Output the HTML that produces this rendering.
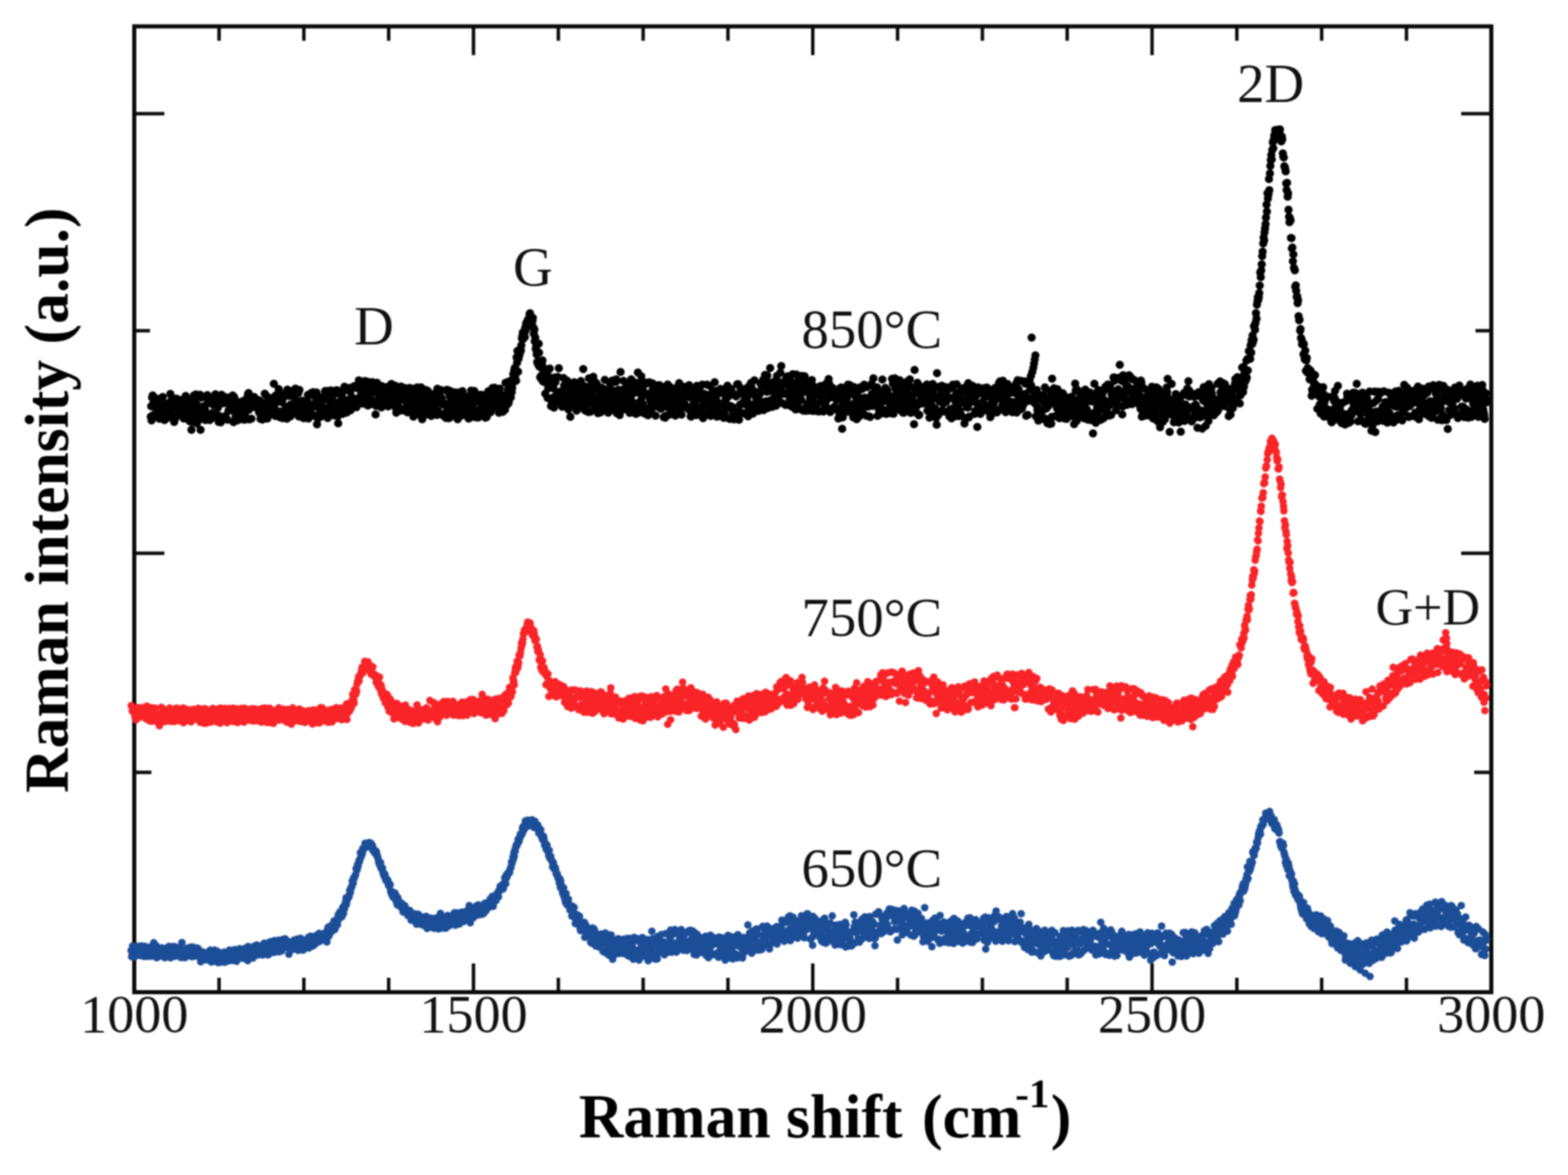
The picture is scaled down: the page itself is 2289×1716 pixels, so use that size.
<!DOCTYPE html>
<html><head><meta charset="utf-8"><style>
html,body{margin:0;padding:0;background:#fff;}
svg{display:block}
#w{filter:blur(1px)}
text{font-family:"Liberation Serif","Times New Roman",serif;}
</style></head><body><div id="w">
<svg width="2289" height="1716" viewBox="0 0 2289 1716">
<rect width="2289" height="1716" fill="#ffffff"/>
<g fill="none" stroke="#0a0a0a" stroke-width="6">
<rect x="196.0" y="38.5" width="1981.0" height="1410.5" stroke-linejoin="miter"/>
<path d="M319.8 1449.0v-21M319.8 38.5v21M443.6 1449.0v-21M443.6 38.5v21M567.4 1449.0v-21M567.4 38.5v21M691.2 1449.0v-42M691.2 38.5v42M815.1 1449.0v-21M815.1 38.5v21M938.9 1449.0v-21M938.9 38.5v21M1062.7 1449.0v-21M1062.7 38.5v21M1186.5 1449.0v-42M1186.5 38.5v42M1310.3 1449.0v-21M1310.3 38.5v21M1434.1 1449.0v-21M1434.1 38.5v21M1557.9 1449.0v-21M1557.9 38.5v21M1681.8 1449.0v-42M1681.8 38.5v42M1805.6 1449.0v-21M1805.6 38.5v21M1929.4 1449.0v-21M1929.4 38.5v21M2053.2 1449.0v-21M2053.2 38.5v21M196.0 166h44M2177.0 166h-44M196.0 483h23M2177.0 483h-23M196.0 808h44M2177.0 808h-44M196.0 1128h25M2177.0 1128h-25" stroke-width="5"/>
</g>
<path d="M220.1 608.4h0m0.6 -15.1h0m0.6 20.6h0m0.7 -33.5h0m0.9 -2.9h0m0.6 28.7h0m0.8 -18.4h0m0.7 4.2h0m0.7 -11.2h0m0.5 0.4h0m0.9 24.2h0m0.5 -8.9h0m0.8 -3h0m0.7 -4.8h0m0.7 12.7h0m0.7 4.4h0m0.8 -2.1h0m0.6 1h0m0.8 6.9h0m0.6 -29.4h0m0.8 26.8h0m0.7 -17.2h0m0.6 11.4h0m0.7 8h0m0.8 0.5h0m0.7 -31.9h0m0.7 29.7h0m0.6 -5.5h0m0.7 -11.6h0m0.6 21.2h0m0.8 -19.3h0m0.6 12h0m0.7 2h0m0.8 -18.9h0m0.6 17.3h0m0.9 3.6h0m0.5 -9.3h0m0.8 -10.7h0m0.7 5h0m0.6 8.8h0m0.9 -14h0m0.6 -14.8h0m0.7 28.4h0m0.8 -19.1h0m0.6 24.7h0m0.7 -28.1h0m0.6 14.6h0m0.9 -4.6h0m0.6 19.3h0m0.7 5.7h0m0.7 -7.2h0m0.6 -14.1h0m0.8 15.4h0m0.7 -15.5h0m0.7 -12.6h0m0.6 24.3h0m0.9 0.1h0m0.5 -20.1h0m0.8 10.3h0m0.6 -3.7h0m0.9 -8h0m0.6 0.8h0m0.7 -1.8h0m0.6 16.7h0m0.8 1.5h0m0.6 -1.9h0m0.7 -2.4h0m0.8 -9.9h0m0.8 16.2h0m0.7 6.9h0m0.6 -12.9h0m0.7 3.1h0m0.7 9h0m0.7 -32.1h0m0.7 2.3h0m0.8 6.3h0m0.6 18h0m0.6 -4.3h0m0.8 -3.7h0m0.8 -5h0m0.7 18.4h0m0.6 4.6h0m0.6 -27.1h0m0.8 27.9h0m0.8 -29.1h0m0.6 41.1h0m0.6 -12.3h0m0.8 -14.2h0m0.8 14.8h0m0.7 -26.6h0m0.7 -11.9h0m0.6 36.7h0m0.8 -23h0m0.7 18.9h0m0.7 -34h0m0.6 5h0m0.8 37.2h0m0.6 -26.8h0m0.6 -12.8h0m0.9 35.6h0m0.5 -15.8h0m0.7 9.3h0m0.7 -10.1h0m0.7 -21.2h0m0.8 51.3h0m0.6 -47h0m0.9 21.3h0m0.5 -22.9h0m0.9 25.2h0m0.7 2.7h0m0.7 -10.4h0m0.7 -3.7h0m0.6 19.5h0m0.8 -16.1h0m0.7 17.2h0m0.7 -32.9h0m0.5 27h0m0.9 -3.6h0m0.7 -27h0m0.7 2.8h0m0.6 6h0m0.7 -3.3h0m0.8 4.9h0m0.7 25.9h0m0.5 -25.2h0m0.8 -5.2h0m0.6 -1.7h0m0.9 5.2h0m0.5 17h0m0.8 6.4h0m0.7 -27.2h0m0.7 9.1h0m0.7 -4.5h0m0.6 -8h0m0.9 3h0m0.6 -6.6h0m0.8 12h0m0.7 -1.8h0m0.6 20.9h0m0.7 3.3h0m0.7 -14.6h0m0.7 -17.4h0m0.6 38.1h0m0.7 -9h0m0.7 7.6h0m0.8 -25.7h0m0.8 27.7h0m0.6 -33.5h0m0.6 -6.8h0m0.9 2h0m0.7 31.6h0m0.7 -21.2h0m0.6 -6.2h0m0.6 0.5h0m0.9 25.5h0m0.6 -28.9h0m0.7 27.7h0m0.8 2.8h0m0.7 -29.3h0m0.7 -0.1h0m0.7 32.2h0m0.7 -30.2h0m0.6 17.1h0m0.6 -9.6h0m0.9 -7.6h0m0.6 -2.6h0m0.6 5h0m0.9 8.8h0m0.5 4.5h0m0.9 -14.9h0m0.7 15.8h0m0.7 -21.8h0m0.5 17.9h0m0.7 21.1h0m0.8 -36.8h0m0.8 9h0m0.7 9.2h0m0.6 11h0m0.7 -3.7h0m0.8 6.6h0m0.7 2.2h0m0.7 -0.4h0m0.7 -22.4h0m0.6 -4.1h0m0.6 25.8h0m0.8 -25.5h0m0.6 16.9h0m0.9 -2.8h0m0.7 -0.3h0m0.6 -11.2h0m0.7 21h0m0.8 -2.4h0m0.6 -16.7h0m0.7 -6.5h0m0.7 0.2h0m0.7 27.2h0m0.6 -9.1h0m0.9 4.5h0m0.5 4.1h0m0.9 -17.6h0m0.5 1h0m0.8 -11.2h0m0.8 -5.7h0m0.6 -3.7h0m0.7 -1.2h0m0.6 24.6h0m0.9 13.8h0m0.6 -19.2h0m0.7 -6.6h0m0.6 -4.7h0m0.8 29.5h0m0.6 -31.3h0m0.7 0.2h0m0.9 5.5h0m0.7 4.1h0m0.6 -6.3h0m0.6 -3.8h0m0.9 14.5h0m0.5 -6.1h0m0.7 -2.4h0m0.9 9.8h0m0.7 -1.7h0m0.6 -8.7h0m0.7 9.8h0m0.7 -7.4h0m0.6 -3.3h0m0.8 18.2h0m0.7 -17.4h0m0.8 17.4h0m0.5 9.2h0m0.8 -17.6h0m0.7 3.1h0m0.7 -3.6h0m0.6 19.1h0m0.8 -8.3h0m0.6 -15.3h0m0.7 8.2h0m0.7 1.9h0m0.7 -24.3h0m0.9 27.7h0m0.7 2.1h0m0.7 -26.8h0m0.7 16.5h0m0.7 16.8h0m0.6 -17.3h0m0.8 8.6h0m0.6 3.2h0m0.7 -17.9h0m0.6 18h0m0.9 -22.4h0m0.7 1.2h0m0.6 2.3h0m0.6 3.9h0m0.7 -6.6h0m0.9 17.8h0m0.7 2.2h0m0.7 -23.9h0m0.5 -19.9h0m0.9 35.6h0m0.6 -6.9h0m0.6 18.5h0m0.9 -30.4h0m0.7 -0.3h0m0.7 5.7h0m0.6 3.5h0m0.7 0.6h0m0.8 -3.3h0m0.6 -15.1h0m0.6 3.2h0m0.9 37.7h0m0.7 -8.1h0m0.6 2.1h0m0.7 -23.8h0m0.6 5.5h0m0.9 2.6h0m0.7 23.2h0m0.5 -29h0m0.7 -3.3h0m0.8 29.5h0m0.7 -31.4h0m0.7 30.5h0m0.7 2.1h0m0.6 -14.7h0m0.7 2.2h0m0.9 14.9h0m0.6 -42.4h0m0.7 28.7h0m0.8 4.1h0m0.7 -28.9h0m0.6 5.2h0m0.8 15.3h0m0.7 14.7h0m0.6 -17.4h0m0.6 15.2h0m0.9 -13.8h0m0.5 -0.9h0m0.7 12h0m0.7 -6.9h0m0.8 -26.4h0m0.6 9.6h0m0.9 9.1h0m0.6 8.8h0m0.6 -29.9h0m0.9 33.2h0m0.7 3.6h0m0.6 -34.5h0m0.7 4h0m0.7 17.5h0m0.7 -17.5h0m0.7 34.4h0m0.8 -38.7h0m0.5 19.2h0m0.8 -3h0m0.6 12.1h0m0.9 10.1h0m0.6 -19.9h0m0.7 -2.8h0m0.6 11.9h0m0.7 -9.7h0m0.7 23.2h0m0.8 -7.9h0m0.8 -13.1h0m0.6 15h0m0.7 -10.2h0m0.6 12.2h0m0.9 -11.5h0m0.7 4.1h0m0.7 -12.7h0m0.5 -9.8h0m0.7 34.5h0m0.8 -5.7h0m0.8 -6h0m0.7 -5.6h0m0.7 -1.1h0m0.7 5.8h0m0.7 -24.9h0m0.5 0.4h0m0.8 2.9h0m0.8 -4h0m0.7 -0.4h0m0.7 34.2h0m0.7 -15.1h0m0.7 -0.2h0m0.7 -2.6h0m0.6 -1.9h0m0.6 0.5h0m0.8 -14.4h0m0.6 46.5h0m0.8 -13.2h0m0.6 4.8h0m0.7 -15.8h0m0.9 -4.5h0m0.6 -10.8h0m0.8 26.2h0m0.7 -18.7h0m0.6 20.7h0m0.7 -23.5h0m0.8 19.5h0m0.5 -10.4h0m0.8 1.8h0m0.8 1.4h0m0.7 -13.8h0m0.5 -1.7h0m0.9 -4.6h0m0.5 -6.1h0m0.8 10.3h0m0.6 1h0m0.7 -1.9h0m0.9 20.5h0m0.7 9.5h0m0.5 -15.3h0m0.9 -24.3h0m0.7 14.2h0m0.7 16.3h0m0.7 -20.2h0m0.7 17.1h0m0.6 -28h0m0.7 17h0m0.8 -7.5h0m0.5 4.8h0m0.9 -7.9h0m0.6 29.3h0m0.6 -34.4h0m0.7 35.2h0m0.8 -9.4h0m0.8 -22.1h0m0.5 31h0m0.8 -36.3h0m0.8 29.7h0m0.6 -29.7h0m0.8 38.2h0m0.6 10.1h0m0.7 -30.9h0m0.6 5.1h0m0.9 5.1h0m0.6 -4.8h0m0.8 -0.6h0m0.6 -0.5h0m0.6 -16.8h0m0.8 4.7h0m0.6 25.1h0m0.7 -14h0m0.8 -2.1h0m0.7 -19.5h0m0.8 -4.2h0m0.5 36.2h0m0.7 -31.2h0m0.7 14.5h0m0.8 18.4h0m0.6 -4.8h0m0.7 4h0m0.7 -32h0m0.7 -0.6h0m0.8 17.4h0m0.7 5.9h0m0.8 -26h0m0.7 6h0m0.7 26.3h0m0.7 -17.5h0m0.6 9.3h0m0.7 -10.1h0m0.7 -14.4h0m0.8 22.4h0m0.5 6h0m0.8 -30.5h0m0.8 18.6h0m0.7 -0.1h0m0.6 1h0m0.6 -19.3h0m0.8 30.4h0m0.7 -29.6h0m0.6 1.9h0m0.7 19h0m0.8 2h0m0.7 -32.5h0m0.8 32.2h0m0.5 -23.9h0m0.8 23.8h0m0.6 -10.1h0m0.8 9.5h0m0.6 -20.9h0m0.7 -1.5h0m0.8 24.9h0m0.8 -3.5h0m0.6 -28.9h0m0.6 23.5h0m0.7 -7.3h0m0.8 -16.9h0m0.8 26.3h0m0.7 -16.8h0m0.7 12.9h0m0.7 -8.1h0m0.7 -13.3h0m0.6 34.9h0m0.7 -13.4h0m0.7 -10.7h0m0.7 20.4h0m0.7 1.9h0m0.7 -7h0m0.6 -24.8h0m0.9 16.4h0m0.7 -15.3h0m0.5 -1.8h0m0.9 27.6h0m0.7 4.6h0m0.6 -25.9h0m0.6 -1.3h0m0.8 -1.7h0m0.7 -0.1h0m0.7 44h0m0.6 -12.4h0m0.9 -24.8h0m0.5 -9.1h0m0.9 8.4h0m0.5 17.9h0m0.9 -9.6h0m0.5 3.9h0m0.9 13.4h0m0.6 -19h0m0.6 14.5h0m0.8 -19.2h0m0.8 25.8h0m0.6 -31.2h0m0.8 14.3h0m0.7 6.9h0m0.6 -10.3h0m0.8 14.1h0m0.7 -23.2h0m0.6 18.1h0m0.8 0.6h0m0.7 -2.9h0m0.5 -15.6h0m0.9 17.9h0m0.6 4.3h0m0.8 3.5h0m0.7 2.1h0m0.6 -1.5h0m0.6 -18.8h0m0.7 -9.5h0m0.9 0h0m0.6 10.4h0m0.8 9.7h0m0.6 -23.1h0m0.6 23.3h0m0.9 -18.3h0m0.6 23.7h0m0.8 -0.8h0m0.7 -3.8h0m0.5 -2.1h0m0.9 4.8h0m0.5 -24.4h0m0.8 32.2h0m0.8 7.3h0m0.5 -23.2h0m0.8 -8.5h0m0.8 18.4h0m0.7 9h0m0.5 -4.5h0m0.8 3h0m0.6 -17.8h0m0.8 -7.6h0m0.7 26.8h0m0.8 -33.7h0m0.7 34.8h0m0.6 -19.2h0m0.7 17h0m0.6 -13.5h0m0.7 14.4h0m0.8 -22.5h0m0.6 21.3h0m0.8 -30.1h0m0.7 15.8h0m0.6 -8.9h0m0.7 13h0m0.8 9.8h0m0.6 5.5h0m0.7 -19.5h0m0.8 19.5h0m0.7 -0.2h0m0.6 -34.5h0m0.7 -0.9h0m0.8 12.1h0m0.6 11h0m0.8 -18.8h0m0.8 25.6h0m0.6 2.9h0m0.6 -31.4h0m0.8 1.2h0m0.6 39.6h0m0.8 -2.9h0m0.8 -25.6h0m0.5 3h0m0.9 -7.1h0m0.6 6h0m0.6 -12h0m0.9 -3.9h0m0.5 -0.4h0m0.9 26.6h0m0.7 -24.4h0m0.6 9.5h0m0.6 24.2h0m0.8 4.1h0m0.8 -8.5h0m0.6 -11.6h0m0.6 -19.9h0m0.9 32.4h0m0.7 14.2h0m0.5 -24.9h0m0.7 -8.5h0m0.8 -9.4h0m0.7 0.2h0m0.8 36.5h0m0.6 -8.5h0m0.6 -15.9h0m0.8 -12.4h0m0.8 13.5h0m0.7 -8.8h0m0.7 12.2h0m0.6 -15.2h0m0.7 32.9h0m0.8 -10.5h0m0.7 -10h0m0.6 -1.9h0m0.6 0.8h0m0.8 14.8h0m0.7 10.2h0m0.6 -21.8h0m0.7 -9.4h0m0.8 9.7h0m0.6 -6h0m0.7 25.6h0m0.7 -9h0m0.8 -5.3h0m0.6 -16.4h0m0.7 24.9h0m0.7 1.5h0m0.7 -26.6h0m0.9 31.4h0m0.5 -38.2h0m0.9 17.4h0m0.5 15.6h0m0.8 2.9h0m0.7 -24.4h0m0.8 9.8h0m0.7 15.3h0m0.6 -33.5h0m0.6 -1.1h0m0.8 11.7h0m0.8 24.5h0m0.6 -15.3h0m0.6 15.9h0m0.9 -17.5h0m0.6 -0.2h0m0.6 19.7h0m0.7 -17.2h0m0.9 0.4h0m0.6 18.6h0m0.8 -9.4h0m0.5 -31.8h0m0.8 26.1h0m0.6 -22.9h0m0.8 35.5h0m0.7 2.8h0m0.7 -40.1h0m0.6 8.6h0m0.8 29.8h0m0.8 -24h0m0.7 4.6h0m0.5 6.5h0m0.7 4h0m0.7 -24.8h0m0.8 19.3h0m0.6 -21.9h0m0.7 16.4h0m0.9 7.4h0m0.6 -11.7h0m0.7 19.1h0m0.6 -18.9h0m0.7 -5.7h0m0.7 17.6h0m0.9 15.3h0m0.5 -39h0m0.9 24.9h0m0.6 8.1h0m0.8 2.4h0m0.5 -20.4h0m0.8 0h0m0.7 12.7h0m0.6 -27.5h0m0.7 2.9h0m0.9 -5.1h0m0.5 12.4h0m0.8 22.4h0m0.8 -5.7h0m0.6 -21.7h0m0.8 17h0m0.6 -12.1h0m0.8 13.9h0m0.7 5.7h0m0.7 -3h0m0.7 -14.6h0m0.6 -3.2h0m0.8 13.9h0m0.6 15h0m0.6 -32.7h0m0.7 22.5h0m0.8 9h0m0.7 -11.5h0m0.8 -28h0m0.6 17.9h0m0.8 13.2h0m0.7 -20.3h0m0.5 11.8h0m0.8 9.4h0m0.8 3.5h0m0.5 -35.1h0m0.8 7.1h0m0.6 22.7h0m0.9 8.7h0m0.6 -8.9h0m0.6 -19.8h0m0.7 5.2h0m0.8 16.9h0m0.8 6.9h0m0.7 -33h0m0.7 7.4h0m0.6 -3.7h0m0.6 -2.3h0m0.9 18.4h0m0.7 -11.8h0m0.5 -8.2h0m0.9 24.7h0m0.7 -12.5h0m0.6 17.9h0m0.7 -17.1h0m0.7 -7.3h0m0.8 23.5h0m0.6 -24.3h0m0.7 28.5h0m0.7 -30.6h0m0.7 30.2h0m0.6 -0.7h0m0.7 -6.4h0m0.8 -3.6h0m0.7 -27.2h0m0.7 22.9h0m0.7 -23.6h0m0.8 14.6h0m0.5 -6.2h0m0.8 22.6h0m0.7 -18.5h0m0.8 7.7h0m0.5 -7.9h0m0.8 -16.6h0m0.6 8.3h0m0.8 2.7h0m0.7 -7.5h0m0.8 -3.8h0m0.6 27.9h0m0.6 -1.2h0m0.8 -0.9h0m0.8 0.9h0m0.7 -13.3h0m0.7 -9.9h0m0.6 25.4h0m0.7 -7.8h0m0.8 15.3h0m0.5 -32.8h0m0.8 -2.3h0m0.7 20.5h0m0.8 10.6h0m0.6 -20h0m0.6 8.7h0m0.7 9.5h0m0.9 4.6h0m0.5 -20.2h0m0.7 15.1h0m0.9 -17.8h0m0.6 -1.7h0m0.6 21.5h0m0.8 -39.5h0m0.6 23.1h0m0.9 -23.4h0m0.5 32.6h0m0.7 -14.5h0m0.9 -7.9h0m0.6 20.1h0m0.6 -2h0m0.8 -5.1h0m0.8 -25.4h0m0.6 19.7h0m0.7 4.2h0m0.7 -11.4h0m0.7 3.8h0m0.6 -6.1h0m0.7 -6.8h0m0.9 -13.4h0m0.6 6.8h0m0.7 -11.8h0m0.8 -3.8h0m0.6 -0.6h0m0.6 10.4h0m0.9 8.6h0m0.6 -33.9h0m0.8 7.4h0m0.5 -17h0m0.9 30.2h0m0.7 -18.6h0m0.5 -12.6h0m0.8 6.8h0m0.6 -3.1h0m0.8 -5h0m0.8 1.7h0m0.6 -7.7h0m0.8 -10h0m0.6 -3.7h0m0.7 -5.1h0m0.6 9.7h0m0.9 -9.1h0m0.7 3.5h0m0.7 2.7h0m0.6 -13.4h0m0.7 3.8h0m0.6 -9.7h0m0.7 -2.2h0m0.9 0.6h0m0.7 1.1h0m0.6 -6.1h0m0.8 10.3h0m0.5 -7h0m0.9 -11.1h0m0.6 -0.9h0m0.8 6.3h0m0.6 2.4h0m0.8 2.1h0m0.6 1.4h0m0.8 -1.1h0m0.6 -4.4h0m0.7 13.8h0m0.6 9.2h0m0.9 -6.1h0m0.5 17.2h0m0.8 -5.3h0m0.7 16.7h0m0.7 -3.9h0m0.6 11.7h0m0.8 11.1h0m0.7 -0.6h0m0.8 4.4h0m0.7 -30.5h0m0.5 12.9h0m0.8 20.9h0m0.8 15.2h0m0.6 -19.1h0m0.8 17.1h0m0.6 4.7h0m0.7 -21.7h0m0.7 -5.8h0m0.7 30.7h0m0.8 -13.4h0m0.6 -5.5h0m0.8 20h0m0.6 -11.3h0m0.6 28.3h0m0.8 -20.6h0m0.7 -8.7h0m0.8 9.7h0m0.7 -9.9h0m0.5 35.7h0m0.7 -14.3h0m0.7 -7.3h0m0.8 -5.6h0m0.8 -15.7h0m0.7 44.8h0m0.7 -17.1h0m0.5 26.9h0m0.7 -34.4h0m0.9 28.3h0m0.5 -0.2h0m0.7 -5.8h0m0.9 -13.5h0m0.6 27.9h0m0.6 -43.9h0m0.7 6.8h0m0.9 0h0m0.6 24.7h0m0.8 -3.1h0m0.5 -4.4h0m0.9 11h0m0.5 -35.7h0m0.9 27.3h0m0.7 -40.1h0m0.7 41.4h0m0.7 8.2h0m0.6 -15.3h0m0.7 4.8h0m0.7 2.5h0m0.8 5.4h0m0.6 9.1h0m0.7 -8.2h0m0.6 2.2h0m0.7 -36h0m0.9 11h0m0.7 27.6h0m0.6 -0.4h0m0.8 -2.9h0m0.7 -4.5h0m0.7 -0.2h0m0.7 -26.8h0m0.7 12.5h0m0.6 7.2h0m0.8 22.5h0m0.7 -14.9h0m0.5 -12.7h0m0.7 -5.1h0m0.9 43.6h0m0.7 -21.4h0m0.7 -16.3h0m0.6 -5.1h0m0.8 4.7h0m0.6 4.6h0m0.6 -13.1h0m0.9 9.8h0m0.7 -13.7h0m0.5 33.9h0m0.8 -1h0m0.7 -6.2h0m0.7 -22.9h0m0.8 37.6h0m0.5 -13.4h0m0.7 0.3h0m0.9 -10.3h0m0.7 15.8h0m0.7 -19.8h0m0.5 20.8h0m0.7 -5.6h0m0.7 -19.7h0m0.9 -11.4h0m0.7 22.5h0m0.6 -14.6h0m0.6 18.2h0m0.8 -19.5h0m0.7 -23.9h0m0.7 35h0m0.6 22.2h0m0.9 2.6h0m0.5 -10.4h0m0.9 -23.7h0m0.7 35.4h0m0.7 -30.8h0m0.5 11.6h0m0.7 8.6h0m0.7 -5.7h0m0.8 17.9h0m0.6 -49.2h0m0.8 37h0m0.6 -19.1h0m0.8 30.8h0m0.7 -13.9h0m0.6 -5.5h0m0.7 -24.3h0m0.7 1.8h0m0.9 2.4h0m0.6 -11.5h0m0.6 29.5h0m0.9 -10.8h0m0.7 16.7h0m0.7 -27.5h0m0.5 36.3h0m0.7 -9.8h0m0.8 -24.6h0m0.8 20.2h0m0.6 -11.7h0m0.6 35h0m0.7 -2.1h0m0.9 -20.7h0m0.5 11.6h0m0.8 -10.1h0m0.8 19.9h0m0.5 -22.6h0m0.8 -13.3h0m0.7 14h0m0.7 -4.6h0m0.6 1.3h0m0.8 0h0m0.7 12.4h0m0.6 -21.2h0m0.8 -13.4h0m0.6 27.4h0m0.7 1h0m0.9 15.7h0m0.6 -24.7h0m0.7 25.2h0m0.7 0h0m0.8 3.4h0m0.7 -34.2h0m0.6 21.9h0m0.8 -31.9h0m0.6 10.2h0m0.6 14.2h0m0.8 -23.5h0m0.8 13.9h0m0.5 25.4h0m0.7 -43h0m0.8 19.1h0m0.8 8.2h0m0.7 -12.3h0m0.6 20.2h0m0.6 -33.5h0m0.9 33.1h0m0.5 -32.9h0m0.7 -3.8h0m0.9 49.6h0m0.6 -8.1h0m0.7 -14.2h0m0.8 11.4h0m0.6 -23.4h0m0.8 8.6h0m0.6 28.4h0m0.7 -20.5h0m0.6 -42.4h0m0.8 36.8h0m0.7 -6.3h0m0.8 -4.4h0m0.6 28.8h0m0.7 -13.9h0m0.6 -28h0m0.9 21.5h0m0.7 -2.6h0m0.7 -2.4h0m0.6 8.3h0m0.7 7.9h0m0.6 -24.2h0m0.7 -5.3h0m0.8 28.2h0m0.6 -9.8h0m0.7 11h0m0.9 11.7h0m0.5 -12.7h0m0.7 15h0m0.8 -9h0m0.8 -11.9h0m0.6 -27.9h0m0.6 6h0m0.8 9.2h0m0.8 -8.6h0m0.6 28.4h0m0.8 -14.8h0m0.6 -16.2h0m0.7 34h0m0.7 11.5h0m0.6 -43.3h0m0.8 44.2h0m0.7 -37.4h0m0.6 1.5h0m0.8 19.9h0m0.7 -44.5h0m0.7 50h0m0.7 -20.5h0m0.6 28.8h0m0.8 -30.4h0m0.7 -13.7h0m0.7 43.8h0m0.8 -52.4h0m0.7 31.1h0m0.6 11.3h0m0.7 -2.1h0m0.8 11.4h0m0.7 -39.1h0m0.5 10h0m0.8 29.3h0m0.7 2.8h0m0.8 -8.4h0m0.6 -37.1h0m0.6 1.4h0m0.9 43.1h0m0.5 -27.2h0m0.9 30.3h0m0.5 -46.6h0m0.9 -1.3h0m0.5 -0.3h0m0.9 25h0m0.7 2.9h0m0.6 0.8h0m0.8 16.2h0m0.6 -7.6h0m0.7 -25.1h0m0.6 -10.3h0m0.7 19.6h0m0.9 -14.3h0m0.5 25.3h0m0.9 -5.8h0m0.7 0.9h0m0.5 21.1h0m0.9 -23.2h0m0.6 -5h0m0.8 15.4h0m0.6 -14.5h0m0.6 -9.4h0m0.9 -7.6h0m0.7 31.3h0m0.6 -9.5h0m0.6 -21.6h0m0.7 13.8h0m0.9 20.4h0m0.7 -20h0m0.5 0.8h0m0.8 -1.7h0m0.7 16.6h0m0.7 -25.9h0m0.6 42.5h0m0.7 -29.8h0m0.8 -5.7h0m0.6 36.2h0m0.8 -2.7h0m0.7 -24.5h0m0.8 -18.2h0m0.5 30h0m0.9 -33.1h0m0.6 12.1h0m0.7 -4h0m0.7 36.1h0m0.6 -41.4h0m0.9 32.7h0m0.6 -28.2h0m0.7 17.4h0m0.6 9.8h0m0.7 2.9h0m0.7 -20h0m0.7 -7.9h0m0.9 18.3h0m0.7 -13.7h0m0.7 10.3h0m0.7 -6.1h0m0.7 27.2h0m0.7 -15.7h0m0.6 -24.8h0m0.8 21.4h0m0.5 -22.5h0m0.7 23.2h0m0.9 7.1h0m0.5 -21.7h0m0.9 -14.4h0m0.6 25.8h0m0.6 17.8h0m0.8 -8.5h0m0.8 -19.2h0m0.6 30.1h0m0.6 -9.8h0m0.7 -16h0m0.7 -4.2h0m0.7 9.1h0m0.9 -19.6h0m0.6 15.9h0m0.7 8.9h0m0.8 -22.3h0m0.7 26.8h0m0.5 -25.2h0m0.9 25.4h0m0.5 -20.6h0m0.8 -8.6h0m0.8 -2.1h0m0.5 34.8h0m0.7 -35.7h0m0.7 32.9h0m0.9 -14.9h0m0.6 27.6h0m0.6 0.4h0m0.9 -7.8h0m0.6 -23.2h0m0.7 26.1h0m0.8 2.1h0m0.6 -15.9h0m0.7 7.7h0m0.6 -27.9h0m0.8 32.9h0m0.8 -16.8h0m0.6 -3.1h0m0.7 23.7h0m0.8 -42.8h0m0.6 32.6h0m0.6 -19.8h0m0.9 -10.6h0m0.6 30.4h0m0.8 -13.4h0m0.5 -15.5h0m0.8 38.4h0m0.6 -10.8h0m0.9 12.1h0m0.7 -5.6h0m0.7 -39.5h0m0.7 33.8h0m0.6 15.2h0m0.8 -23.9h0m0.5 2.1h0m0.9 -13.7h0m0.5 7.7h0m0.9 -6.3h0m0.5 10.6h0m0.8 -1.1h0m0.8 -24.4h0m0.7 42.9h0m0.7 -12.6h0m0.5 13.2h0m0.9 -11.2h0m0.6 -0.5h0m0.8 -30h0m0.5 17.7h0m0.7 26.4h0m0.8 -28.9h0m0.7 21.2h0m0.7 -26.8h0m0.8 -2.3h0m0.7 22.8h0m0.6 0.7h0m0.7 -8.3h0m0.8 -27.8h0m0.7 32.8h0m0.6 -20.3h0m0.7 8.7h0m0.7 27.9h0m0.6 1.1h0m0.8 -0.1h0m0.7 -32.8h0m0.8 12.8h0m0.7 9h0m0.7 -8.4h0m0.5 7.4h0m0.9 -28.3h0m0.6 29.7h0m0.8 4.3h0m0.5 -33.4h0m0.8 34.8h0m0.7 -29.5h0m0.6 22.8h0m0.9 13.6h0m0.6 -16.5h0m0.6 10.5h0m0.9 -12.9h0m0.7 -8.6h0m0.6 0.2h0m0.6 10.8h0m0.8 -21.4h0m0.6 -9.2h0m0.7 32.1h0m0.8 -16.3h0m0.8 -6h0m0.7 38.8h0m0.5 -34.9h0m0.7 15.9h0m0.9 -24.7h0m0.6 7.1h0m0.6 -3.6h0m0.8 22.7h0m0.8 9.3h0m0.6 6.6h0m0.8 2.3h0m0.7 -12.8h0m0.6 -23.5h0m0.7 29h0m0.7 2.8h0m0.6 -28.9h0m0.8 30h0m0.7 -47.8h0m0.7 15.2h0m0.7 -15.4h0m0.7 40.4h0m0.7 11.6h0m0.6 -9h0m0.7 -13h0m0.8 -23.9h0m0.6 35.1h0m0.9 -34.9h0m0.6 3.2h0m0.6 18.9h0m0.8 -20.5h0m0.7 6.8h0m0.6 10.1h0m0.7 4.3h0m0.9 14.1h0m0.6 -1h0m0.6 -21.4h0m0.8 6.5h0m0.6 -18h0m0.9 14.9h0m0.5 -19.4h0m0.8 42h0m0.6 -43.1h0m0.7 33.4h0m0.8 -26.7h0m0.6 25h0m0.9 -32.3h0m0.5 -4.9h0m0.7 6.3h0m0.9 10.1h0m0.7 16h0m0.5 12.3h0m0.8 -27.7h0m0.6 26.2h0m0.8 -47.1h0m0.8 37.9h0m0.5 -21.4h0m0.9 15.3h0m0.6 -4.8h0m0.8 2.5h0m0.7 2.9h0m0.5 -2.3h0m0.9 -6.5h0m0.6 21.1h0m0.7 -9h0m0.6 -15h0m0.7 17.9h0m0.9 -33.2h0m0.5 -1h0m0.8 30.9h0m0.6 -25.2h0m0.7 -6.2h0m0.9 -4.6h0m0.7 44.2h0m0.6 -11.9h0m0.7 9.6h0m0.8 -49.2h0m0.7 6.8h0m0.5 -3h0m0.8 34.7h0m0.7 -13.7h0m0.6 -23.7h0m0.7 47.5h0m0.7 -4.8h0m0.8 -26.8h0m0.8 5.7h0m0.6 0.4h0m0.6 -32.9h0m0.8 21.8h0m0.8 24.6h0m0.7 -12.6h0m0.6 22.9h0m0.6 -3.7h0m0.8 -32.7h0m0.8 2.8h0m0.5 27.2h0m0.9 -13.1h0m0.5 -17.7h0m0.7 25.5h0m0.9 10h0m0.6 -18.4h0m0.7 -25.3h0m0.7 20.3h0m0.6 15.6h0m0.9 -2.3h0m0.6 -7.8h0m0.6 0.2h0m0.7 -16h0m0.9 -14.6h0m0.5 21.6h0m0.8 -31.3h0m0.6 40.2h0m0.8 -12.5h0m0.8 26.8h0m0.6 -15.5h0m0.8 -13h0m0.5 14.7h0m0.7 -0.6h0m0.7 -19.2h0m0.9 35.9h0m0.7 -30.4h0m0.5 -9.3h0m0.8 21.8h0m0.7 -24.1h0m0.6 9.5h0m0.8 4.5h0m0.8 -2.4h0m0.7 30.7h0m0.5 -8.9h0m0.8 -32.5h0m0.6 28.3h0m0.7 -16.7h0m0.8 32.2h0m0.6 -34.7h0m0.7 -12.9h0m0.7 22.5h0m0.7 15h0m0.7 -7.5h0m0.7 4.2h0m0.8 4.4h0m0.6 12.8h0m0.7 -22.5h0m0.7 -28.3h0m0.8 33.6h0m0.6 -23.1h0m0.8 31.6h0m0.8 -29.4h0m0.7 7.8h0m0.6 29.7h0m0.7 -17.5h0m0.6 -24h0m0.8 3.2h0m0.6 25.1h0m0.8 -35h0m0.8 19.8h0m0.5 -7.6h0m0.7 38.4h0m0.7 -2.4h0m0.8 -47.1h0m0.6 -0.6h0m0.8 49.6h0m0.6 -26.8h0m0.7 27.5h0m0.8 -30.6h0m0.6 20.7h0m0.7 7.7h0m0.8 -39h0m0.7 30.6h0m0.7 -26.3h0m0.6 36.5h0m0.8 -18h0m0.8 -0.4h0m0.5 -7.8h0m0.7 0.7h0m0.7 -18.9h0m0.9 44.9h0m0.6 -12.9h0m0.8 12.9h0m0.5 -35.8h0m0.8 9.6h0m0.6 4.5h0m0.7 16.8h0m0.8 4.9h0m0.7 -24.7h0m0.6 -4.9h0m0.8 27.6h0m0.6 -26.9h0m0.8 2.1h0m0.8 27.8h0m0.7 -34.6h0m0.5 0.6h0m0.9 20.2h0m0.5 -23.4h0m0.9 13.7h0m0.7 4h0m0.7 -5.8h0m0.5 -5.5h0m0.8 30.4h0m0.6 0.3h0m0.9 -35.5h0m0.5 31.6h0m0.8 -35h0m0.7 26.1h0m0.7 5.2h0m0.7 -33h0m0.8 7h0m0.7 3.3h0m0.5 -12.6h0m0.8 23.9h0m0.6 -28.5h0m0.8 7.2h0m0.6 11.5h0m0.8 29.7h0m0.7 -3.3h0m0.7 -25.1h0m0.7 23.7h0m0.6 -17.2h0m0.9 -13.5h0m0.5 31h0m0.7 -23h0m0.9 -2.3h0m0.5 21.8h0m0.7 0h0m0.7 3.5h0m0.7 -16.7h0m0.8 3.1h0m0.8 -2.5h0m0.5 1.9h0m0.8 -8.3h0m0.8 36.4h0m0.5 -12.3h0m0.8 4.6h0m0.6 -3.1h0m0.9 -33.9h0m0.6 28.4h0m0.8 -29.2h0m0.7 18.9h0m0.6 41.6h0m0.8 -16.9h0m0.6 -35h0m0.6 -3.1h0m0.8 19.1h0m0.7 -6.9h0m0.6 -3.6h0m0.9 -4.8h0m0.7 15.1h0m0.5 11.3h0m0.8 -19.6h0m0.7 -5.8h0m0.8 -14.3h0m0.7 33.2h0m0.7 6.2h0m0.6 -30.7h0m0.8 -8.1h0m0.5 28.5h0m0.9 -18h0m0.5 -5h0m0.7 29.8h0m0.8 -6.5h0m0.7 -15.6h0m0.8 33.9h0m0.6 -10h0m0.7 -34.2h0m0.8 34h0m0.5 -21.5h0m0.7 9.3h0m0.8 3.7h0m0.8 21.5h0m0.7 -19.4h0m0.6 -20.1h0m0.8 32.1h0m0.6 -2.1h0m0.6 6h0m0.9 -23.2h0m0.5 5.7h0m0.9 -25.9h0m0.7 24.3h0m0.6 4.7h0m0.8 -26.2h0m0.6 13.6h0m0.7 15.7h0m0.6 -13.7h0m0.9 2.4h0m0.6 -24.5h0m0.8 19.1h0m0.7 5.6h0m0.6 -1h0m0.7 21.7h0m0.8 -41.7h0m0.7 24.9h0m0.5 -0.5h0m0.8 1.9h0m0.6 2h0m0.7 -6.8h0m0.9 21.4h0m0.7 0.6h0m0.7 -29.1h0m0.7 0.2h0m0.7 -19.2h0m0.6 14.4h0m0.8 10.4h0m0.6 7.2h0m0.8 -40.4h0m0.7 12.6h0m0.5 19.4h0m0.7 -11.5h0m0.8 -5.2h0m0.6 5h0m0.9 8.4h0m0.5 10h0m0.7 -25.4h0m0.7 41.6h0m0.9 -24.8h0m0.6 -1.5h0m0.6 17.8h0m0.7 -9.4h0m0.9 3.9h0m0.5 -19.8h0m0.8 2h0m0.6 22.7h0m0.8 5.6h0m0.6 -49.6h0m0.8 49h0m0.8 -21.9h0m0.7 4.5h0m0.6 -2h0m0.6 15.2h0m0.8 -32.4h0m0.8 16.4h0m0.7 21.5h0m0.5 -24.8h0m0.8 -10h0m0.8 17h0m0.7 14.2h0m0.5 -3h0m0.8 -14.9h0m0.6 18.1h0m0.9 -21.3h0m0.5 -1.6h0m0.7 25.2h0m0.9 -13.9h0m0.6 -36.2h0m0.7 46.4h0m0.6 -39.2h0m0.9 43.7h0m0.6 -48.3h0m0.6 28.7h0m0.7 -32.2h0m0.7 15.3h0m0.8 24.4h0m0.7 -22h0m0.8 16.2h0m0.6 -13.6h0m0.8 24.2h0m0.7 -19.4h0m0.6 6.9h0m0.8 -22h0m0.6 -7.1h0m0.8 18.3h0m0.5 9.6h0m0.8 6.9h0m0.8 10.3h0m0.5 0.6h0m0.9 -29.1h0m0.6 30.9h0m0.7 -4.7h0m0.6 4.6h0m0.8 -11.9h0m0.8 -20.6h0m0.7 -10.4h0m0.5 21.3h0m0.7 17.7h0m0.9 -23.5h0m0.5 -18.2h0m0.8 10.7h0m0.7 14.7h0m0.8 -20.4h0m0.5 34h0m0.9 -42.1h0m0.7 45.3h0m0.7 3.8h0m0.6 -16.8h0m0.8 -7.3h0m0.7 15.1h0m0.7 -27.8h0m0.6 11h0m0.6 19.6h0m0.7 22.7h0m0.8 -79.3h0m0.7 29.4h0m0.8 18.2h0m0.5 -17.5h0m0.8 32.4h0m0.7 -9.9h0m0.6 -33.8h0m0.9 31h0m0.7 -16.2h0m0.5 32.7h0m0.7 -0.9h0m0.9 -41.9h0m0.5 20.9h0m0.8 4.2h0m0.8 -9.5h0m0.6 -9.8h0m0.8 19.6h0m0.5 -11.3h0m0.8 -3.8h0m0.8 14.9h0m0.5 -13.4h0m0.9 8.3h0m0.6 -3.4h0m0.7 6.7h0m0.8 -9.5h0m0.7 -10h0m0.5 -6.1h0m0.7 38.2h0m0.9 -16h0m0.7 7.5h0m0.7 -14.6h0m0.7 33.3h0m0.6 -35h0m0.6 2h0m0.9 9.3h0m0.5 17.3h0m0.8 -11h0m0.7 -23.2h0m0.6 -8.6h0m0.7 45.2h0m0.7 -37.2h0m0.9 9.4h0m0.7 21.1h0m0.6 -2.8h0m0.7 -15.3h0m0.6 29.1h0m0.9 9.9h0m0.5 -75.3h0m0.7 55.7h0m0.9 5.7h0m0.5 -41.4h0m0.9 16.1h0m0.7 5.6h0m0.5 -1h0m0.8 -20.1h0m0.7 9h0m0.8 26.7h0m0.6 -37.9h0m0.6 36.3h0m0.8 -10.6h0m0.7 -2.1h0m0.7 2h0m0.7 12.1h0m0.6 -16h0m0.9 -19.4h0m0.7 3h0m0.7 18.5h0m0.5 14.3h0m0.9 -21.3h0m0.7 -14.3h0m0.6 3.8h0m0.6 12.5h0m0.9 -14.8h0m0.5 41h0m0.9 -10.6h0m0.5 6.5h0m0.9 -38.2h0m0.6 44.9h0m0.6 -29.8h0m0.7 -15.8h0m0.8 -3.6h0m0.6 34.4h0m0.7 4.4h0m0.7 7.7h0m0.7 -13.1h0m0.7 -9.6h0m0.7 16.2h0m0.8 -27.6h0m0.6 -12.9h0m0.7 32.5h0m0.9 1.4h0m0.7 -18.7h0m0.5 31.3h0m0.8 -8.7h0m0.8 -26.4h0m0.7 28h0m0.5 -15.5h0m0.8 -13.5h0m0.7 -4.4h0m0.6 40.5h0m0.9 -19.8h0m0.7 -18.9h0m0.6 16.8h0m0.6 -11.9h0m0.9 44.7h0m0.5 -30h0m0.9 -21.4h0m0.5 -2.2h0m0.9 7.8h0m0.6 21.8h0m0.7 -12.2h0m0.8 12.8h0m0.6 -35.8h0m0.7 50.3h0m0.6 -1.1h0m0.8 -36.9h0m0.7 -7.3h0m0.8 23h0m0.6 -12.7h0m0.7 -3.5h0m0.7 6.3h0m0.8 -14.1h0m0.7 11h0m0.5 3.8h0m0.7 -6.9h0m0.8 33.1h0m0.7 -32.9h0m0.6 28.2h0m0.7 -21.3h0m0.9 -3h0m0.5 13.4h0m0.7 34.6h0m0.7 -33.1h0m0.7 -24.5h0m0.8 5.9h0m0.8 18.4h0m0.6 13.8h0m0.8 0.5h0m0.7 -10.7h0m0.5 -21.9h0m0.9 28.3h0m0.5 -9.7h0m0.8 -23.2h0m0.6 19.1h0m0.9 -9.8h0m0.6 14h0m0.6 -17.9h0m0.8 23.1h0m0.6 -29.3h0m0.8 26.9h0m0.7 3.1h0m0.6 -30.3h0m0.7 2.6h0m0.7 32h0m0.7 -32.8h0m0.7 11.3h0m0.7 -7.7h0m0.8 22.9h0m0.7 14.8h0m0.7 -30.3h0m0.7 10.3h0m0.6 15.9h0m0.8 -3.3h0m0.6 -22.6h0m0.8 12.3h0m0.7 -1h0m0.7 10.4h0m0.7 1.3h0m0.6 -35.6h0m0.8 17.2h0m0.7 -11.5h0m0.6 -0.5h0m0.7 30.5h0m0.9 -36.1h0m0.5 7h0m0.9 4.6h0m0.6 -18.2h0m0.6 39.2h0m0.9 -41.8h0m0.7 19.6h0m0.7 21.5h0m0.6 -37.6h0m0.6 22.6h0m0.8 8.7h0m0.8 -35.9h0m0.5 40.5h0m0.8 -28.2h0m0.8 22.8h0m0.5 -13.2h0m0.8 -9.9h0m0.8 34h0m0.5 -17.1h0m0.8 10.6h0m0.6 0.8h0m0.7 -35.4h0m0.7 7.1h0m0.8 25.5h0m0.7 -18.6h0m0.7 11.7h0m0.7 -18.3h0m0.7 27h0m0.6 -22.1h0m0.8 -7.1h0m0.7 21h0m0.7 14.9h0m0.8 -35.7h0m0.5 29.5h0m0.9 -25.7h0m0.6 20h0m0.8 -16h0m0.5 -0.4h0m0.8 -4.1h0m0.6 -9.3h0m0.7 42.4h0m0.9 -14.5h0m0.6 -32.9h0m0.6 28.7h0m0.7 -15.7h0m0.9 8.1h0m0.6 22.2h0m0.7 -19h0m0.8 15h0m0.7 -38.2h0m0.7 36.4h0m0.6 4h0m0.7 -14.4h0m0.6 0.7h0m0.8 8.1h0m0.8 -3.5h0m0.5 -30.5h0m0.9 18.2h0m0.7 -15.1h0m0.6 -0.6h0m0.6 47.6h0m0.9 -21.2h0m0.5 -27.3h0m0.8 47.2h0m0.7 -23.4h0m0.7 2.5h0m0.7 -3.6h0m0.6 2.2h0m0.8 -14.7h0m0.8 16.7h0m0.6 -23h0m4.8 14.2h0m0.8 -1.8h0m0.7 15h0m0.6 17.9h0m0.9 -28h0m0.6 -10.3h0m0.8 29h0m0.7 -3.3h0m0.7 19h0m0.5 -16.3h0m0.7 -15.2h0m0.9 -4.2h0m0.5 31h0m0.9 -28.9h0m0.5 19.3h0m0.7 -19.2h0m0.8 -2.7h0m0.8 21.3h0m0.5 -22.7h0m0.7 10.3h0m0.7 25.1h0m0.9 -1.2h0m0.5 -45.1h0m0.7 24h0m0.8 -20.7h0m0.6 27.3h0m0.7 -6.7h0m0.8 28.2h0m0.7 -23.8h0m0.6 -13.1h0m0.7 10.8h0m0.7 20.9h0m0.7 6.5h0m0.9 -2.4h0m0.6 -46h0m0.7 48h0m0.8 -10.1h0m0.5 -55.8h0m0.9 23h0m0.7 8.5h0m0.6 -14h0m0.6 -3.5h0m0.7 16.7h0m0.7 24.3h0m0.7 -19h0m0.9 -13.5h0m0.5 16.9h0m0.9 4h0m0.7 -27.9h0m0.5 38.6h0m0.9 -7.7h0m0.5 -19.1h0m0.9 30.6h0m0.7 -37h0m0.7 16.9h0m0.6 -11.3h0m0.6 10h0m0.7 -13.7h0m0.9 19.7h0m0.6 -21.1h0m0.7 5h0m0.6 27.1h0m0.9 4.6h0m0.7 -17.9h0m0.5 -14h0m0.8 3.1h0m0.8 10.7h0m0.6 18.8h0m0.8 -10.2h0m0.7 -14.2h0m0.5 11.3h0m0.9 -1.2h0m0.6 1h0m0.8 4.1h0m0.5 -21.7h0m0.9 7.2h0m0.6 1.8h0m0.8 -10.3h0m0.5 5.4h0m0.8 3.6h0m0.8 5.3h0m0.7 -8.4h0m0.5 23.4h0m0.7 10.6h0m0.8 -21.8h0m0.7 -37.3h0m0.7 10.4h0m0.6 -1.8h0m0.8 45.8h0m0.7 -23.4h0m0.6 -21.7h0m0.8 33.2h0m0.8 4.7h0m0.6 -25.5h0m0.7 22.7h0m0.7 -20.6h0m0.8 -9.1h0m0.6 32h0m0.7 -12.9h0m0.6 6.2h0m0.9 -7.4h0m0.6 7.3h0m0.6 -3.7h0m0.9 14.3h0m0.6 -15.4h0m0.7 8.9h0m0.7 -35.4h0m0.8 8.8h0m0.7 9.3h0m0.6 10.5h0m0.6 9.4h0m0.8 5.8h0m0.8 -28.3h0m0.7 -9.1h0m0.5 8.1h0m0.7 -7.6h0m0.7 -2.6h0m0.9 40.2h0m0.6 -9.3h0m0.7 -17.8h0m0.7 21.2h0m0.8 0.7h0m0.7 24.8h0m0.7 -51.8h0m0.5 -5.7h0m0.8 -14.9h0m0.6 50.3h0m0.9 -9.2h0m0.6 15.9h0m0.8 -41.2h0m0.7 6.8h0m0.5 10.7h0m0.9 9.8h0m0.7 -34.1h0m0.6 39.3h0m0.6 -14.2h0m0.9 2.5h0m0.5 -17.2h0m0.7 33.3h0m0.8 -41.5h0m0.8 24h0m0.6 -3.3h0m0.7 -17.9h0m0.6 15h0m0.9 21.1h0m0.6 -13.1h0m0.8 -13h0m0.5 15.5h0m0.7 -35.4h0m0.8 3.9h0m0.8 19h0m0.7 -23.4h0m0.5 30.1h0m0.9 -32.8h0m0.6 32.6h0m0.6 11.8h0m0.9 1.1h0m0.7 -1.7h0m0.6 -40.9h0m0.8 4.9h0m0.6 36.8h0m0.6 -30.2h0m0.7 6h0m0.9 -7.4h0m0.5 14.4h0m0.8 -37.6h0m0.6 34.6h0m0.8 -30h0m0.7 -4.3h0m0.7 21.3h0m0.8 26.4h0m0.6 -4.9h0m0.6 -7.5h0m0.8 -9.2h0m0.6 -1.1h0m0.7 -8.2h0m0.8 24.6h0m0.6 -41.3h0m0.8 -19h0m0.7 43.7h0m0.7 2.1h0m0.6 -2.9h0m0.8 -19.3h0m0.8 48.9h0m0.7 -11.8h0m0.6 -45.4h0m0.6 31.4h0m0.9 -22.9h0m0.7 26.9h0m0.5 -0.5h0m0.8 -12.2h0m0.8 -9h0m0.6 3h0m0.7 26.5h0m0.6 -18.5h0m0.7 -8.5h0m0.9 4.1h0m0.7 -20.2h0m0.5 2.3h0m0.8 34.7h0m0.6 -35.2h0m0.9 19.3h0m0.7 17.8h0m0.7 3.3h0m0.6 -36.5h0m0.6 23.6h0m0.7 -9.4h0m0.9 0.6h0m0.5 -13.9h0m0.7 24.7h0m0.8 -10.6h0m0.6 12.6h0m0.8 -10.4h0m0.7 3.4h0m0.8 -16.5h0m0.7 2.9h0m0.5 8.6h0m0.7 -0.3h0m0.8 21.4h0m0.7 -14h0m0.6 -19h0m0.9 39.4h0m0.6 -41.1h0m0.7 2.9h0m0.7 49.9h0m0.7 -42.3h0m0.6 38.2h0m0.8 -20.1h0m0.7 -17.4h0m0.6 33.1h0m0.8 -3h0m0.7 9.8h0m0.6 -20h0m0.7 11h0m0.9 -16.1h0m0.5 23.1h0m0.7 -28.2h0m0.7 12.6h0m0.7 -8.5h0m0.9 23.5h0m0.6 2.8h0m0.8 -37.8h0m0.5 5.9h0m0.7 15.4h0m0.8 8.7h0m0.7 -34.5h0m0.8 7.1h0m0.7 4.7h0m0.5 34.7h0m0.7 -21.4h0m0.7 -4.2h0m0.8 15.6h0m0.6 -22.8h0m0.9 -1.1h0m0.6 -11.7h0m0.7 0.4h0m0.8 40.5h0m0.6 8.6h0m0.6 -43.9h0m0.7 -3.4h0m0.9 27.2h0m0.5 -2.4h0m0.8 31.2h0m0.8 -41.9h0m0.6 4.2h0m0.6 -4.3h0m0.8 4.3h0m0.6 19.2h0m0.8 10.7h0m0.6 -42h0m0.7 20.8h0m0.8 7.8h0m0.7 9.6h0m0.6 -30.2h0m0.8 -3.3h0m0.6 -4.3h0m0.8 -8.8h0m0.6 7.3h0m0.7 -19.8h0m0.9 51.1h0m0.5 -22.5h0m0.8 9.2h0m0.8 39.8h0m0.7 -29.5h0m0.5 3.7h0m0.9 0.5h0m0.7 -44.7h0m0.6 29.2h0m0.8 16.3h0m0.6 -16.8h0m0.6 2.2h0m0.7 25.1h0m0.8 -15.9h0m0.7 11.5h0m0.6 -29.1h0m0.7 -7.7h0m0.9 1.9h0m0.5 17.5h0m0.9 -5.1h0m0.6 -4.6h0m0.7 24.1h0m0.8 7.5h0m0.6 -22.8h0m0.6 0.3h0m0.7 -9.7h0m0.9 45.8h0m0.6 -27.8h0m0.6 0.8h0m0.7 -26.1h0m0.9 25.5h0m0.5 -7.3h0m0.7 17.5h0m0.9 -39.4h0m0.6 41.1h0m0.7 -7.1h0m0.8 -16.9h0m0.6 15.2h0m0.8 -13.1h0m0.7 8.3h0m0.5 -33.7h0m0.8 10.5h0m0.8 -21.3h0m0.6 13.1h0m0.8 9.3h0m0.5 -7.4h0m0.7 39h0m0.7 -34.9h0m0.9 19.6h0m0.5 20h0m0.7 -0.6h0m0.7 -2.8h0m0.7 -18.3h0m0.8 -18h0m0.6 3.7h0m0.9 30.5h0m0.6 -6.5h0m0.8 -12.3h0m0.7 15.5h0m0.7 -12.4h0m0.5 13.9h0m0.8 16.7h0m0.8 -46.6h0m0.5 -5.1h0m0.9 27.3h0m0.7 9.2h0m0.6 -36.1h0m0.6 1.6h0m0.9 34h0m0.5 -9.7h0m0.9 -24.4h0m0.5 50.9h0m0.8 -55.9h0m0.7 15.1h0m0.8 -19.8h0m0.7 39.8h0m0.5 1.1h0m0.7 -30.3h0m0.9 46h0m0.5 -40.3h0m0.8 7.5h0m0.7 11.3h0m0.6 6.4h0m0.7 -13.4h0m0.7 21.7h0m0.8 -54h0m0.7 34.9h0m0.8 8.6h0m0.6 -17.1h0m0.7 -17.8h0m0.7 -2.9h0m0.6 7.6h0m0.8 26.9h0m0.6 -0.2h0m0.9 -19.7h0m0.7 25.2h0m0.7 -12h0m0.5 -10.1h0m0.9 -1h0m0.6 4.1h0m0.8 9.3h0m0.7 5.1h0m0.5 -9.8h0m0.8 -31.6h0m0.6 38.7h0m0.9 -10.5h0m0.7 -3.5h0m0.5 -27.1h0m0.9 -1.2h0m0.5 16.1h0m0.7 6.7h0m0.7 -1.3h0m0.9 -17.6h0m0.6 4.5h0m0.6 13.3h0m0.7 -18.9h0m0.8 26.7h0m0.7 6.7h0m0.8 -32.3h0m0.5 17.5h0m0.9 9.6h0m0.5 -10.8h0m0.8 -3h0m0.8 -6.2h0m0.7 8.4h0m0.5 -7.7h0m0.9 39.1h0m0.6 -39.9h0m0.7 10.4h0m0.8 20.5h0m0.6 6.8h0m0.6 -23.4h0m0.7 6h0m0.7 -19h0m0.8 2.6h0m0.6 24.1h0m0.8 -6h0m0.8 -1.4h0m0.6 -21.9h0m0.7 -5.8h0m0.7 -7.4h0m0.6 30.2h0m0.8 -2.3h0m0.7 -12.8h0m0.8 -17.7h0m0.6 17.5h0m0.8 -11.2h0m0.7 2.9h0m0.7 6.1h0m0.7 23.2h0m0.7 -27h0m0.5 14.9h0m0.8 -25.9h0m0.8 9.7h0m0.7 -24.3h0m0.7 0h0m0.7 35.8h0m0.7 -36.8h0m0.6 29h0m0.8 -19.4h0m0.7 12h0m0.7 -7h0m0.5 5.3h0m0.9 -29h0m0.5 24.8h0m0.7 -26.9h0m0.8 16.4h0m0.8 -16.8h0m0.7 -11.3h0m0.7 10.1h0m0.7 -9.6h0m0.6 10.8h0m0.6 -19.9h0m0.9 10.9h0m0.5 -18h0m0.9 5.5h0m0.5 -12.5h0m0.9 8.3h0m0.7 -2.3h0m0.5 -19.9h0m0.8 -0.5h0m0.7 5.7h0m0.7 -9.9h0m0.7 -14.2h0m0.8 8h0m0.6 -20.3h0m0.8 -5.4h0m0.5 -5.5h0m0.7 4h0m0.8 -4h0m0.6 -6.2h0m0.7 -11h0m0.7 -19.2h0m0.8 7.1h0m0.7 -9.9h0m0.7 -9h0m0.6 -11.9h0m0.7 -6.6h0m0.9 -12h0m0.6 -8.7h0m0.8 4.4h0m0.5 -11.8h0m0.7 -5.8h0m0.8 -6.2h0m0.6 -9.5h0m0.9 -19.1h0m0.5 10.4h0m0.8 -26.8h0m0.6 7.8h0m0.9 -6.3h0m0.7 -22.2h0m0.5 16.1h0m0.9 -24.5h0m0.6 -11h0m0.7 -8.4h0m0.7 -7.5h0m0.6 6.6h0m0.8 -13.8h0m0.8 -11h0m0.7 8.5h0m0.5 -12.5h0m0.8 -6.3h0m0.7 -1.1h0m0.7 -6.6h0m0.6 3.4h0m0.7 5.7h0m0.8 -5.2h0m0.6 -0.5h0m0.7 -4h0m0.8 -0.1h0m0.8 2h0m0.5 6.7h0m0.9 -5.3h0m0.6 -3.8h0m0.8 15.8h0m0.7 0.4h0m0.5 1.4h0m0.8 -7h0m0.6 3.9h0m0.8 20.4h0m0.7 5h0m0.8 1.1h0m0.7 12.7h0m0.7 1.2h0m0.6 2.9h0m0.7 3.4h0m0.7 17.6h0m0.7 9.6h0m0.6 -10.3h0m0.9 20.2h0m0.6 -5h0m0.6 24h0m0.8 10.1h0m0.6 8h0m0.8 -5.6h0m0.8 3.2h0m0.5 25.4h0m0.9 0.4h0m0.5 15.1h0m0.7 -1.5h0m0.8 20.1h0m0.7 -10.1h0m0.8 19.9h0m0.6 1.2h0m0.7 2.2h0m0.6 23.8h0m0.8 -1.8h0m0.6 7.9h0m0.7 8.8h0m0.9 -0.3h0m0.5 9.7h0m0.7 -4.6h0m0.7 23.6h0m0.8 5.9h0m0.6 -0.8h0m0.9 16.2h0m0.5 -2.7h0m0.7 13h0m0.8 1.8h0m0.7 7.6h0m0.8 -0.2h0m0.6 -1.9h0m0.8 16.6h0m0.5 -14.8h0m0.9 18.7h0m0.5 3.8h0m0.7 -13.1h0m0.9 29.5h0m0.6 -15.1h0m0.7 -3.6h0m0.7 21.3h0m0.6 -6.5h0m0.7 1.6h0m0.9 3.1h0m0.6 2h0m0.6 9.9h0m0.7 -13.6h0m0.7 11h0m0.7 -8.9h0m0.9 35.5h0m0.6 -9h0m0.8 1.3h0m0.5 -17.2h0m0.8 17.3h0m0.7 -9.8h0m0.6 9h0m0.9 -21.9h0m0.6 13.4h0m0.8 13.2h0m0.5 -9.9h0m0.9 10.2h0m0.6 22.3h0m0.8 -28.3h0m0.7 4.3h0m0.6 -8h0m0.8 14.2h0m0.6 11.6h0m0.6 -21.6h0m0.8 34.8h0m0.7 -2.7h0m0.6 0.2h0m0.8 -18.6h0m0.7 12.4h0m0.8 -29.7h0m0.6 9.8h0m0.8 33.2h0m0.5 -20.6h0m0.8 17.8h0m0.7 -26.1h0m0.7 21.1h0m0.6 -19.7h0m0.7 26.9h0m0.7 -10.3h0m0.9 -18.3h0m0.5 28.9h0m0.8 -9.7h0m0.6 0.6h0m0.9 4.8h0m0.5 1.6h0m0.7 5.8h0m0.8 4.6h0m0.7 0.8h0m0.7 -13.5h0m0.8 -24h0m0.5 27.6h0m0.9 -1.8h0m0.5 -19.7h0m0.9 -4.4h0m0.6 -10.2h0m0.6 23.5h0m0.8 18.3h0m0.7 -4.9h0m0.6 3.9h0m0.7 -7.2h0m0.7 -41h0m0.7 31.2h0m0.8 -6.5h0m0.7 1.4h0m0.8 5.9h0m0.5 -6.3h0m0.7 26.2h0m0.7 0.4h0m0.7 2.3h0m0.8 -4.6h0m0.6 1.6h0m0.8 -10.8h0m0.8 -16.7h0m0.7 30.9h0m0.6 -1.6h0m0.6 3.2h0m0.8 -3.7h0m0.8 -11h0m0.5 -20.1h0m0.7 -10.1h0m0.7 4.4h0m0.9 -2h0m0.6 28.1h0m0.6 11.8h0m0.7 -37h0m0.7 3.4h0m0.8 31.9h0m0.8 -14.4h0m0.6 5.4h0m0.7 -7.6h0m0.7 4.5h0m0.7 -1h0m0.6 -29h0m0.8 17.9h0m0.6 3.7h0m0.8 -21.6h0m0.6 26.6h0m0.9 -15.4h0m0.5 8.8h0m0.9 -33.1h0m0.5 35.4h0m0.9 -11h0m0.6 30.4h0m0.6 -25.7h0m0.8 -14.1h0m0.8 7.1h0m0.6 6.2h0m0.7 15.7h0m0.7 -21.7h0m0.8 13.3h0m0.6 18.3h0m0.8 -41h0m0.5 22.4h0m0.8 -16.8h0m0.7 18.8h0m0.6 -9.7h0m0.9 30.3h0m0.5 -16h0m0.8 16.5h0m0.7 -19.6h0m0.8 -13.2h0m0.5 -4.3h0m0.8 20h0m0.8 3.8h0m0.7 -12.6h0m0.5 16.8h0m0.8 -38h0m0.7 18.8h0m0.7 19.3h0m0.6 7.2h0m0.7 11.9h0m0.9 -21h0m0.6 13.5h0m0.6 -19.5h0m0.9 -13.4h0m0.7 21.3h0m0.5 -37.8h0m0.9 39.1h0m0.5 19.8h0m0.9 -59h0m0.7 28.9h0m0.6 -16.4h0m0.7 23.1h0m0.7 7.7h0m0.6 -32.7h0m0.7 28.3h0m0.8 -38.6h0m0.6 32.9h0m0.9 -4.3h0m0.7 0.9h0m0.7 -28.3h0m0.6 28.3h0m0.7 -4.3h0m0.7 -3.6h0m0.7 20.7h0m0.7 -18.4h0m0.7 -24.7h0m0.6 31.8h0m0.9 -10.3h0m0.6 -5.7h0m0.6 14.3h0m0.8 8.3h0m0.8 -11.2h0m0.6 18.6h0m0.7 -22.8h0m0.6 12.1h0m0.8 -33h0m0.8 29.4h0m0.6 -12.2h0m0.7 -4.9h0m0.8 2.2h0m0.7 -9.5h0m0.7 3.5h0m0.5 27.8h0m0.7 4.2h0m0.7 -25.6h0m0.7 28.6h0m0.7 -25.5h0m0.9 -7.3h0m0.5 9.2h0m0.7 -21.8h0m0.8 36.4h0m0.8 4.9h0m0.7 -19h0m0.7 12.4h0m0.7 -25.9h0m0.5 13.3h0m0.7 -23h0m0.7 20.1h0m0.9 -5h0m0.6 23.6h0m0.8 2.6h0m0.7 -24.3h0m0.5 -13.5h0m0.8 39.6h0m0.6 -12.1h0m0.8 -11.9h0m0.6 2.6h0m0.9 -30.5h0m0.5 35.8h0m0.7 -15.5h0m0.7 -8.1h0m0.7 21.3h0m0.8 -25.5h0m0.8 -3.8h0m0.6 21.1h0m0.8 6.1h0m0.7 14.3h0m0.6 1.4h0m0.7 -16.3h0m0.6 0.3h0m0.8 -15h0m0.8 8.3h0m0.7 2.9h0m0.6 -13.2h0m0.6 12.8h0m0.9 -3.3h0m0.6 -14.9h0m0.8 15.2h0m0.5 -8.5h0m0.8 30.9h0m0.8 -5.8h0m0.7 -18.7h0m0.6 3.6h0m0.6 -10.6h0m0.9 7.7h0m0.7 -2.9h0m0.5 -17.2h0m0.7 23.9h0m0.7 23.9h0m0.9 -13.1h0m0.6 -30.6h0m0.6 26.3h0m0.8 -18.7h0m0.7 -0.8h0m0.8 9.5h0m0.6 17.5h0m0.8 -28h0m0.5 -6.6h0m0.8 9.8h0m0.6 -1.9h0m0.8 28.9h0m0.6 -8.6h0m0.7 -6.4h0m0.8 10.5h0m0.8 -27h0m0.7 0.7h0m0.6 20.2h0m0.7 -1.4h0m0.8 -28h0m0.5 43.6h0m0.8 -8.8h0m0.7 -13.3h0m0.6 -21.4h0m0.9 30.7h0m0.7 15h0m0.7 -17.1h0m0.6 1.4h0m0.8 -6h0m0.5 -26.2h0m0.9 23.5h0m0.5 -16.8h0m0.8 32.3h0m0.6 -33.9h0m0.9 7.5h0m0.5 22.9h0m0.8 -27h0m0.6 22h0m0.9 20h0m0.5 -28.6h0m0.7 -3.1h0m0.9 -19.1h0m0.6 50.2h0m0.6 -13.3h0m0.7 -0.6h0m0.7 -1.8h0m0.9 -8.5h0m0.5 25.6h0m0.7 -8h0m0.8 -41.4h0m0.6 -0.9h0m0.9 9.5h0m0.6 8.4h0m0.7 -5.9h0m0.7 5.1h0m0.6 30.3h0m0.9 2.6h0m0.7 -33.6h0m0.5 -10.8h0m0.8 57.6h0m0.6 -46.9h0m0.7 7.2h0m0.8 12h0m0.6 -12.9h0m0.7 1.5h0m0.7 18.6h0m0.7 -24.9h0m0.9 -4.9h0m0.7 13h0m0.6 9.7h0m0.8 -29.1h0m0.7 12.4h0m0.6 13.4h0m0.6 -14.9h0m0.8 -14.8h0m0.6 5.1h0m0.9 31.8h0m0.5 1.5h0m0.9 -22h0m0.5 -3.3h0m0.9 31.3h0m0.6 -40.3h0m0.7 38.5h0m0.8 -45.6h0m0.6 43.9h0m0.6 -36.3h0m0.7 -1.8h0m0.7 7.8h0m0.7 17.3h0m0.8 -19.3h0m0.8 20.1h0m0.6 -0.6h0m0.7 7.2h0m0.6 -23.3h0m0.8 31.3h0m0.7 -33h0m0.7 4.5h0m0.6 1.2h0m0.8 15.9h0m0.7 -29.8h0m0.7 2.4h0m0.7 6.7h0m0.7 32.7h0m0.7 -33.7h0m0.8 24.2h0m0.6 8.5h0m0.8 -47.4h0m0.7 21.1h0m0.6 19.1h0m0.7 7.1h0m0.8 -44.5h0m0.7 1.2h0m0.7 24.6h0m0.5 -14.9h0m0.7 7.7h0m0.9 3.1h0m0.6 14h0m0.8 -33.8h0m0.6 1h0m0.7 29.9h0m0.7 6.7h0m0.6 -40.6h0m0.7 40.4h0m0.8 5.1h0m0.8 -0.9h0m0.7 -18.2h0m0.6 -12.6h0m0.7 -11.7h0m0.7 17.6h0m0.8 15.5h0m0.6 1.4h0m0.6 -37.5h0m0.7 7.6h0m0.9 28.7h0m0.7 4.1h0m0.7 3.9h0m0.6 5.2h0m0.7 -23.6h0m0.7 -14h0m0.6 13.7h0m0.9 -4.1h0m-664.3 -90.8h0m5.5 26h0m-1 6h0m-1 6h0m-1 6h0m-1.5 6h0m-2 6h0m-2 6h0" fill="none" stroke="#000000" stroke-width="12" stroke-linecap="round"/><path d="M191.6 1030.4h0m0.6 0.5h0m0.8 7.3h0m0.6 -5.5h0m0.6 2.8h0m0.9 2.8h0m0.7 2.1h0m0.6 2.7h0m0.8 4.9h0m0.5 -12.2h0m0.9 15.5h0m0.7 -12.3h0m0.6 0.5h0m0.6 -4.8h0m0.9 -1.1h0m0.6 9.9h0m0.7 -1.2h0m0.7 4.7h0m0.7 -12.9h0m0.7 4.5h0m0.7 8.5h0m0.7 -1.6h0m0.6 1.2h0m0.7 -7.7h0m0.9 -5.6h0m0.7 4.9h0m0.6 2.3h0m0.7 3.7h0m0.8 -3.6h0m0.7 -7.9h0m0.5 14.4h0m0.8 2.6h0m0.8 -18.3h0m0.7 -0.2h0m0.6 3.5h0m0.7 5.3h0m0.7 -5.2h0m0.8 14.3h0m0.7 3.5h0m0.6 -1.9h0m0.7 -1.8h0m0.6 -15.5h0m0.8 19.8h0m0.6 -1.8h0m0.7 -16.4h0m0.7 6.4h0m0.7 -4.9h0m0.9 0.3h0m0.5 13.9h0m0.8 -16.9h0m0.7 0.3h0m0.8 19.1h0m0.6 0.2h0m0.8 -2.7h0m0.5 0.7h0m0.8 -8.5h0m0.8 1.4h0m0.5 1.3h0m0.9 2.8h0m0.5 11.3h0m0.8 -10.7h0m0.6 3.4h0m0.7 -0.5h0m0.7 -19h0m0.9 8.2h0m0.7 -6.5h0m0.6 19.2h0m0.7 -10.8h0m0.6 3.3h0m0.8 -9.9h0m0.7 6.1h0m0.8 11.2h0m0.6 -11.1h0m0.8 -2h0m0.6 0.5h0m0.8 4.8h0m0.7 -4.6h0m0.7 -1.2h0m0.5 -3.6h0m0.9 12.6h0m0.6 -15.1h0m0.7 0.5h0m0.7 12.1h0m0.6 6.8h0m0.9 -8.2h0m0.6 -3.7h0m0.6 1h0m0.9 4.3h0m0.5 -4.4h0m0.8 -6.7h0m0.7 17.9h0m0.7 -10.1h0m0.6 -8.8h0m0.8 16.1h0m0.7 -2h0m0.7 -14.2h0m0.6 -0.4h0m0.7 14.1h0m0.9 1.4h0m0.6 2.8h0m0.7 -9.4h0m0.8 -2.5h0m0.6 -3.8h0m0.6 12.1h0m0.8 -13.6h0m0.7 4.3h0m0.7 4.3h0m0.6 -7h0m0.8 -2.9h0m0.6 21.3h0m0.9 -12.5h0m0.6 -1.3h0m0.8 -6.7h0m0.6 2.9h0m0.7 13.7h0m0.7 -5.8h0m0.6 6.9h0m0.8 -0.6h0m0.6 -0.8h0m0.7 -1h0m0.9 0.2h0m0.6 -1.4h0m0.7 -12.3h0m0.8 5.4h0m0.5 9.6h0m0.8 2.3h0m0.6 -1.2h0m0.9 -14.4h0m0.5 7h0m0.8 -5.4h0m0.8 -4h0m0.6 10.5h0m0.7 -1.4h0m0.6 5.3h0m0.7 -13.8h0m0.9 5.6h0m0.7 -5.4h0m0.7 3.6h0m0.6 9.4h0m0.7 -1h0m0.6 -14.3h0m0.9 6.3h0m0.6 -5.4h0m0.6 10.7h0m0.7 8.7h0m0.8 -12.9h0m0.7 5.5h0m0.8 -1.8h0m0.5 3.5h0m0.9 -13.5h0m0.7 11.8h0m0.7 8.6h0m0.5 -1h0m0.7 -8.1h0m0.9 -11.9h0m0.7 13.2h0m0.6 -7.6h0m0.6 15.5h0m0.8 -10.7h0m0.8 -0.7h0m0.7 9.8h0m0.5 -11.6h0m0.7 1.6h0m0.8 -1.2h0m0.6 -5.8h0m0.9 1.2h0m0.6 15.9h0m0.6 -6.9h0m0.8 -6.5h0m0.6 -2.5h0m0.9 -4.1h0m0.7 11.5h0m0.6 -8.8h0m0.6 9.2h0m0.9 6h0m0.6 -0.9h0m0.6 -4.2h0m0.7 -11.1h0m0.8 3.3h0m0.8 14.7h0m0.5 -16.6h0m0.9 15.7h0m0.5 -0.5h0m0.9 -10.9h0m0.7 -7.5h0m0.5 10.8h0m0.7 10.7h0m0.7 -21.7h0m0.7 14.2h0m0.8 -1.4h0m0.7 -8.6h0m0.7 10.8h0m0.6 -13.5h0m0.9 2.1h0m0.5 5.8h0m0.8 -5h0m0.7 -4.3h0m0.8 13.7h0m0.7 4.5h0m0.6 -2.3h0m0.7 5.1h0m0.7 -14.2h0m0.6 -4.4h0m0.9 4.8h0m0.7 -4.5h0m0.6 -2.3h0m0.8 1.5h0m0.5 11h0m0.7 -6.8h0m0.9 -4.1h0m0.7 9h0m0.6 2.6h0m0.7 5.6h0m0.7 -19.3h0m0.6 1.9h0m0.8 8.3h0m0.8 9.3h0m0.6 -13.6h0m0.8 -5.2h0m0.5 6h0m0.9 10.6h0m0.6 -9.8h0m0.8 13.4h0m0.5 -9.1h0m0.8 -3.9h0m0.6 -6.1h0m0.9 9.7h0m0.5 -10.6h0m0.9 10.1h0m0.7 -10.6h0m0.5 8.3h0m0.8 2.7h0m0.7 -10.4h0m0.8 17.9h0m0.5 -14.3h0m0.9 15.7h0m0.5 -20.3h0m0.7 19.4h0m0.9 -7.1h0m0.5 -4.1h0m0.8 -3.1h0m0.7 11.7h0m0.8 -14.6h0m0.6 -0.6h0m0.8 2.5h0m0.7 6.8h0m0.6 -8.6h0m0.8 14.8h0m0.5 0.5h0m0.9 -1.5h0m0.5 -0.7h0m0.7 -14.3h0m0.8 -0.3h0m0.7 11.6h0m0.6 5.5h0m0.8 0.8h0m0.7 -15h0m0.6 -0.9h0m0.8 -1.9h0m0.8 8.4h0m0.5 5.3h0m0.7 -3h0m0.7 -8.3h0m0.7 3.7h0m0.7 11.4h0m0.9 -5.2h0m0.6 -10.3h0m0.7 0.3h0m0.8 13.6h0m0.5 -5.5h0m0.7 -10.2h0m0.7 18.6h0m0.7 0.5h0m0.7 -6.5h0m0.8 -13.4h0m0.8 16.4h0m0.6 -14.1h0m0.8 6.7h0m0.7 0.4h0m0.7 -10.1h0m0.7 8.1h0m0.6 -6.5h0m0.6 3.3h0m0.7 16.4h0m0.8 -5.1h0m0.6 -13.8h0m0.8 15.1h0m0.6 -5.2h0m0.8 -4.3h0m0.7 -7.6h0m0.7 5.2h0m0.6 15.8h0m0.9 0.1h0m0.7 -15.7h0m0.5 12.3h0m0.8 1.8h0m0.8 2.4h0m0.5 0.1h0m0.8 -10.5h0m0.7 -8.3h0m0.8 4.4h0m0.6 8.5h0m0.6 -6.9h0m0.7 -3h0m0.8 4h0m0.6 5.7h0m0.9 -0.6h0m0.7 2h0m0.6 -17.8h0m0.6 17.9h0m0.8 -12.8h0m0.8 10.5h0m0.6 -2.3h0m0.6 -7.8h0m0.7 5.6h0m0.8 2.9h0m0.8 2.5h0m0.6 -5.1h0m0.7 -9.4h0m0.7 12.7h0m0.6 2.6h0m0.8 1.4h0m0.7 0.7h0m0.7 -8.2h0m0.8 9.4h0m0.5 -15.9h0m0.9 -2.4h0m0.6 14.6h0m0.7 0.4h0m0.8 4h0m0.6 -5.1h0m0.6 1.7h0m0.8 -6.9h0m0.6 -6.6h0m0.9 19.3h0m0.5 -13.7h0m0.9 -2.8h0m0.6 -7.2h0m0.8 15.8h0m0.6 -6.1h0m0.6 -1.7h0m0.9 6.9h0m0.6 3.8h0m0.7 -0.3h0m0.8 -9.1h0m0.6 5.4h0m0.7 -1.6h0m0.6 -3.3h0m0.8 7.7h0m0.8 -1.5h0m0.5 -8.3h0m0.8 -6.1h0m0.7 18.1h0m0.7 -14.5h0m0.7 14.5h0m0.6 -10.9h0m0.9 7.6h0m0.5 0.9h0m0.8 -10.4h0m0.6 -2.4h0m0.7 4.2h0m0.9 -3.3h0m0.7 15.9h0m0.5 -12.6h0m0.7 8.7h0m0.9 -3.9h0m0.6 0.8h0m0.8 -0.4h0m0.5 4.8h0m0.7 -14.4h0m0.9 6h0m0.7 1.7h0m0.7 -1.3h0m0.5 2.1h0m0.7 -8.3h0m0.7 8.3h0m0.9 -2.4h0m0.6 -0.5h0m0.7 13.5h0m0.6 -20.2h0m0.7 9h0m0.7 -0.1h0m0.9 -8.8h0m0.5 8.7h0m0.9 7.6h0m0.6 -1.9h0m0.6 -13.7h0m0.7 17.7h0m0.7 -13.8h0m0.9 10.4h0m0.6 -6.6h0m0.8 10h0m0.6 -0.7h0m0.6 0.9h0m0.9 -19.7h0m0.7 -2.5h0m0.5 9h0m0.8 -7.3h0m0.8 17.8h0m0.6 -18.9h0m0.6 12.6h0m0.7 -7.9h0m0.7 9.8h0m0.9 -9.4h0m0.7 7.9h0m0.5 1.4h0m0.8 -8.7h0m0.6 12.9h0m0.7 -3.6h0m0.8 -3h0m0.6 8.5h0m0.9 -6.7h0m0.5 -10.5h0m0.7 17.2h0m0.7 -3.2h0m0.7 -3.9h0m0.9 1.6h0m0.7 -12.8h0m0.6 4.2h0m0.8 13.7h0m0.5 -8.5h0m0.7 2.8h0m0.8 -8.6h0m0.8 -4.6h0m0.6 1.1h0m0.7 8.7h0m0.6 -10.6h0m0.9 6.2h0m0.6 -7.1h0m0.8 8.9h0m0.5 6.8h0m0.9 -2.8h0m0.5 1.3h0m0.8 -9.1h0m0.7 9.3h0m0.6 -9.4h0m0.9 6.8h0m0.6 0.1h0m0.6 -11.4h0m0.9 17h0m0.6 -10.5h0m0.7 -2h0m0.7 10.7h0m0.8 -11.8h0m0.6 11.5h0m0.7 -15.1h0m0.8 12.9h0m0.6 -9h0m0.7 1.2h0m0.8 -10.9h0m0.6 22.6h0m0.7 -8.9h0m0.8 -8.2h0m0.7 -4h0m0.7 -0.6h0m0.7 9.9h0m0.7 -5.4h0m0.7 -7.4h0m0.6 9.1h0m0.8 -7.5h0m0.6 3.8h0m0.7 -9h0m0.7 -8.6h0m0.6 10.4h0m0.9 -2h0m0.5 4.6h0m0.8 -19.8h0m0.6 1h0m0.9 6h0m0.7 -6.6h0m0.7 2.1h0m0.7 -10.8h0m0.7 -3.6h0m0.6 0.4h0m0.8 -6.9h0m0.7 5.8h0m0.5 -7.8h0m0.7 0.8h0m0.8 -1.9h0m0.7 -1h0m0.8 -4.7h0m0.6 -2.7h0m0.6 -3h0m0.7 8.5h0m0.7 -9.3h0m0.8 4.6h0m0.6 -5.5h0m0.8 -6.7h0m0.7 12.2h0m0.6 -8.1h0m0.9 -1.8h0m0.7 8.2h0m0.7 -0.7h0m0.5 -6.7h0m0.8 -2.3h0m0.8 10.7h0m0.6 -6.8h0m0.6 6.5h0m0.8 -1.5h0m0.8 1.9h0m0.5 6.9h0m0.7 -4.3h0m0.9 -5.4h0m0.7 -0.4h0m0.6 -0.4h0m0.8 12.8h0m0.6 -2.7h0m0.7 1.4h0m0.7 3.4h0m0.8 -0.3h0m0.5 -2.5h0m0.8 10.6h0m0.7 -5.6h0m0.6 2.6h0m0.8 2.9h0m0.8 5.9h0m0.5 -10.8h0m0.9 11h0m0.5 -13.7h0m0.9 15.8h0m0.5 2.8h0m0.8 -7.1h0m0.6 12.9h0m0.7 -7.3h0m0.9 9.5h0m0.6 -4.3h0m0.8 8.8h0m0.6 -3.2h0m0.6 -4.5h0m0.7 6.2h0m0.8 8h0m0.8 -12.1h0m0.7 4.1h0m0.7 3.9h0m0.5 -8h0m0.7 17.8h0m0.8 -5.7h0m0.7 1h0m0.8 11.3h0m0.6 -18.7h0m0.6 1h0m0.7 2.1h0m0.9 0.8h0m0.7 1.1h0m0.7 16.1h0m0.5 -7.7h0m0.8 -3.1h0m0.8 1.2h0m0.6 18.4h0m0.6 -18.8h0m0.7 -2h0m0.8 7.6h0m0.6 -8h0m0.8 18.6h0m0.8 -20h0m0.5 3.7h0m0.8 -0.3h0m0.7 9.5h0m0.6 5.2h0m0.9 2.8h0m0.5 -13.6h0m0.8 12.4h0m0.6 -6.7h0m0.9 -3.5h0m0.6 -5.5h0m0.6 19.1h0m0.7 -8.6h0m0.7 -8h0m0.7 16.4h0m0.9 -9.6h0m0.5 1.5h0m0.9 11.4h0m0.7 -23.7h0m0.6 5.2h0m0.6 5.2h0m0.8 3.1h0m0.8 1h0m0.6 -6.7h0m0.7 4h0m0.8 1.9h0m0.5 -0.5h0m0.7 -6.3h0m0.8 18.4h0m0.7 -3.9h0m0.7 3.3h0m0.6 -12.6h0m0.9 -1.4h0m0.5 13.7h0m0.9 2.4h0m0.5 -14.2h0m0.9 -3.9h0m0.5 1.5h0m0.9 0.7h0m0.6 -0.4h0m0.8 6.5h0m0.7 -6.8h0m0.7 -10.5h0m0.6 8.8h0m0.8 5.3h0m0.7 12.2h0m0.5 -3.1h0m0.9 -17h0m0.6 5.6h0m0.8 10h0m0.6 -5.2h0m0.8 0.9h0m0.5 2.2h0m0.8 -2.5h0m0.7 -10.3h0m0.6 2.3h0m0.8 10.8h0m0.8 -5.9h0m0.6 6.2h0m0.8 -0.1h0m0.7 -12.9h0m0.5 0.1h0m0.7 -3.2h0m0.9 10.3h0m0.6 -8.2h0m0.8 15.8h0m0.6 -13h0m0.6 7.4h0m0.7 -4.6h0m0.8 -18.4h0m0.8 22.8h0m0.5 -3.7h0m0.8 -1.6h0m0.7 -2.7h0m0.8 -0.3h0m0.5 8.7h0m0.8 -6.5h0m0.8 -12.4h0m0.5 -1h0m0.8 1.3h0m0.6 21.6h0m0.8 -8.3h0m0.7 -1.7h0m0.6 -9.7h0m0.8 10.4h0m0.7 14.1h0m0.6 -22.9h0m0.7 2.5h0m0.9 -4.1h0m0.6 10.9h0m0.7 6.4h0m0.7 -13.2h0m0.7 0.9h0m0.7 1.9h0m0.7 -9.5h0m0.7 13.7h0m0.7 -11.6h0m0.7 8.4h0m0.7 -13h0m0.7 10.3h0m0.6 -2.3h0m0.7 3.6h0m0.9 -6.8h0m0.6 -4.7h0m0.6 20.1h0m0.8 -14.5h0m0.8 3.7h0m0.6 -2h0m0.7 -7h0m0.8 12.9h0m0.7 -3.3h0m0.7 -0.9h0m0.6 -7.7h0m0.7 6.5h0m0.6 -5.9h0m0.9 6.8h0m0.5 4.2h0m0.9 -13.1h0m0.7 20h0m0.6 -4.3h0m0.7 2.6h0m0.7 -9.8h0m0.6 0.5h0m0.7 1.9h0m0.7 -6.3h0m0.8 15.3h0m0.8 -7.2h0m0.7 -0.1h0m0.6 7.8h0m0.6 -11.7h0m0.8 12h0m0.7 -10.2h0m0.8 1.7h0m0.7 4.7h0m0.6 -8h0m0.8 -4.4h0m0.6 -3.4h0m0.6 1.7h0m0.7 17.8h0m0.7 -5.2h0m0.8 -4.2h0m0.8 8.5h0m0.7 -0.4h0m0.6 -2.2h0m0.6 -1.2h0m0.8 -6.3h0m0.7 -9.2h0m0.6 19.6h0m0.9 -20h0m0.5 5.9h0m0.9 3.6h0m0.6 6.1h0m0.6 -12h0m0.9 -6.1h0m0.5 7.6h0m0.9 2.6h0m0.6 -4.4h0m0.6 2.9h0m0.8 -7.7h0m0.6 -1.4h0m0.8 1.7h0m0.6 19h0m0.7 -14.6h0m0.8 0h0m0.8 -0.4h0m0.5 2.2h0m0.8 5.6h0m0.8 0.1h0m0.7 2.7h0m0.6 -6h0m0.8 -4.8h0m0.7 0.7h0m0.7 -3.1h0m0.6 -1.2h0m0.6 15.9h0m0.7 1.6h0m0.9 -9.7h0m0.5 1.7h0m0.8 -18.7h0m0.8 10.4h0m0.5 12.1h0m0.7 3.1h0m0.7 -14.5h0m0.9 -4.1h0m0.6 12.7h0m0.6 10.1h0m0.7 0.4h0m0.8 -5.8h0m0.7 -9.4h0m0.8 -8h0m0.5 19.4h0m0.8 1.5h0m0.8 -9.2h0m0.7 -7.7h0m0.7 -2.4h0m0.7 20.6h0m0.5 -11.5h0m0.8 1.3h0m0.8 -9h0m0.6 17.2h0m0.6 2.4h0m0.8 -5.8h0m0.6 -9.7h0m0.9 -6.5h0m0.5 10.9h0m0.8 17h0m0.7 -15.3h0m0.7 -13.5h0m0.8 18.4h0m0.5 -16.6h0m0.7 19h0m0.7 -11.2h0m0.8 11.7h0m0.8 -20.7h0m0.7 11.3h0m0.6 -13h0m0.7 16.5h0m0.8 -14h0m0.6 18.5h0m0.8 1.1h0m0.7 -1.4h0m0.5 -17.7h0m0.9 -1.2h0m0.7 16.3h0m0.6 -4.9h0m0.6 -17.3h0m0.7 2.2h0m0.9 -1.4h0m0.5 -2.7h0m0.9 13.6h0m0.7 -13.6h0m0.6 14.6h0m0.6 -11.6h0m0.7 9.9h0m0.7 -16.1h0m0.8 -6.5h0m0.8 2.4h0m0.6 11h0m0.6 -0.1h0m0.9 -14.5h0m0.6 1.1h0m0.7 6.5h0m0.8 -20.5h0m0.5 5h0m0.7 -0.4h0m0.7 5.6h0m0.7 -17.4h0m0.8 -6.8h0m0.6 6.2h0m0.7 -9.2h0m0.7 -0.8h0m0.8 -6.4h0m0.7 9.8h0m0.6 -4.2h0m0.8 -3.4h0m0.7 -11.1h0m0.7 1.6h0m0.7 -1.2h0m0.6 -4.3h0m0.8 -6.5h0m0.7 -7.6h0m0.7 3.1h0m0.8 -3.1h0m0.5 -5.3h0m0.8 -7.8h0m0.6 -0.2h0m0.9 -5.3h0m0.5 -0.5h0m0.8 -1.1h0m0.6 3.2h0m0.7 0.1h0m0.8 -5.1h0m0.6 -4.6h0m0.8 -3.7h0m0.8 6.9h0m0.7 3.3h0m0.5 0.4h0m0.7 -9.6h0m0.8 0.5h0m0.8 5.5h0m0.7 4.2h0m0.6 4.7h0m0.8 -4.3h0m0.7 8.1h0m0.6 -5.7h0m0.8 -2h0m0.7 3.4h0m0.7 4.4h0m0.7 7.3h0m0.7 -0.8h0m0.7 -1.4h0m0.6 0.2h0m0.7 11.3h0m0.8 -1.2h0m0.5 7.7h0m0.9 -2.4h0m0.5 2.8h0m0.7 11.9h0m0.7 0.8h0m0.9 -8.1h0m0.7 17.9h0m0.5 2h0m0.7 -10.5h0m0.9 13.9h0m0.5 -14.5h0m0.9 11h0m0.5 5.5h0m0.8 -7h0m0.6 3.8h0m0.8 1.3h0m0.8 5.5h0m0.7 14.8h0m0.6 -1.2h0m0.7 -10.6h0m0.7 11.9h0m0.8 -16h0m0.7 17.1h0m0.6 15.8h0m0.7 -23h0m0.8 9.4h0m0.6 -4.6h0m0.6 7.6h0m0.7 -3h0m0.7 4.1h0m0.9 -6.4h0m0.6 6.3h0m0.7 1.1h0m0.8 -3.5h0m0.5 11.1h0m0.8 -12h0m0.7 -8.7h0m0.6 5.4h0m0.9 16.4h0m0.5 0.4h0m0.8 -3.1h0m0.8 -7.7h0m0.6 8.7h0m0.6 -16.5h0m0.8 5.1h0m0.8 10h0m0.6 -4.1h0m0.6 -9.9h0m0.8 15.5h0m0.8 -14.3h0m0.5 4.2h0m0.7 0.9h0m0.7 4.3h0m0.9 -4.9h0m0.7 -3.1h0m0.5 7.1h0m0.7 16h0m0.7 -6.5h0m0.9 -6.7h0m0.5 9.5h0m0.8 -13.8h0m0.8 12.9h0m0.7 10.6h0m0.7 -9.4h0m0.6 -12.9h0m0.8 -1.2h0m0.7 4.9h0m0.7 10.8h0m0.7 5.7h0m0.6 3.3h0m0.6 1.1h0m0.8 -1.8h0m0.6 -24.9h0m0.9 16.8h0m0.5 -3.9h0m0.8 5.6h0m0.6 6h0m0.9 -11.3h0m0.6 -13h0m0.7 0.6h0m0.6 10h0m0.9 -8.4h0m0.5 0.7h0m0.7 0.1h0m0.9 -1.5h0m0.6 27.1h0m0.6 -3.6h0m0.9 3.8h0m0.5 -17.9h0m0.9 -9.5h0m0.5 20.3h0m0.7 3.5h0m0.9 -1h0m0.5 -2.6h0m0.9 -15.5h0m0.6 -1.2h0m0.8 27.5h0m0.6 -21h0m0.6 18.5h0m0.8 -24.3h0m0.6 9.2h0m0.7 13.7h0m0.8 -27h0m0.7 31h0m0.6 -24.7h0m0.7 17.7h0m0.9 6.4h0m0.5 -16.7h0m0.9 0.6h0m0.5 4.8h0m0.7 -17.5h0m0.8 14.1h0m0.6 -14.9h0m0.8 28.1h0m0.8 3.5h0m0.6 -1.6h0m0.7 -1.4h0m0.7 -19.1h0m0.7 -7.6h0m0.7 27.4h0m0.7 -12.5h0m0.6 5.5h0m0.8 -11.3h0m0.8 3.1h0m0.6 2.7h0m0.6 -0.8h0m0.7 -2.1h0m0.8 8.7h0m0.6 -3.3h0m0.8 -13h0m0.8 0.2h0m0.6 -6h0m0.7 0h0m0.6 14.5h0m0.8 12.6h0m0.6 -19.2h0m0.8 -4.2h0m0.8 8.2h0m0.6 19.9h0m0.8 -5.2h0m0.6 -16.7h0m0.7 9.5h0m0.8 -3.6h0m0.5 12.1h0m0.9 -4.6h0m0.5 -4.3h0m0.9 -9.7h0m0.6 7.1h0m0.8 -9.4h0m0.5 6.4h0m0.9 10.1h0m0.7 -21.8h0m0.7 -7.8h0m0.7 38.2h0m0.5 -15.6h0m0.9 7.2h0m0.5 -4.2h0m0.9 -0.8h0m0.7 -4.4h0m0.6 2.6h0m0.6 15h0m0.8 -4.2h0m0.7 -20.3h0m0.8 22.3h0m0.5 -1.5h0m0.7 -1.3h0m0.9 -9.7h0m0.7 15.9h0m0.7 -2.2h0m0.5 7.1h0m0.9 -9.2h0m0.5 -0.5h0m0.7 7h0m0.8 -22h0m0.7 17.2h0m0.7 -12.6h0m0.7 13.8h0m0.6 -16.6h0m0.7 24.4h0m0.7 -12.2h0m0.9 1.7h0m0.5 7.6h0m0.7 -0.1h0m0.7 -23.4h0m0.9 15h0m0.6 3.8h0m0.6 -15h0m0.7 2.8h0m0.7 12h0m0.7 -8.4h0m0.8 -14.1h0m0.8 8h0m0.7 -4.7h0m0.7 23.2h0m0.5 -8.6h0m0.9 -6.4h0m0.6 -11.8h0m0.7 15.9h0m0.6 8.8h0m0.9 -16.5h0m0.6 7.8h0m0.8 7.7h0m0.5 -25.9h0m0.8 32h0m0.8 -17.7h0m0.5 4.8h0m0.7 2.3h0m0.7 6h0m0.9 -14.7h0m0.7 -10.6h0m0.6 24.1h0m0.7 -21.9h0m0.6 15.1h0m0.7 -19.5h0m0.7 34.4h0m0.8 -18.2h0m0.6 8h0m0.8 -24.9h0m0.7 22.8h0m0.8 13.4h0m0.5 -9.7h0m0.7 3.8h0m0.7 -26.1h0m0.9 -2.9h0m0.6 10.7h0m0.8 12.5h0m0.6 -1.6h0m0.6 -9.4h0m0.8 -2.6h0m0.6 19.8h0m0.9 -1.9h0m0.5 -19.1h0m0.7 16h0m0.9 -7.4h0m0.7 -3.5h0m0.6 16.4h0m0.7 -30.2h0m0.8 22.4h0m0.5 -11.8h0m0.7 1.3h0m0.8 14.2h0m0.7 -13.1h0m0.6 9.2h0m0.9 4.8h0m0.7 -9.3h0m0.6 -13.5h0m0.7 10.9h0m0.6 6.1h0m0.9 -22.9h0m0.6 25.8h0m0.8 5.3h0m0.6 -28.8h0m0.7 24.2h0m0.7 -22.5h0m0.7 11.1h0m0.8 -8.9h0m0.5 8.5h0m0.8 -7.4h0m0.8 16h0m0.6 3.9h0m0.6 -12.6h0m0.9 10.9h0m0.5 -19h0m0.9 12.8h0m0.7 -18.1h0m0.6 18.6h0m0.7 4.5h0m0.6 -33.8h0m0.8 16.1h0m0.6 12.9h0m0.9 -1.9h0m0.5 24.4h0m0.9 -22.8h0m0.5 -21.3h0m0.8 16.7h0m0.6 -4.8h0m0.8 13.4h0m0.6 12.3h0m0.9 -30.9h0m0.7 7.3h0m0.7 4.6h0m0.6 4.1h0m0.7 -4.2h0m0.7 -9.5h0m0.8 -7.5h0m0.6 7.1h0m0.8 16.5h0m0.5 -7.6h0m0.9 -22.1h0m0.7 26.2h0m0.6 -18.1h0m0.6 -10.7h0m0.7 0.7h0m0.9 23.5h0m0.7 9.2h0m0.5 -8.7h0m0.8 -21.9h0m0.7 6.6h0m0.6 5.7h0m0.9 -8.4h0m0.5 -0.8h0m0.8 22.1h0m0.7 -38.2h0m0.8 8.3h0m0.6 9.5h0m0.6 -2.4h0m0.7 19.7h0m0.8 4.4h0m0.8 -7.8h0m0.6 -11.9h0m0.8 21.6h0m0.7 -28.7h0m0.6 19h0m0.6 -11.9h0m0.7 14.1h0m0.8 -11.9h0m0.8 19.3h0m0.5 -20.9h0m0.8 1.2h0m0.8 -13.3h0m0.7 9.9h0m0.7 13h0m0.5 -17.4h0m0.7 23.6h0m0.9 -14.3h0m0.7 -9.6h0m0.5 15.9h0m0.7 -12.3h0m0.7 0.9h0m0.8 13.4h0m0.7 3.6h0m0.7 3.4h0m0.8 -0.5h0m0.7 -22.4h0m0.6 14.5h0m0.6 2.8h0m0.7 4.3h0m0.8 -3h0m0.8 -8.9h0m0.7 4h0m0.7 9.7h0m0.5 10.6h0m0.8 -12.9h0m0.7 -12h0m0.6 -6.9h0m0.8 32.9h0m0.6 0.8h0m0.8 -19.2h0m0.7 13.1h0m0.6 -13.1h0m0.7 21.7h0m0.7 -14.1h0m0.8 -14.9h0m0.6 8.2h0m0.8 -11h0m0.7 26.9h0m0.7 -26.6h0m0.6 14.1h0m0.7 8.8h0m0.7 -19.8h0m0.8 12.6h0m0.8 7.3h0m0.6 -16.8h0m0.6 3.9h0m0.8 -1.6h0m0.6 -0.4h0m0.8 22h0m0.8 -7.8h0m0.6 6h0m0.6 -3.1h0m0.7 15h0m0.8 -24.5h0m0.8 6.1h0m0.6 -15.5h0m0.8 28h0m0.5 -13.1h0m0.9 7.9h0m0.6 -17h0m0.8 7h0m0.7 18.6h0m0.6 -13.5h0m0.8 -1.8h0m0.5 10.5h0m0.9 -15.5h0m0.5 3.2h0m0.7 7.9h0m0.7 -1.8h0m0.8 16.8h0m0.7 -13.8h0m0.6 -21.2h0m0.8 20.3h0m0.6 -8.3h0m0.9 4.8h0m0.7 -16.8h0m0.6 22.6h0m0.7 -18.4h0m0.7 21.2h0m0.8 -7.7h0m0.6 9h0m0.8 -12.7h0m0.6 16.1h0m0.8 -21.5h0m0.5 12.2h0m0.9 -3.3h0m0.6 -4.1h0m0.6 0.6h0m0.7 17.7h0m0.7 -3h0m0.9 4.4h0m0.6 -30h0m0.7 27.8h0m0.8 -20.2h0m0.6 -5h0m0.7 32.6h0m0.7 -34.5h0m0.7 6h0m0.6 -12.9h0m0.9 15.3h0m0.5 1.4h0m0.7 0.6h0m0.7 7.1h0m0.8 -14.1h0m0.8 3.5h0m0.6 -11.4h0m0.8 22.3h0m0.6 -13.7h0m0.6 6.1h0m0.9 -17.4h0m0.5 -3.1h0m0.7 9.7h0m0.9 18.7h0m0.5 -22.6h0m0.9 19.3h0m0.5 1.2h0m0.7 -21.4h0m0.7 -0.6h0m0.9 6.5h0m0.7 -7.3h0m0.5 10h0m0.8 -17.5h0m0.8 34h0m0.6 1h0m0.7 -29.2h0m0.7 15.8h0m0.7 11.5h0m0.6 -8.1h0m0.7 -7.2h0m0.8 -18.2h0m0.6 17.1h0m0.8 -11.6h0m0.7 4.4h0m0.8 -4.6h0m0.6 25.9h0m0.6 -5h0m0.8 -8.1h0m0.7 8.9h0m0.8 -30.3h0m0.7 3.3h0m0.6 23.1h0m0.8 -8.7h0m0.6 0.9h0m0.6 4.6h0m0.8 -6.2h0m0.6 -6.9h0m0.8 -8.7h0m0.8 26.1h0m0.6 -13.6h0m0.7 1.1h0m0.6 3.7h0m0.7 8.6h0m0.8 -14.5h0m0.7 1.9h0m0.6 -11.4h0m0.9 16h0m0.6 7.3h0m0.6 -28.5h0m0.7 16.7h0m0.7 -16h0m0.7 21.5h0m0.8 -11.1h0m0.6 14.4h0m0.7 -11.8h0m0.9 -3.1h0m0.7 7.9h0m0.6 -15.7h0m0.8 6.2h0m0.6 5.7h0m0.7 9.5h0m0.6 -9.6h0m0.8 5.5h0m0.7 0.3h0m0.8 -8.1h0m0.7 6.9h0m0.6 -8.8h0m0.7 8.2h0m0.6 -16.9h0m0.9 11.8h0m0.6 7.2h0m0.8 -28.5h0m0.5 4.7h0m0.7 20.6h0m0.8 -5.9h0m0.6 -0.9h0m0.9 -16.7h0m0.5 1.2h0m0.9 -9.4h0m0.7 7.2h0m0.6 -4.2h0m0.7 -2.9h0m0.8 -2.2h0m0.7 29.3h0m0.7 -27.6h0m0.6 22.7h0m0.6 -13.5h0m0.9 -1.2h0m0.5 -7.1h0m0.8 18.8h0m0.6 8.3h0m0.7 -34.9h0m0.7 24.3h0m0.8 16h0m0.7 -11.8h0m0.6 11.3h0m0.9 -32.3h0m0.7 23h0m0.7 -19.6h0m0.6 14h0m0.8 -20.1h0m0.5 35.6h0m0.9 -1.8h0m0.6 -5.5h0m0.7 -8.4h0m0.7 -1h0m0.6 -7.3h0m0.7 21.7h0m0.8 -7.5h0m0.8 -2.9h0m0.6 -14.4h0m0.8 8.1h0m0.5 2.8h0m0.8 -6h0m0.6 12.6h0m0.9 -23.6h0m0.5 24.5h0m0.8 -17.8h0m0.8 -3.5h0m0.7 10.2h0m0.7 1.4h0m0.6 -4h0m0.6 -11.5h0m0.9 8.7h0m0.6 -15.4h0m0.8 7.7h0m0.5 16.2h0m0.9 -8.2h0m0.7 0h0m0.7 4.6h0m0.6 5.2h0m0.7 1.5h0m0.8 4.2h0m0.5 -3.4h0m0.9 -4.6h0m0.7 20.7h0m0.6 -16.8h0m0.7 9.1h0m0.6 -19.2h0m0.7 0.4h0m0.7 -3.2h0m0.7 2.2h0m0.9 1.3h0m0.7 1.5h0m0.5 7.9h0m0.8 17.7h0m0.8 -24.3h0m0.6 26.2h0m0.7 -15.3h0m0.8 -2.7h0m0.7 -17.7h0m0.6 3.7h0m0.8 27.2h0m0.6 -11.6h0m0.6 1.4h0m0.7 -4.1h0m0.9 3.3h0m0.5 3.7h0m0.9 4.8h0m0.6 -19.3h0m0.6 10h0m0.7 15.5h0m0.9 -12.3h0m0.7 9.9h0m0.6 -5.7h0m0.8 -12.5h0m0.7 24.2h0m0.6 -14.5h0m0.7 -19.4h0m0.6 5.8h0m0.7 0.3h0m0.8 -15.9h0m0.6 12.8h0m0.8 22.2h0m0.7 -20.5h0m0.8 3.1h0m0.5 -2h0m0.9 0.8h0m0.6 25.1h0m0.6 -4.5h0m0.8 -18.4h0m0.7 6.7h0m0.8 -8.3h0m0.7 32.1h0m0.7 -13.2h0m0.6 5.4h0m0.8 -8.2h0m0.5 8.1h0m0.8 -15.7h0m0.8 12.9h0m0.5 -20.3h0m0.8 7.7h0m0.8 3.7h0m0.5 -9.6h0m0.8 -10.8h0m0.7 38.6h0m0.7 1.1h0m0.8 -30.6h0m0.6 9.1h0m0.8 9.6h0m0.6 9.2h0m0.6 -25.3h0m0.8 -7.2h0m0.7 17.1h0m0.7 15h0m0.8 0.8h0m0.6 -15.9h0m0.8 6.9h0m0.5 -23h0m0.8 12.2h0m0.6 10.5h0m0.9 -4.2h0m0.5 -0.2h0m0.7 1h0m0.8 8.7h0m0.7 -2.1h0m0.8 -20.1h0m0.5 -1.5h0m0.8 -2.2h0m0.6 30.6h0m0.9 -32.6h0m0.5 32.1h0m0.8 -30.6h0m0.6 33.3h0m0.8 -31.6h0m0.8 19.1h0m0.6 13h0m0.7 -1.7h0m0.8 -25.6h0m0.6 18.5h0m0.8 -24.9h0m0.6 9.4h0m0.6 23.1h0m0.9 -38.2h0m0.6 34.6h0m0.8 -12.6h0m0.7 2.3h0m0.6 8.8h0m0.7 -41.1h0m0.7 23.7h0m0.7 -5.9h0m0.8 6.1h0m0.5 19.5h0m0.7 -21.5h0m0.8 -3.1h0m0.7 -8.3h0m0.7 3.9h0m0.8 -4h0m0.7 20.9h0m0.7 -10.1h0m0.7 9.9h0m0.7 2.7h0m0.5 -11.1h0m0.8 -17.7h0m0.7 21.5h0m0.8 -13.3h0m0.6 19.7h0m0.6 2.4h0m0.7 -17h0m0.8 -8.1h0m0.8 16.9h0m0.7 -29h0m0.6 5.4h0m0.7 27.7h0m0.8 -21.7h0m0.6 -4h0m0.7 29.4h0m0.6 -12.7h0m0.8 4.3h0m0.8 -12.3h0m0.6 1.9h0m0.6 -14.6h0m0.7 30.7h0m0.9 -8.8h0m0.5 -8.5h0m0.9 -1.1h0m0.5 -13h0m0.8 19.7h0m0.8 -14.2h0m0.6 -8.6h0m0.6 18.4h0m0.7 -1.7h0m0.9 3.4h0m0.7 -8.5h0m0.6 -0.1h0m0.6 -12.8h0m0.7 15.6h0m0.9 -2.6h0m0.7 -21.1h0m0.7 29.4h0m0.6 -3.5h0m0.6 -17.8h0m0.7 -11.2h0m0.9 32.8h0m0.6 -22.2h0m0.6 10.5h0m0.9 9.2h0m0.6 -9.6h0m0.7 5.4h0m0.6 8.6h0m0.8 -11.1h0m0.7 -22.4h0m0.7 -0.8h0m0.7 18.3h0m0.7 -4.5h0m0.8 0h0m0.7 9.6h0m0.5 1.3h0m0.9 -11h0m0.7 17.9h0m0.5 -33.1h0m0.9 32.6h0m0.6 -32.2h0m0.8 13.8h0m0.6 15.4h0m0.7 -16.1h0m0.7 -12.2h0m0.6 29h0m0.8 -16.7h0m0.6 3.3h0m0.7 -2.1h0m0.7 -10.9h0m0.9 27.3h0m0.6 -22.2h0m0.7 -2.5h0m0.8 4h0m0.5 4.5h0m0.9 27.5h0m0.7 -15.9h0m0.6 -6.2h0m0.8 -18.1h0m0.5 -0.3h0m0.7 14h0m0.7 -17.2h0m0.8 12.3h0m0.8 13.9h0m0.7 -2.1h0m0.6 3.5h0m0.7 5.3h0m0.8 -6h0m0.5 18.8h0m0.9 -29.6h0m0.7 -10h0m0.7 27h0m0.7 -7h0m0.5 -5.1h0m0.9 14.1h0m0.6 -3.7h0m0.8 -7h0m0.5 1.4h0m0.9 -21.8h0m0.7 6.4h0m0.5 4.9h0m0.7 10.3h0m0.9 -21.2h0m0.7 11h0m0.5 -6.5h0m0.8 -6.3h0m0.7 23.2h0m0.6 -10.8h0m0.8 13.6h0m0.8 0.8h0m0.5 -15.8h0m0.8 25.3h0m0.7 -30.2h0m0.7 30.5h0m0.6 -8h0m0.7 -31.9h0m0.7 33.5h0m0.9 -4.7h0m0.7 -20.8h0m0.5 17h0m0.7 -2.9h0m0.8 18.6h0m0.8 -20.5h0m0.6 16.1h0m0.6 -18.1h0m0.9 -4.9h0m0.5 15.6h0m0.9 -10.9h0m0.7 -2.9h0m0.7 0.1h0m0.7 27.9h0m0.6 -10.8h0m0.7 5.5h0m0.7 1.7h0m0.6 -2.6h0m0.7 4.6h0m0.8 2.4h0m0.6 -10.9h0m0.8 14h0m0.8 1.5h0m0.7 -32.5h0m0.7 0.4h0m0.6 2.7h0m0.7 -5.3h0m0.7 13.2h0m0.7 17.4h0m0.7 3.9h0m0.6 -38.9h0m0.7 38.4h0m0.7 -25.1h0m0.9 -0.8h0m0.7 9.8h0m0.5 30.8h0m0.8 -16.5h0m0.6 -10.6h0m0.9 -18.9h0m0.6 17.3h0m0.8 4.4h0m0.5 -11.1h0m0.7 12h0m0.9 0.1h0m0.6 -11.6h0m0.8 26.9h0m0.7 -17.9h0m0.7 17.5h0m0.6 -9.7h0m0.8 -23.7h0m0.5 6.8h0m0.8 14.3h0m0.6 4.2h0m0.7 -7h0m0.7 8.1h0m0.7 -17h0m0.7 6h0m0.9 8.9h0m0.7 12.1h0m0.6 -11.5h0m0.8 -10.2h0m0.7 -6.9h0m0.5 24.8h0m0.8 -9.3h0m0.7 -2h0m0.8 -0.8h0m0.5 -15.3h0m0.7 28.5h0m0.7 -29.7h0m0.9 5.5h0m0.6 19.5h0m0.6 -9.3h0m0.8 2.6h0m0.7 8.6h0m0.8 8.6h0m0.6 -7.7h0m0.6 -22h0m0.7 27.4h0m0.7 -24.3h0m0.7 -7.1h0m0.7 6.4h0m0.7 -9.3h0m0.8 24h0m0.6 -18h0m0.7 21.2h0m0.8 5.1h0m0.6 -18.7h0m0.9 23.4h0m0.5 -34.9h0m0.9 20.6h0m0.7 3.6h0m0.6 -0.7h0m0.6 -8h0m0.7 16.5h0m0.8 -35.1h0m0.6 2.9h0m0.8 11.4h0m0.6 16.9h0m0.9 0.8h0m0.5 -20.2h0m0.9 17.4h0m0.7 4.8h0m0.5 -0.8h0m0.7 -27.7h0m0.7 -8.8h0m0.8 12.9h0m0.8 -7.3h0m0.6 21.7h0m0.6 -16.7h0m0.8 -6.6h0m0.6 5.7h0m0.8 17.1h0m0.8 -28.2h0m0.7 14.1h0m0.7 -12.1h0m0.6 -3.4h0m0.7 9.8h0m0.8 -3.2h0m0.5 8.2h0m0.7 -4.9h0m0.8 22.7h0m0.6 -8.2h0m0.7 11.9h0m0.7 -21h0m0.7 10.9h0m0.9 -2.1h0m0.7 2.6h0m0.7 -20.4h0m0.7 10.5h0m0.5 7h0m0.8 -0.9h0m0.8 10.7h0m0.6 -1.2h0m0.8 -20.9h0m0.7 4.3h0m0.5 -17.4h0m0.7 31.5h0m0.7 -21.8h0m0.7 20.3h0m0.7 2.1h0m0.7 -30.9h0m0.9 11.8h0m0.6 5.2h0m0.7 -7h0m0.7 9.4h0m0.8 11.4h0m0.7 -31.2h0m0.6 18.9h0m0.7 5h0m0.7 11.4h0m0.6 -39.9h0m0.9 21.7h0m0.5 -20.2h0m0.7 28.5h0m0.8 -32.5h0m0.8 11.4h0m0.5 19.4h0m0.9 2.8h0m0.6 -5.6h0m0.6 -10.2h0m0.7 3.3h0m0.9 1.9h0m0.7 -25.1h0m0.7 3h0m0.7 20.6h0m0.7 1.9h0m0.5 3.2h0m0.7 1.6h0m0.7 -5.7h0m0.7 -11.5h0m0.9 17.9h0m0.5 4.5h0m0.8 -30.2h0m0.6 13.4h0m0.8 -3h0m0.8 8.1h0m0.6 12.2h0m0.8 -31h0m0.6 14.5h0m0.7 5.9h0m0.8 4.8h0m0.5 -2.8h0m0.9 -28.5h0m0.7 29.8h0m0.5 -30.2h0m0.7 32.5h0m0.8 -7.7h0m0.8 -23.8h0m0.5 5.7h0m0.8 24.8h0m0.6 4.1h0m0.7 -6h0m0.8 7h0m0.6 -13.8h0m0.9 -22.7h0m0.7 2.6h0m0.5 9.4h0m0.8 2h0m0.8 34.8h0m0.5 0h0m0.8 -27.9h0m0.8 15.2h0m0.7 -31.7h0m0.5 -3.3h0m0.9 24.4h0m0.6 -14.1h0m0.6 13.3h0m0.7 -15.4h0m0.7 7.4h0m0.9 6.3h0m0.7 1.9h0m0.7 -22.5h0m0.6 25.2h0m0.7 -28.7h0m0.6 11.7h0m0.8 5h0m0.6 -5.2h0m0.7 4.9h0m0.8 14.4h0m0.7 -26.3h0m0.8 26.4h0m0.5 6.6h0m0.9 -2.4h0m0.6 -27.6h0m0.7 29.6h0m0.6 -31.3h0m0.7 28.1h0m0.8 1h0m0.7 -36.3h0m0.7 15.2h0m0.7 23.1h0m0.6 -2.6h0m0.8 -6.7h0m0.7 -9.6h0m0.7 11.4h0m0.7 9.3h0m0.7 -32.4h0m0.6 -1.9h0m0.8 32.9h0m0.7 -9.6h0m0.7 10.3h0m0.7 -11.5h0m0.8 -15.7h0m0.7 11h0m0.6 17.9h0m0.6 -32.4h0m0.9 15.8h0m0.5 12.2h0m0.8 -11.1h0m0.6 16.1h0m0.7 0.1h0m0.9 -15.7h0m0.6 -4.4h0m0.6 3.2h0m0.8 17.6h0m0.8 -18.9h0m0.6 2.9h0m0.7 4h0m0.6 2.9h0m0.8 2.6h0m0.7 -9.2h0m0.8 3.2h0m0.6 1.9h0m0.8 -5.9h0m0.6 13.2h0m0.6 -11.3h0m0.9 4.1h0m0.6 -1.6h0m0.8 -1.1h0m0.5 24.1h0m0.8 -16.8h0m0.7 -12.6h0m0.7 6.4h0m0.6 -3.3h0m0.8 30.6h0m0.7 -6.5h0m0.7 -25.9h0m0.7 2.5h0m0.7 10.7h0m0.7 13.4h0m0.7 -6.8h0m0.7 7.4h0m0.6 -18.6h0m0.7 19.8h0m0.8 -11.9h0m0.7 -0.1h0m0.8 -4.8h0m0.6 -6.6h0m0.8 24h0m0.7 -16.7h0m0.6 -7.3h0m0.8 26.1h0m0.6 -11.7h0m0.6 18.2h0m0.7 -5.7h0m0.7 -7.6h0m0.7 18.9h0m0.8 -20.4h0m0.6 -14.2h0m0.7 12.1h0m0.9 24.1h0m0.5 -19.6h0m0.7 12.7h0m0.7 -25.7h0m0.8 27.7h0m0.8 -26.3h0m0.5 12.2h0m0.7 -0.1h0m0.7 -8.9h0m0.9 19.4h0m0.5 -7.1h0m0.8 -20.8h0m0.8 26.9h0m0.7 -5.3h0m0.5 -8.6h0m0.9 20.8h0m0.6 -14.6h0m0.6 -8.3h0m0.9 -8.5h0m0.7 -9.1h0m0.6 26.3h0m0.7 -10.7h0m0.7 20.8h0m0.8 -32.3h0m0.5 37.2h0m0.8 -2.7h0m0.7 -11.8h0m0.8 -7.8h0m0.5 -8.1h0m0.8 6.2h0m0.7 3.8h0m0.8 16.3h0m0.5 -9.4h0m0.9 -12.7h0m0.6 -3.9h0m0.7 12.2h0m0.6 -15h0m0.9 21.4h0m0.6 -19.1h0m0.7 6.6h0m0.8 3.9h0m0.6 11.2h0m0.7 -3.7h0m0.6 -18.9h0m0.9 16.4h0m0.6 -10.1h0m0.7 -4.2h0m0.6 7.6h0m0.7 2.6h0m0.7 -15.4h0m0.9 7.2h0m0.7 -15.9h0m0.5 31h0m0.7 -13.4h0m0.7 3.3h0m0.8 -1.4h0m0.6 5.4h0m0.7 -5.6h0m0.8 12.5h0m0.7 -16.3h0m0.7 -0.2h0m0.8 9h0m0.6 -24.1h0m0.8 28.1h0m0.6 -3.3h0m0.7 5.4h0m0.6 -14.5h0m0.8 -16.2h0m0.8 11.5h0m0.6 19.8h0m0.6 -25.3h0m0.7 9.4h0m0.8 17.7h0m0.8 -23.7h0m0.6 4.9h0m0.8 -3.6h0m0.6 10.5h0m0.8 -13.7h0m0.6 -1.8h0m0.6 -2.2h0m0.9 17h0m0.5 -10h0m0.8 8.2h0m0.8 -9.5h0m0.7 14.3h0m0.6 -15.6h0m0.7 8.4h0m0.8 -10.2h0m0.6 15.5h0m0.6 -17.1h0m0.7 7.5h0m0.9 3h0m0.7 6.8h0m0.7 6.2h0m0.7 -22.5h0m0.5 16.2h0m0.8 -0.1h0m0.8 -26.6h0m0.6 6.6h0m0.6 24.3h0m0.8 -17.8h0m0.7 5.3h0m0.8 -15h0m0.5 -0.5h0m0.9 0.9h0m0.6 10.3h0m0.6 20.8h0m0.7 -16.2h0m0.9 2.1h0m0.6 -6.2h0m0.8 12.1h0m0.6 -26.4h0m0.8 15.3h0m0.6 -2.6h0m0.6 -1.1h0m0.9 21.7h0m0.5 -9h0m0.9 8.4h0m0.6 -28.1h0m0.7 21.2h0m0.7 20.8h0m0.7 -47.1h0m0.6 35.7h0m0.9 -8h0m0.5 1.2h0m0.8 -27.3h0m0.8 17.3h0m0.7 15.6h0m0.6 -32h0m0.8 24.8h0m0.5 -25.9h0m0.8 21.1h0m0.6 -0.6h0m0.9 11.3h0m0.5 -24.4h0m0.9 27h0m0.6 -19.5h0m0.7 20.1h0m0.6 1.7h0m0.9 -12.4h0m0.7 13.3h0m0.7 -17.5h0m0.6 8.3h0m0.8 -25.6h0m0.5 16.1h0m0.8 7.2h0m0.8 -2.7h0m0.5 -8.9h0m0.8 -11.4h0m0.6 32.7h0m0.9 -25.8h0m0.7 17.6h0m0.6 -18.9h0m0.8 15.2h0m0.5 9.5h0m0.9 -2.8h0m0.6 -23.9h0m0.8 32h0m0.5 -13h0m0.8 3.6h0m0.8 12.1h0m0.7 -30.8h0m0.6 -1.7h0m0.7 31.6h0m0.7 -14.6h0m0.8 15.6h0m0.6 -27.3h0m0.7 23.9h0m0.8 -23.9h0m0.6 22.5h0m0.7 -10.1h0m0.8 2.9h0m0.7 -14h0m0.5 7.5h0m0.9 16.1h0m0.5 4.1h0m0.8 -0.2h0m0.8 -28.7h0m0.5 19.2h0m0.7 -20.2h0m0.9 10.5h0m0.6 12.3h0m0.7 -4.5h0m0.8 8.3h0m0.6 3.1h0m0.8 -13.5h0m0.7 15.5h0m0.7 -8.3h0m0.6 3.4h0m0.6 -24.7h0m0.9 9.8h0m0.5 -1.5h0m0.9 3h0m0.7 17.6h0m0.5 -27.6h0m0.8 15.9h0m0.7 -3.4h0m0.7 -8.7h0m0.7 23.4h0m0.8 -10.1h0m0.5 7.8h0m0.9 -22.7h0m0.5 7.8h0m0.9 -1.8h0m0.6 -2h0m0.7 22.1h0m0.6 -10h0m0.7 -16h0m0.9 9.5h0m0.5 19.4h0m0.7 1.1h0m0.7 -15.2h0m0.9 -13.8h0m0.6 15.5h0m0.6 1.3h0m0.8 1.4h0m0.8 10h0m0.6 -5h0m0.7 -17.6h0m0.7 -2.4h0m0.6 18.2h0m0.8 -6.3h0m0.7 18.2h0m0.8 -3.4h0m0.6 -4h0m0.8 -9h0m0.6 12.6h0m0.6 -8.5h0m0.8 -10.6h0m0.7 16.6h0m0.8 -4.4h0m0.7 -13.1h0m0.6 8.6h0m0.6 11.1h0m0.8 -20.4h0m0.7 6.8h0m0.8 -11.4h0m0.5 24.4h0m0.8 -24.6h0m0.8 27.4h0m0.6 -11.1h0m0.8 2h0m0.6 -5.9h0m0.6 6.1h0m0.7 -0.2h0m0.7 -6h0m0.7 10h0m0.7 -8.1h0m0.7 11.5h0m0.8 -21.5h0m0.7 2.6h0m0.8 -10.3h0m0.6 -0.9h0m0.7 6.2h0m0.6 17h0m0.7 0.6h0m0.7 -16.2h0m0.8 18.4h0m0.7 -22.4h0m0.6 0.2h0m0.7 9.4h0m0.7 1.3h0m0.9 -11.6h0m0.5 -4.8h0m0.9 -0.4h0m0.6 24h0m0.6 6.4h0m0.9 -31h0m0.5 10.5h0m0.7 5h0m0.8 26.2h0m0.8 -13.2h0m0.5 -22.1h0m0.8 21.7h0m0.6 -9.2h0m0.9 -16.7h0m0.5 14.9h0m0.7 -13.3h0m0.7 9.3h0m0.8 -2.4h0m0.7 13.3h0m0.7 -13.5h0m0.6 9.3h0m0.8 0.4h0m0.8 -8h0m0.6 -4.1h0m0.6 14.4h0m0.8 -20.1h0m0.7 3.3h0m0.8 6.2h0m0.5 -14.1h0m0.9 8.2h0m0.6 -11.5h0m0.8 11.1h0m0.5 10.1h0m0.8 -11.6h0m0.7 5.8h0m0.7 -17.3h0m0.7 18h0m0.6 3.2h0m0.9 -8.3h0m0.5 0.7h0m0.9 -1.6h0m0.6 4.8h0m0.8 -10h0m0.6 -11.6h0m0.8 25.8h0m0.6 2.6h0m0.8 -14.6h0m0.5 -15.2h0m0.7 22.1h0m0.9 5h0m0.5 3h0m0.8 -17.3h0m0.8 -3.9h0m0.6 16.7h0m0.6 -9.2h0m0.9 -18.4h0m0.7 11.7h0m0.7 1.8h0m0.7 -7.1h0m0.6 0.3h0m0.8 9.7h0m0.7 -8.1h0m0.5 -8.3h0m0.8 -3.5h0m0.7 3.3h0m0.8 3.9h0m0.6 -13h0m0.7 23h0m0.8 -0.6h0m0.6 -14h0m0.8 -3.3h0m0.5 10.3h0m0.7 -5.1h0m0.7 -13.4h0m0.9 -2.7h0m0.7 18.9h0m0.5 -13.6h0m0.8 -4.5h0m0.8 -2.6h0m0.7 10.1h0m0.5 3.3h0m0.8 10.4h0m0.7 -25.2h0m0.8 0.9h0m0.7 -3.6h0m0.5 11.5h0m0.9 -17h0m0.6 8.4h0m0.6 -0.5h0m0.9 -2.6h0m0.5 -11.2h0m0.7 15.9h0m0.7 -10h0m0.9 -11.1h0m0.7 10h0m0.7 -2h0m0.5 -1.7h0m0.9 -13h0m0.7 8.4h0m0.6 -1.7h0m0.6 -3.7h0m0.8 4.7h0m0.6 2.9h0m0.8 -9.8h0m0.8 -3.7h0m0.7 0.5h0m0.6 -15.7h0m0.7 0.5h0m0.8 -1h0m0.5 5h0m0.8 -12.8h0m0.7 5h0m0.8 -2h0m0.6 -2.5h0m0.8 -8.7h0m0.5 6.5h0m0.9 -18.4h0m0.7 5.2h0m0.6 1.9h0m0.8 -14.7h0m0.5 -1.2h0m0.9 -4.5h0m0.5 5.1h0m0.8 -15.4h0m0.8 -5.7h0m0.6 6.7h0m0.6 -1.5h0m0.9 -13.5h0m0.6 -6.2h0m0.7 5.8h0m0.6 -6.7h0m0.8 -14.1h0m0.8 -7.9h0m0.5 -4.8h0m0.8 2.5h0m0.8 -12.1h0m0.6 5.7h0m0.7 -3.8h0m0.8 -15.9h0m0.7 -4.9h0m0.7 -1.8h0m0.6 -5.8h0m0.8 -3.5h0m0.7 -13.5h0m0.7 1.2h0m0.5 -10.9h0m0.8 -8h0m0.7 -10.1h0m0.8 0.9h0m0.7 -15.4h0m0.7 0.6h0m0.5 -7.7h0m0.7 -11.9h0m0.9 -1.3h0m0.6 0.8h0m0.6 -7.3h0m0.8 -13.1h0m0.6 -1.7h0m0.7 0.7h0m0.8 -8.8h0m0.8 -13.1h0m0.6 -2.8h0m0.6 0h0m0.9 -9.3h0m0.7 -8.7h0m0.5 -2.4h0m0.9 -0.3h0m0.5 -4.7h0m0.8 -1.3h0m0.8 -2.5h0m0.5 -7h0m0.8 3.1h0m0.7 -6h0m0.7 -1.5h0m0.6 6.1h0m0.7 9.1h0m0.7 -12.2h0m0.8 2h0m0.7 9.3h0m0.8 -3.8h0m0.6 -2h0m0.6 10.1h0m0.9 1.9h0m0.5 7.2h0m0.7 5.3h0m0.9 -1.9h0m0.5 13.4h0m0.7 0.3h0m0.7 -3.1h0m0.9 17.9h0m0.5 2.1h0m0.9 10.3h0m0.7 -5h0m0.7 18.3h0m0.6 -2.3h0m0.6 0h0m0.8 9.3h0m0.8 7.3h0m0.5 6.4h0m0.9 14.3h0m0.6 10.1h0m0.8 -4.1h0m0.7 9.7h0m0.6 4.8h0m0.8 20.2h0m0.5 -10.3h0m0.7 6.4h0m0.8 10.5h0m0.7 10.1h0m0.6 3.3h0m0.9 9h0m0.5 -8.8h0m0.9 16.9h0m0.7 9.7h0m0.5 -5.8h0m0.8 8.7h0m0.8 -1.3h0m0.7 16.8h0m0.5 -1.4h0m0.7 1h0m0.9 15h0m0.6 1.6h0m0.8 5.1h0m0.7 0.8h0m0.7 8.8h0m0.5 -3.6h0m0.8 3h0m0.8 11.1h0m0.5 -8.1h0m0.7 16.1h0m0.8 7.7h0m0.7 -9.7h0m0.8 12.6h0m0.6 -4.4h0m0.7 11.7h0m0.6 -3.1h0m0.8 4.3h0m0.7 -1.6h0m0.6 -1.9h0m0.8 2.9h0m0.6 11.4h0m0.7 2.7h0m0.7 -5.2h0m0.8 2.1h0m0.7 3.5h0m0.6 1.5h0m0.8 7.7h0m0.6 4.1h0m0.8 -5.3h0m0.8 13.9h0m0.6 -1.5h0m0.8 -9.6h0m0.6 17.2h0m0.6 3.4h0m0.9 4h0m0.5 -17h0m0.9 -4.9h0m0.5 16h0m0.7 5.1h0m0.7 14.6h0m0.8 -14.2h0m0.8 -3h0m0.7 12.3h0m0.6 -2.2h0m0.8 3.7h0m0.7 -10.5h0m0.6 9.7h0m0.7 -7.3h0m0.8 -1.7h0m0.7 0.9h0m0.5 7.3h0m0.8 15.6h0m0.8 -20.2h0m0.5 2.4h0m0.8 -0.1h0m0.8 12.8h0m0.6 -6.5h0m0.7 1.2h0m0.8 15.1h0m0.7 -16.2h0m0.6 0.1h0m0.7 -1.6h0m0.6 0.3h0m0.9 13.6h0m0.7 8.1h0m0.7 -0.8h0m0.7 3.8h0m0.7 -11.1h0m0.5 8.8h0m0.8 -15.9h0m0.7 18.9h0m0.8 -4.5h0m0.6 -6.5h0m0.8 -2.4h0m0.7 24.6h0m0.6 -28.4h0m0.8 14.7h0m0.6 12h0m0.7 -0.1h0m0.6 -15.3h0m0.7 11.6h0m0.9 -9h0m0.6 12h0m0.6 -13.9h0m0.9 12.5h0m0.6 -0.1h0m0.7 -7.1h0m0.6 -5.9h0m0.7 23.1h0m0.7 -23.1h0m0.7 0.6h0m0.8 -3.1h0m0.6 27.4h0m0.7 -28.1h0m0.8 26.3h0m0.6 -8h0m0.7 -12.1h0m0.9 14.6h0m0.5 3.1h0m0.7 -1.2h0m0.7 -19.5h0m0.9 -3h0m0.6 30.6h0m0.6 -19.7h0m0.9 19.2h0m0.5 -20.4h0m0.7 11.6h0m0.8 -12.4h0m0.8 16.8h0m0.7 -13.8h0m0.7 -5.8h0m0.7 7.5h0m0.5 18.3h0m0.8 -15.1h0m0.6 10h0m0.9 -20.2h0m0.7 22.5h0m0.7 4.1h0m0.6 4.4h0m0.6 -14.8h0m0.8 -4.2h0m0.7 0.8h0m0.7 -0.7h0m0.6 -3.2h0m0.7 10h0m0.7 -7.6h0m0.7 -5.7h0m0.9 -3.7h0m0.5 24.7h0m0.7 -9.5h0m0.9 -4.9h0m0.5 -3h0m0.7 -2.7h0m0.8 16.1h0m0.6 -15.8h0m0.7 19.6h0m0.7 -12.6h0m0.9 -11.1h0m0.6 19.5h0m0.8 -14.4h0m0.7 15h0m0.7 -7.5h0m0.6 18.3h0m0.7 -10.6h0m0.6 -3.9h0m0.7 12.6h0m0.9 -4h0m0.6 -13.9h0m0.7 -1h0m0.8 -21.5h0m0.5 37.8h0m0.8 -21.9h0m0.7 7.3h0m0.6 11.8h0m0.8 -13.2h0m0.7 -2.3h0m0.6 16.7h0m0.7 -28.1h0m0.8 27.6h0m0.7 -0.4h0m0.7 -23.6h0m0.8 14.7h0m0.7 -30.4h0m0.6 16.1h0m0.7 23.1h0m0.7 -9.2h0m0.7 7.4h0m0.7 -13.3h0m0.8 3h0m0.6 2.7h0m0.7 0.6h0m0.6 -17.5h0m0.9 -3h0m0.7 16.7h0m0.7 -9.2h0m0.6 -11.5h0m0.8 -1.4h0m0.5 24.4h0m0.8 -33h0m0.6 -0.7h0m0.9 4.5h0m0.5 24.8h0m0.7 -26.7h0m0.7 2.1h0m0.7 3.3h0m0.9 21.4h0m0.7 -31.7h0m0.7 9.2h0m0.7 1.3h0m0.7 -2.3h0m0.7 12.3h0m0.5 1.9h0m0.9 -24.1h0m0.6 6.5h0m0.6 19.2h0m0.9 -29.7h0m0.6 2.9h0m0.7 15h0m0.6 -18.2h0m0.7 25.9h0m0.9 -19.9h0m0.6 1h0m0.6 14.6h0m0.7 1.1h0m0.8 -24.3h0m0.8 -4.6h0m0.5 -12.4h0m0.9 17.6h0m0.5 19.1h0m0.9 -9.5h0m0.7 10.7h0m0.7 -36.3h0m0.5 34h0m0.9 -13.1h0m0.5 -10.1h0m0.8 -5.9h0m0.7 24.3h0m0.6 -7.7h0m0.7 -21.8h0m0.9 4h0m0.7 22.2h0m0.7 -28.4h0m0.6 22.7h0m0.6 -16.4h0m0.8 -6.7h0m0.6 -1.1h0m0.7 20.3h0m0.8 3.7h0m0.7 -22.7h0m0.7 16.9h0m0.6 5.6h0m0.9 -26.8h0m0.6 27.8h0m0.8 1.9h0m0.6 -1.1h0m0.8 -6.7h0m0.7 7.1h0m0.7 -18.2h0m0.6 -0.2h0m0.8 5h0m0.5 -7h0m0.7 19.1h0m0.9 -33.6h0m0.7 14.1h0m0.6 0.4h0m0.6 8.2h0m0.7 -23.5h0m0.8 17h0m0.6 -3.9h0m0.9 5.9h0m0.6 5.2h0m0.8 -19.2h0m0.6 24.5h0m0.7 -24.1h0m0.6 18.1h0m0.9 0.4h0m0.5 -12.1h0m0.9 8.3h0m0.6 6.8h0m0.6 -19.1h0m0.7 1.9h0m0.9 -11h0m0.6 30.5h0m0.8 -35h0m0.6 0.7h0m0.6 5.7h0m0.8 17.2h0m0.8 -8.7h0m0.6 -8.5h0m0.7 -2.7h0m0.7 8.3h0m0.7 13.2h0m0.6 5.7h0m0.8 -8.9h0m0.6 -13h0m0.7 -3.4h0m0.8 -6.9h0m0.6 -1.4h0m0.7 3.7h0m0.8 27.6h0m0.8 -23.7h0m0.6 16.8h0m0.6 3.8h0m0.9 -23h0m0.7 6.1h0m0.5 7.1h0m0.7 1.6h0m0.8 -10.9h0m0.6 -9.1h0m0.7 30.3h0m0.8 -27.3h0m0.8 -3.8h0m0.7 3.9h0m0.6 4.6h0m0.8 4.6h0m0.6 0.7h0m0.8 -13.6h0m0.5 16.6h0m0.9 -22.8h0m0.5 34.9h0m0.7 -14.4h0m0.9 -12.4h0m0.7 -5.3h0m0.6 17.4h0m0.6 -6.1h0m0.8 4.7h0m0.6 -5.3h0m0.7 -12.5h0m0.8 2h0m0.6 23.3h0m0.9 -38.9h0m0.7 28.7h0m0.5 2.1h0m0.9 8.1h0m0.7 -27.6h0m0.7 20.3h0m0.5 1.6h0m0.9 -7.7h0m0.5 20.7h0m0.8 -32h0m0.7 6.6h0m0.6 -2.2h0m0.8 25.9h0m0.6 -15h0m0.7 -1.1h0m0.7 16.7h0m0.9 -3.9h0m0.5 -23.1h0m0.7 9.2h0m0.8 7.8h0m0.7 -17.1h0m0.7 2.9h0m0.7 10.2h0m0.8 -1.5h0m0.6 16.4h0m0.8 4.4h0m0.6 -16.5h0m0.7 -11.6h0m0.6 -3.4h0m0.9 28.4h0m0.6 -10.5h0m0.7 -10h0m0.6 7.3h0m0.8 -6.4h0m0.7 5.1h0m0.7 -12.2h0m0.6 14.3h0m0.8 -5.6h0m0.7 21.2h0m0.7 -21.5h0m0.7 21.9h0m0.8 -26.6h0m0.6 2.3h0m0.6 21.2h0m0.9 9h0m0.6 -8.1h0m0.8 -23h0m0.6 0.3h0m0.6 13.7h0m0.8 -13.5h0m0.8 27.3h0m0.7 -1.1h0m0.6 -22.1h0m0.8 -4.2h0m0.6 7.4h0m0.6 5.1h0m0.9 8.6h0m0.7 -14.6h0m0.6 6.4h0m0.7 12.5h0m0.7 -14.3h0m0.7 2.4h0m0.7 27.9h0m0.6 -34.4h0m0.8 5.1h0m0.8 16.8h0m0.5 -6.7h0m0.8 9.4h0m0.7 -6.3h0m0.8 11.5h0m0.6 1h0m0.7 9h0m0.8 -29h0m0.7 33h0m0.7 -8.7h0m0.7 6.9h0m0.6 -29.9h0m0.8 34.1h0m0.5 -6.5h0m0.7 8.8h0m0.7 1.9h0m0.7 -39.8h0m0.9 14.3h0m0.5 1.7h0m0.9 -5.1h0m0.7 36.4h0m0.5 -11.4h0m0.9 23.6h0m0.7 -42.4h0m0.7 24h0m0.5 -17.7h0m0.7 -1.7h0m-59.8 -76h0m1 8h0m0.5 8h0" fill="none" stroke="#f92428" stroke-width="11" stroke-linecap="round"/><path d="M191.4 1388.3h0m0.8 8.7h0m0.8 -6.7h0m0.5 -8.7h0m0.9 13.5h0m0.6 -0.8h0m0.8 -4.8h0m0.6 8.2h0m0.8 -4h0m0.5 -11.2h0m0.7 6.7h0m0.8 6.3h0m0.8 -3.4h0m0.6 -9.9h0m0.8 0.1h0m0.7 -0.2h0m0.7 6.9h0m0.5 -0.1h0m0.8 2.8h0m0.8 -2.3h0m0.7 6.2h0m0.5 -14.1h0m0.8 7.4h0m0.6 -7.1h0m0.9 4.1h0m0.6 4h0m0.6 2.8h0m0.7 4.1h0m0.8 -14.7h0m0.7 4.2h0m0.7 1.7h0m0.8 -5.2h0m0.7 10.2h0m0.5 -4.7h0m0.7 8.4h0m0.7 -11.3h0m0.9 9.5h0m0.5 -6h0m0.7 5.1h0m0.8 -4.5h0m0.8 -1.3h0m0.5 5.6h0m0.7 2.8h0m0.7 -14.8h0m0.7 4.8h0m0.8 -0.5h0m0.7 -2h0m0.8 -7.3h0m0.6 18h0m0.7 -1.8h0m0.7 2.4h0m0.6 -11h0m0.8 -3.2h0m0.8 17.5h0m0.7 -14.5h0m0.6 0h0m0.8 8.6h0m0.6 -0.6h0m0.8 2.3h0m0.6 -3.6h0m0.8 5.5h0m0.5 -10.8h0m0.7 5.5h0m0.8 2h0m0.6 -8.8h0m0.7 11.4h0m0.8 -0.3h0m0.6 -6.5h0m0.7 0.8h0m0.9 2.7h0m0.5 6.2h0m0.7 -9.7h0m0.9 -0.5h0m0.7 -3.4h0m0.6 0.5h0m0.7 -1.4h0m0.8 7.3h0m0.6 -6.4h0m0.6 9.5h0m0.8 -12.4h0m0.7 5.8h0m0.8 7.3h0m0.6 3.6h0m0.6 -7.4h0m0.8 -4.3h0m0.8 -1.1h0m0.5 10.1h0m0.9 -1.7h0m0.5 -12.2h0m0.9 12.7h0m0.6 -10.4h0m0.7 12h0m0.6 -13.8h0m0.7 6h0m0.7 4.2h0m0.9 -1.6h0m0.7 -2.6h0m0.7 5.4h0m0.6 -10.1h0m0.7 1.5h0m0.7 11h0m0.6 -13.1h0m0.8 12.5h0m0.7 -2.2h0m0.6 4.7h0m0.7 -7.2h0m0.7 -14.7h0m0.8 13.6h0m0.7 7.6h0m0.6 -3.3h0m0.7 3.7h0m0.8 -2.6h0m0.8 3.1h0m0.6 -11.5h0m0.7 2.9h0m0.7 -2.7h0m0.7 -2.4h0m0.7 3h0m0.6 -3.4h0m0.9 3.1h0m0.6 7.8h0m0.7 -8.1h0m0.6 -3.1h0m0.8 7.9h0m0.6 -8.8h0m0.7 6.4h0m0.8 7.3h0m0.7 0h0m0.7 -14.1h0m0.7 13.3h0m0.8 -5.5h0m0.7 5.9h0m0.6 -12.4h0m0.7 6.2h0m0.8 -6.2h0m0.5 0.2h0m0.7 1.9h0m0.7 9.5h0m0.9 0.3h0m0.5 -11.3h0m0.8 1.2h0m0.7 10.6h0m0.7 -3h0m0.8 4.3h0m0.5 -6.2h0m0.8 12.8h0m0.7 -10.8h0m0.6 -4h0m0.7 8h0m0.8 1.4h0m0.6 2.8h0m0.7 -6.9h0m0.7 1.6h0m0.8 -5.7h0m0.8 8.1h0m0.5 -3.7h0m0.9 2.2h0m0.7 4.3h0m0.5 -0.6h0m0.9 -2.1h0m0.6 -6.8h0m0.7 3.3h0m0.8 -0.6h0m0.6 -5.8h0m0.7 7h0m0.6 -8.6h0m0.7 13h0m0.9 4.3h0m0.6 -16.6h0m0.6 16.3h0m0.9 -7.6h0m0.7 4.4h0m0.5 -3.1h0m0.9 -4h0m0.7 -6.9h0m0.6 11.4h0m0.8 -2.7h0m0.5 -4.1h0m0.7 10.5h0m0.8 -13.6h0m0.6 1.3h0m0.9 15.6h0m0.5 -12.1h0m0.8 -2.6h0m0.6 13.4h0m0.7 -0.2h0m0.9 -8.5h0m0.6 -0.5h0m0.7 9.7h0m0.8 -12.8h0m0.7 2.4h0m0.6 7.4h0m0.8 -8.6h0m0.6 4.1h0m0.6 -7.1h0m0.7 10.5h0m0.8 4.3h0m0.6 -1.5h0m0.8 0.5h0m0.7 -1.9h0m0.6 -1.5h0m0.8 -2.8h0m0.6 4.7h0m0.8 -9.4h0m0.6 9.8h0m0.9 -15.6h0m0.6 1.7h0m0.7 7.9h0m0.7 4h0m0.6 -10.1h0m0.9 3.8h0m0.6 -0.5h0m0.7 8.3h0m0.6 -14.7h0m0.8 11.8h0m0.6 -6.5h0m0.8 -6.5h0m0.8 14h0m0.7 1.7h0m0.5 -4.4h0m0.8 5.9h0m0.8 -2.6h0m0.6 -5.1h0m0.6 -1.9h0m0.7 3.3h0m0.7 -3.5h0m0.8 -8.7h0m0.6 2.8h0m0.9 10.6h0m0.7 -8.7h0m0.7 -2.4h0m0.7 9.1h0m0.6 1.2h0m0.8 -10.1h0m0.6 11.7h0m0.6 -12.6h0m0.9 1h0m0.5 -3.1h0m0.7 0.8h0m0.9 4.8h0m0.6 1.5h0m0.7 -7.5h0m0.7 11.6h0m0.7 6.8h0m0.6 -20.6h0m0.8 8.1h0m0.8 -2h0m0.6 -1.6h0m0.8 7.4h0m0.7 -2.6h0m0.7 -5.2h0m0.5 7.8h0m0.9 -10.9h0m0.7 9.6h0m0.7 6.1h0m0.5 -3.4h0m0.9 0.3h0m0.6 -14.2h0m0.7 0.3h0m0.6 11.9h0m0.9 -10.2h0m0.7 -2.1h0m0.5 -1.6h0m0.7 4.5h0m0.9 10h0m0.5 -4.2h0m0.8 3.2h0m0.8 -12h0m0.6 9.6h0m0.8 -0.8h0m0.5 -0.4h0m0.9 -6.4h0m0.6 -2.5h0m0.7 2.4h0m0.6 11.1h0m0.8 -0.6h0m0.7 -3.1h0m0.8 -13.2h0m0.5 -0.2h0m0.8 12.9h0m0.7 -4.6h0m0.8 -2.2h0m0.7 6h0m0.6 0.8h0m0.8 2.3h0m0.6 2h0m0.6 -9.6h0m0.7 -2h0m0.8 10.3h0m0.8 -17.9h0m0.7 12.3h0m0.7 -3.9h0m0.7 -1h0m0.7 -0.2h0m0.6 -7.3h0m0.6 11h0m0.9 -12.1h0m0.7 2.9h0m0.7 13.7h0m0.6 -17h0m0.8 16.6h0m0.5 -11.6h0m0.7 -0.8h0m0.8 0.8h0m0.6 -0.3h0m0.9 9.2h0m0.7 -11.7h0m0.7 -2.9h0m0.5 16.7h0m0.8 0.2h0m0.6 -4.1h0m0.7 -10.5h0m0.8 12.9h0m0.8 -8.5h0m0.6 8.7h0m0.6 -4.5h0m0.8 -11.9h0m0.7 9.6h0m0.6 0.4h0m0.8 -6.4h0m0.7 4.4h0m0.7 -9.2h0m0.8 0.9h0m0.6 11.8h0m0.8 -5.5h0m0.6 -1.7h0m0.7 4h0m0.6 -2.4h0m0.9 5.3h0m0.5 10.3h0m0.7 -18.1h0m0.8 2.8h0m0.7 0.8h0m0.7 -1.2h0m0.8 6.9h0m0.5 -4.7h0m0.7 -3.8h0m0.8 10.3h0m0.6 -1.7h0m0.8 -8.8h0m0.8 -3.4h0m0.7 6h0m0.6 -0.6h0m0.6 6h0m0.8 -5.9h0m0.7 -3.7h0m0.8 -2.9h0m0.5 11.7h0m0.9 4.6h0m0.6 -12.9h0m0.8 4.6h0m0.6 7.3h0m0.8 -0.3h0m0.6 -16.4h0m0.6 3.6h0m0.8 -2.7h0m0.7 10.6h0m0.6 -7.3h0m0.9 13.2h0m0.5 -5h0m0.7 -6.8h0m0.9 4.2h0m0.6 5.6h0m0.8 -10.5h0m0.5 5.8h0m0.8 -1.8h0m0.7 -1.7h0m0.8 -5.9h0m0.7 8.4h0m0.6 -2.3h0m0.8 -9h0m0.7 15.7h0m0.5 -3.4h0m0.8 0.3h0m0.8 -14h0m0.5 4.5h0m0.8 -0.2h0m0.6 7.5h0m0.8 0.5h0m0.8 1.9h0m0.6 -12.4h0m0.8 8.6h0m0.6 2.2h0m0.8 -1.3h0m0.5 -0.5h0m0.8 -0.1h0m0.8 -11.9h0m0.7 7.6h0m0.7 2.4h0m0.6 -6.9h0m0.7 -3.8h0m0.7 5.7h0m0.7 -7.9h0m0.7 11.8h0m0.7 -10.8h0m0.7 9.9h0m0.7 -1.5h0m0.7 -6h0m0.7 -0.1h0m0.8 4h0m0.7 -3.1h0m0.7 -2h0m0.7 1.5h0m0.5 -4h0m0.9 7.1h0m0.7 -2.9h0m0.6 -4.9h0m0.6 8.4h0m0.9 5.1h0m0.7 -6.7h0m0.5 -11.9h0m0.7 -2.9h0m0.7 13.3h0m0.7 -1.5h0m0.8 -6.8h0m0.6 4.1h0m0.7 -5.3h0m0.7 -6.3h0m0.7 4h0m0.8 1.4h0m0.7 -5.4h0m0.8 7.2h0m0.7 -9.8h0m0.6 -4h0m0.7 12.1h0m0.7 0h0m0.6 -3.5h0m0.8 -2.5h0m0.7 -1.9h0m0.7 -7.1h0m0.8 8.3h0m0.5 -5.6h0m0.7 -8.8h0m0.8 -0.6h0m0.6 5.9h0m0.9 -9.5h0m0.7 2.8h0m0.5 -2h0m0.8 3.2h0m0.8 3.4h0m0.5 -1.1h0m0.9 -12.8h0m0.6 0.7h0m0.6 8.2h0m0.9 -11.6h0m0.6 4.4h0m0.7 -4.9h0m0.6 -4.5h0m0.9 -6.4h0m0.5 9.8h0m0.8 -5.6h0m0.7 -4.2h0m0.7 0.4h0m0.8 -2.9h0m0.7 1.4h0m0.7 -3.8h0m0.5 -6.1h0m0.9 3.1h0m0.7 -5.5h0m0.7 -2.7h0m0.7 -0.4h0m0.6 -8.1h0m0.6 1.5h0m0.8 1.7h0m0.7 -7.6h0m0.7 0.6h0m0.8 -2.7h0m0.7 -1h0m0.6 -1.9h0m0.8 -8.8h0m0.5 0.7h0m0.8 1.4h0m0.8 -7.9h0m0.6 2.9h0m0.6 -3.5h0m0.9 -5.1h0m0.7 1.1h0m0.6 -3.3h0m0.7 -9.5h0m0.8 7h0m0.5 -3.1h0m0.8 -1.5h0m0.7 -0.5h0m0.8 -8.2h0m0.5 2.5h0m0.7 -1.4h0m0.8 -1.1h0m0.7 -0.3h0m0.6 -7.2h0m0.8 2h0m0.7 1.3h0m0.7 1.2h0m0.8 0.7h0m0.7 -4.9h0m0.7 3.7h0m0.5 -4.5h0m0.7 -0.4h0m0.8 4.4h0m0.6 -4.1h0m0.7 4.8h0m0.8 -4.1h0m0.6 4.2h0m0.9 3.1h0m0.6 -4.2h0m0.8 7.6h0m0.6 -3h0m0.8 2.7h0m0.6 0.2h0m0.8 3.8h0m0.7 -1.5h0m0.6 0.2h0m0.6 -1.5h0m0.8 3h0m0.7 4.5h0m0.8 0.6h0m0.6 3h0m0.7 3.7h0m0.6 2.9h0m0.8 -0.2h0m0.6 3.6h0m0.8 -4.5h0m0.8 8.5h0m0.7 -0.5h0m0.6 0.7h0m0.7 -0.8h0m0.6 4.9h0m0.8 3.9h0m0.8 0.4h0m0.5 3.2h0m0.9 -3.2h0m0.6 3.8h0m0.8 5h0m0.7 0.6h0m0.5 -2.5h0m0.9 2.4h0m0.7 -0.7h0m0.5 5h0m0.8 3h0m0.6 0.8h0m0.8 -3.3h0m0.8 1.2h0m0.7 8.7h0m0.6 3.3h0m0.7 1.6h0m0.6 -0.6h0m0.7 -2.5h0m0.8 7.7h0m0.7 -1.2h0m0.8 1.2h0m0.7 -6.4h0m0.7 0.3h0m0.5 8.7h0m0.8 -5.6h0m0.7 9.6h0m0.7 -3.1h0m0.7 7.6h0m0.7 -10.5h0m0.8 11.1h0m0.7 -6.4h0m0.5 5.1h0m0.7 0.3h0m0.9 -0.2h0m0.6 -1.1h0m0.6 5.3h0m0.7 -6h0m0.9 7.8h0m0.6 -4.8h0m0.8 9.9h0m0.7 -1.7h0m0.6 0h0m0.8 -7.8h0m0.6 1.4h0m0.8 9.1h0m0.6 -5.5h0m0.6 4.5h0m0.7 -2.3h0m0.8 -0.8h0m0.8 8.4h0m0.6 -1.8h0m0.7 -1.2h0m0.8 3.9h0m0.7 -8.4h0m0.5 3h0m0.8 0h0m0.7 11.1h0m0.6 -10h0m0.8 8.6h0m0.8 -5.7h0m0.6 -1.9h0m0.7 -0.3h0m0.7 0.6h0m0.8 6.2h0m0.6 -0.1h0m0.6 -6.5h0m0.8 7.2h0m0.6 7.7h0m0.8 -8.4h0m0.8 -2.8h0m0.6 0.4h0m0.7 -3.5h0m0.8 10.8h0m0.7 1.7h0m0.5 -6.1h0m0.9 1.4h0m0.7 6.9h0m0.5 -10.9h0m0.7 8.3h0m0.7 -7.3h0m0.9 6.9h0m0.7 2.3h0m0.7 2h0m0.7 -0.6h0m0.6 -8.8h0m0.8 -3.1h0m0.5 6.1h0m0.8 -6.7h0m0.7 15.9h0m0.8 1.8h0m0.7 -1.4h0m0.7 -1.8h0m0.5 -1.1h0m0.7 -0.3h0m0.8 -8h0m0.8 2.6h0m0.6 -5.2h0m0.8 9h0m0.7 4.5h0m0.6 -11.7h0m0.8 8.4h0m0.7 -5.2h0m0.5 -3.1h0m0.9 9.3h0m0.7 3.8h0m0.7 -9h0m0.5 -5.7h0m0.7 -0.2h0m0.8 3.1h0m0.8 6.9h0m0.7 -4.1h0m0.5 -3.3h0m0.7 -1.3h0m0.8 14.5h0m0.7 -17.5h0m0.6 5.7h0m0.8 -1.1h0m0.7 -9.7h0m0.8 15.3h0m0.7 6h0m0.6 -13.7h0m0.6 0.6h0m0.8 12.4h0m0.8 -1.2h0m0.7 -9.7h0m0.6 1.2h0m0.6 -5.5h0m0.7 16.2h0m0.7 0h0m0.8 -5.7h0m0.6 -4.5h0m0.9 -0.9h0m0.6 -7.6h0m0.8 10.6h0m0.7 4.9h0m0.5 -10.5h0m0.8 0.8h0m0.8 5.6h0m0.5 -0.8h0m0.7 -9.8h0m0.7 6.3h0m0.8 -1.1h0m0.8 2h0m0.7 -0.5h0m0.6 5.6h0m0.7 -10.6h0m0.7 -6.3h0m0.8 2.6h0m0.6 15.5h0m0.7 -2.6h0m0.8 -9.2h0m0.6 -6.1h0m0.7 3.4h0m0.6 10.2h0m0.8 -6.6h0m0.7 -2.3h0m0.6 11.6h0m0.9 -7h0m0.6 5.1h0m0.6 -2.6h0m0.9 -12.8h0m0.6 7.5h0m0.6 -1.6h0m0.9 -5.6h0m0.7 -0.7h0m0.5 14h0m0.7 -8.7h0m0.9 7.1h0m0.7 -6.4h0m0.7 -0.6h0m0.7 3.9h0m0.5 -6.3h0m0.7 2.7h0m0.7 -6h0m0.9 -2.7h0m0.7 8.5h0m0.5 -5.9h0m0.8 -9.1h0m0.8 14h0m0.7 11.3h0m0.6 -20.5h0m0.6 7.6h0m0.9 -7.5h0m0.7 8.6h0m0.5 1.9h0m0.9 0.8h0m0.5 1.4h0m0.7 -8.7h0m0.9 2.5h0m0.5 -3.3h0m0.8 -5.5h0m0.8 -0.1h0m0.6 -2.1h0m0.6 6.6h0m0.9 -3.9h0m0.6 10.8h0m0.6 -14.7h0m0.9 1.9h0m0.5 3.9h0m0.7 -4.6h0m0.8 4.8h0m0.6 -1h0m0.8 0h0m0.6 8.7h0m0.8 -2.2h0m0.8 -4.2h0m0.5 -5.5h0m0.8 10.6h0m0.8 -10.8h0m0.6 -3.6h0m0.6 11.8h0m0.7 -12.7h0m0.9 11.2h0m0.7 -2.6h0m0.5 -8.7h0m0.8 1.5h0m0.7 2.1h0m0.7 3.2h0m0.8 -2.1h0m0.7 -4.8h0m0.7 5.7h0m0.6 -11.6h0m0.7 10.2h0m0.8 -1.6h0m0.7 2.5h0m0.6 -14.6h0m0.7 0.4h0m0.7 14h0m0.6 -5.2h0m0.8 -7.1h0m0.7 1.4h0m0.8 -1.3h0m0.5 1.2h0m0.7 2.8h0m0.8 -6.5h0m0.7 -4.2h0m0.7 1.3h0m0.8 -0.6h0m0.5 4.5h0m0.9 -9.8h0m0.7 0.8h0m0.7 -0.1h0m0.5 -6.8h0m0.9 0.5h0m0.7 0.5h0m0.6 -1.8h0m0.6 -0.6h0m0.8 1.3h0m0.7 4.2h0m0.8 -8.1h0m0.6 2.6h0m0.7 -10.7h0m0.8 -0.1h0m0.6 9h0m0.8 -12.5h0m0.7 3.4h0m0.6 -3.6h0m0.7 -2.7h0m0.6 1.9h0m0.7 -1.2h0m0.9 -0.9h0m0.7 -1h0m0.6 -4.5h0m0.8 -1.4h0m0.7 -2.3h0m0.7 -6.9h0m0.7 1.9h0m0.6 -2.4h0m0.8 -6.7h0m0.7 2.8h0m0.6 -8.6h0m0.6 4.5h0m0.8 -8.8h0m0.6 1.2h0m0.8 -5.7h0m0.8 -3h0m0.6 1.4h0m0.8 -3.7h0m0.6 -1h0m0.8 -5.5h0m0.6 4.7h0m0.8 -2.2h0m0.5 -2.7h0m0.7 -3.8h0m0.7 -3.4h0m0.7 2.5h0m0.7 -1h0m0.9 -1.8h0m0.6 -7.5h0m0.6 -2.4h0m0.7 5.8h0m0.8 -7.6h0m0.7 1.4h0m0.7 2.6h0m0.8 -11.2h0m0.5 9.2h0m0.7 -2.2h0m0.8 -0.6h0m0.6 -4.8h0m0.9 -2.7h0m0.5 5.2h0m0.8 2.6h0m0.7 -0.1h0m0.6 0.4h0m0.7 -2.8h0m0.8 2.6h0m0.7 -7.1h0m0.7 3.1h0m0.8 -4.3h0m0.7 3.1h0m0.6 2.4h0m0.6 -1.6h0m0.7 7.1h0m0.9 -6h0m0.5 -3.1h0m0.7 3.7h0m0.7 6.2h0m0.8 -2.2h0m0.8 2.4h0m0.6 -4.3h0m0.6 -0.2h0m0.9 6.8h0m0.7 5.3h0m0.6 -7.2h0m0.7 6.2h0m0.8 -4.7h0m0.7 0.6h0m0.7 7.9h0m0.6 2.9h0m0.6 -2.7h0m0.8 6.4h0m0.6 -4.8h0m0.7 -0.2h0m0.7 3.9h0m0.9 8.8h0m0.5 -2.2h0m0.8 -0.1h0m0.8 7h0m0.6 1.8h0m0.8 -6.3h0m0.7 5h0m0.7 2h0m0.5 4h0m0.8 4.7h0m0.6 -7.9h0m0.9 11.2h0m0.5 0.9h0m0.8 -3.4h0m0.6 4.6h0m0.7 1h0m0.8 2.5h0m0.6 7.2h0m0.9 -6.5h0m0.5 2.9h0m0.7 6.5h0m0.7 -0.8h0m0.9 -1.3h0m0.7 2.9h0m0.7 5.9h0m0.7 1.5h0m0.5 -1.4h0m0.8 1.9h0m0.6 4.3h0m0.8 -0.3h0m0.8 3.5h0m0.6 4.4h0m0.7 -6.1h0m0.7 12.4h0m0.6 -8.8h0m0.7 6h0m0.8 6h0m0.8 -2.8h0m0.6 8.7h0m0.7 -1.3h0m0.6 -7h0m0.8 13.6h0m0.6 1.1h0m0.7 2.8h0m0.7 3.9h0m0.7 -13.1h0m0.8 8.1h0m0.8 8.7h0m0.5 -1.5h0m0.9 -2.8h0m0.6 -4.1h0m0.7 8.4h0m0.7 -0.1h0m0.7 7.3h0m0.7 -2h0m0.6 -4.6h0m0.9 8.1h0m0.6 7.4h0m0.7 -2.8h0m0.6 -8.9h0m0.8 -2.1h0m0.6 15.1h0m0.7 -13.8h0m0.8 9.2h0m0.8 14.2h0m0.6 -13.2h0m0.6 9.1h0m0.8 4.5h0m0.6 -13.4h0m0.8 11h0m0.6 -4.6h0m0.8 -4h0m0.8 1.3h0m0.6 -1.3h0m0.7 16.8h0m0.8 4.2h0m0.5 -11.8h0m0.9 2.4h0m0.5 2h0m0.8 -4.6h0m0.7 8.9h0m0.8 -6.7h0m0.5 1.9h0m0.8 -4.3h0m0.7 21.9h0m0.6 -8.5h0m0.8 -9.7h0m0.8 8.2h0m0.5 5.6h0m0.7 -8.6h0m0.9 9.7h0m0.6 0.4h0m0.8 -5.1h0m0.6 -4.8h0m0.6 10h0m0.9 -2.7h0m0.7 12.7h0m0.7 -17.4h0m0.7 18.8h0m0.7 -17.2h0m0.7 -4.9h0m0.6 21.2h0m0.6 -16.8h0m0.9 -3.3h0m0.7 17.9h0m0.6 -14.4h0m0.8 11.1h0m0.6 10.5h0m0.6 -8.2h0m0.8 0.7h0m0.7 -8.7h0m0.7 6.4h0m0.8 0.4h0m0.7 3.6h0m0.5 7.3h0m0.7 -18.1h0m0.7 14.1h0m0.7 0.8h0m0.8 -8.9h0m0.7 -6.8h0m0.6 12.6h0m0.8 -12.5h0m0.7 25.2h0m0.6 -18.5h0m0.7 7.2h0m0.8 12.6h0m0.8 -23.4h0m0.5 -4.7h0m0.9 7.7h0m0.6 21.8h0m0.7 -27.9h0m0.8 22h0m0.7 -11.8h0m0.6 10.4h0m0.8 10.1h0m0.6 -27.5h0m0.8 20h0m0.5 -10.6h0m0.9 14.8h0m0.5 -26.1h0m0.9 5.3h0m0.7 17.1h0m0.7 13h0m0.5 -18.7h0m0.7 13.3h0m0.9 -1h0m0.5 -21.3h0m0.8 8.4h0m0.7 3.8h0m0.8 -9.9h0m0.7 6.3h0m0.6 1.8h0m0.7 2.2h0m0.7 -14.9h0m0.7 0.2h0m0.7 21.5h0m0.8 -20.5h0m0.7 9.5h0m0.5 -0.4h0m0.8 2.3h0m0.6 -0.4h0m0.9 0.5h0m0.7 6.4h0m0.7 -18.1h0m0.7 -0.1h0m0.5 20.7h0m0.7 -1.5h0m0.8 -10.6h0m0.6 -2.4h0m0.7 8.3h0m0.8 -6.5h0m0.6 13.8h0m0.9 -23.1h0m0.7 15.1h0m0.6 10h0m0.7 -18.1h0m0.7 13.6h0m0.7 5.4h0m0.7 -25.9h0m0.8 18h0m0.7 1.3h0m0.5 -7.2h0m0.8 9h0m0.6 -13.3h0m0.7 15.4h0m0.9 7h0m0.6 -0.2h0m0.7 -31.7h0m0.8 17.6h0m0.7 11.9h0m0.5 -5.5h0m0.7 6.4h0m0.8 -28.9h0m0.7 18h0m0.7 8h0m0.8 -22.3h0m0.7 21.9h0m0.7 6.1h0m0.5 -6.5h0m0.8 -6.4h0m0.7 -13.4h0m0.8 1.4h0m0.6 4.8h0m0.8 -12.3h0m0.7 -0.5h0m0.7 27.4h0m0.7 -3.1h0m0.7 0.3h0m0.5 0h0m0.7 -5.9h0m0.9 1.9h0m0.5 6.1h0m0.7 -14.7h0m0.7 -7.7h0m0.9 -0.3h0m0.7 -1.1h0m0.7 30.9h0m0.5 -1.4h0m0.9 -18h0m0.6 -7.7h0m0.7 1.9h0m0.7 19.9h0m0.7 -3.4h0m0.8 -5.8h0m0.5 -28.5h0m0.9 39.2h0m0.5 -28.2h0m0.7 21.7h0m0.9 -20.8h0m0.6 24.4h0m0.7 -18.9h0m0.8 23.3h0m0.6 -19.6h0m0.8 -7.3h0m0.6 23.8h0m0.7 2.8h0m0.7 -32.8h0m0.7 6.9h0m0.7 10.5h0m0.8 -12.7h0m0.5 18.5h0m0.9 -7.1h0m0.6 4.5h0m0.8 -6.8h0m0.5 -16.7h0m0.8 17.9h0m0.7 -0.4h0m0.7 9.7h0m0.6 -1.8h0m0.7 -14.5h0m0.8 18.7h0m0.8 -9.5h0m0.6 2.2h0m0.7 -23.6h0m0.7 17.7h0m0.8 -16.9h0m0.6 -0.3h0m0.6 26.9h0m0.9 -12.7h0m0.5 -2.2h0m0.9 12.5h0m0.6 -26.3h0m0.7 8.8h0m0.6 -12.6h0m0.9 32.1h0m0.7 0.3h0m0.7 -7.6h0m0.5 -18.3h0m0.9 21.6h0m0.7 -7.4h0m0.5 -20.8h0m0.9 30.7h0m0.5 -31.3h0m0.8 20.3h0m0.7 -0.9h0m0.8 13.4h0m0.7 -13.7h0m0.5 4.2h0m0.7 5.2h0m0.7 -3.3h0m0.7 -5.6h0m0.7 -11.2h0m0.8 2.4h0m0.6 -1.1h0m0.8 8.8h0m0.7 -18.5h0m0.7 19.2h0m0.7 0.4h0m0.7 -6h0m0.8 16.5h0m0.5 -23.6h0m0.7 2h0m0.7 -4.2h0m0.8 17.7h0m0.7 0.8h0m0.6 -5.6h0m0.9 13.4h0m0.7 -3.5h0m0.6 3h0m0.8 -6h0m0.6 -0.8h0m0.7 -21.7h0m0.7 2.8h0m0.6 16h0m0.9 -19.4h0m0.5 14.2h0m0.7 6.3h0m0.7 -15.7h0m0.9 10h0m0.6 -13.9h0m0.7 2.6h0m0.7 26.2h0m0.7 5.5h0m0.7 -27.3h0m0.6 11.7h0m0.8 -15.2h0m0.7 1.9h0m0.8 29.7h0m0.7 -30.1h0m0.5 10.4h0m0.8 5.9h0m0.6 -12.4h0m0.8 16.9h0m0.8 4.3h0m0.5 -15.1h0m0.8 -1h0m0.6 -4.2h0m0.8 8.3h0m0.8 6.3h0m0.7 -12.2h0m0.7 19.7h0m0.7 -6.5h0m0.7 -11.2h0m0.6 13.4h0m0.6 1.2h0m0.8 -4.4h0m0.7 -16.6h0m0.8 6.8h0m0.5 21.6h0m0.9 -23.6h0m0.5 2.8h0m0.9 3.9h0m0.6 19.7h0m0.6 -2.3h0m0.7 -26.1h0m0.9 17.6h0m0.6 -21.9h0m0.8 12.3h0m0.6 -6.3h0m0.7 -1.1h0m0.8 9.4h0m0.7 -0.7h0m0.5 14.8h0m0.7 -0.7h0m0.7 -23.9h0m0.7 6.4h0m0.8 0.5h0m0.7 -1.6h0m0.7 3.1h0m0.7 -2.9h0m0.7 17.5h0m0.7 -1.3h0m0.8 -13.7h0m0.5 20.4h0m0.8 -29.5h0m0.6 24.2h0m0.7 3.2h0m0.8 -10h0m0.7 -12.1h0m0.7 10.2h0m0.6 -14.6h0m0.9 1.7h0m0.5 24.5h0m0.9 -7.8h0m0.7 1.2h0m0.6 6.6h0m0.6 3.4h0m0.7 3h0m0.7 -7.7h0m0.7 -14.2h0m0.7 5.9h0m0.7 3.9h0m0.7 -13.7h0m0.7 -10.3h0m0.8 3.9h0m0.8 10.3h0m0.6 -0.4h0m0.7 19.3h0m0.7 -1.3h0m0.6 -0.8h0m0.7 -20.9h0m0.8 12.2h0m0.8 -20h0m0.5 32.1h0m0.8 -18.3h0m0.6 15.2h0m0.8 -16.8h0m0.6 17.2h0m0.9 -4.6h0m0.5 -13h0m0.8 0.2h0m0.8 0.3h0m0.6 18.4h0m0.8 -33.9h0m0.7 7.6h0m0.6 3.1h0m0.8 2.7h0m0.6 19.1h0m0.8 -14.5h0m0.5 -2.2h0m0.7 1.7h0m0.7 -3.7h0m0.9 13.3h0m0.5 6.9h0m0.9 -30.1h0m0.5 23.6h0m0.9 -5.1h0m0.6 -8.1h0m0.7 -1.5h0m0.8 -3.7h0m0.6 14.5h0m0.7 -3.7h0m0.6 -16h0m0.9 9.3h0m0.7 -27.4h0m0.6 18h0m0.7 13.8h0m0.7 -13.3h0m0.6 -7h0m0.9 11.9h0m0.5 16.2h0m0.9 -29.1h0m0.7 30.8h0m0.7 -26.3h0m0.6 -6.3h0m0.6 23.3h0m0.7 -12.7h0m0.8 14.4h0m0.7 2.1h0m0.8 -18.6h0m0.6 19.5h0m0.6 -29.2h0m0.9 -1.9h0m0.5 4.6h0m0.9 15.9h0m0.7 -12.3h0m0.7 15.5h0m0.6 -4.2h0m0.6 11.7h0m0.8 -1.6h0m0.6 -1.4h0m0.9 -1.8h0m0.7 -7h0m0.7 10.7h0m0.5 -32.2h0m0.8 -1.5h0m0.6 23.3h0m0.7 -5.6h0m0.8 9.4h0m0.8 -16.8h0m0.7 -9.6h0m0.5 18.2h0m0.8 5.2h0m0.7 -23.3h0m0.8 -1.1h0m0.7 4.7h0m0.6 3.9h0m0.8 5.9h0m0.6 -6.6h0m0.8 25.4h0m0.5 -18.3h0m0.7 -9.1h0m0.9 20.2h0m0.7 -21.4h0m0.7 11.7h0m0.5 -12.2h0m0.8 -0.3h0m0.7 -0.4h0m0.8 5.4h0m0.6 -5.3h0m0.6 14.7h0m0.9 -9.2h0m0.7 -5.3h0m0.6 5.8h0m0.7 -8.8h0m0.6 25.4h0m0.8 -20.6h0m0.8 15.3h0m0.7 -12.9h0m0.7 3h0m0.5 -4.5h0m0.8 -3.3h0m0.7 14.4h0m0.6 -1.2h0m0.8 -17.2h0m0.7 -7.9h0m0.6 18.7h0m0.7 9.4h0m0.8 -4.8h0m0.7 2.3h0m0.7 5.3h0m0.6 -30.8h0m0.8 29.8h0m0.7 -7.2h0m0.8 0.2h0m0.5 -7.1h0m0.9 -12.6h0m0.6 -2.1h0m0.7 1.5h0m0.8 -7.8h0m0.5 26.7h0m0.9 -7.8h0m0.6 -19.9h0m0.6 36.1h0m0.7 -17.1h0m0.9 -14h0m0.6 22.8h0m0.7 -6.6h0m0.8 -19.3h0m0.5 20.4h0m0.9 -6.7h0m0.7 10h0m0.7 -17.8h0m0.5 18.3h0m0.8 -15.7h0m0.6 20.8h0m0.7 -12.6h0m0.8 12h0m0.6 2h0m0.8 -25.1h0m0.6 9.6h0m0.9 9.9h0m0.6 2.7h0m0.8 -15.7h0m0.5 -8.5h0m0.7 18.5h0m0.7 -24.1h0m0.8 1.8h0m0.8 16.2h0m0.6 -5.8h0m0.8 15.4h0m0.7 -18.4h0m0.6 22.8h0m0.8 -26h0m0.5 13.9h0m0.7 0.7h0m0.9 -19.6h0m0.6 -3.7h0m0.7 17.1h0m0.6 -17.3h0m0.9 6.2h0m0.7 12.8h0m0.7 2.4h0m0.5 -2.8h0m0.9 -4.3h0m0.5 22.7h0m0.9 -19.2h0m0.5 -10.4h0m0.9 27h0m0.7 11.4h0m0.5 -42.1h0m0.9 20h0m0.5 5h0m0.8 1.9h0m0.8 -23.9h0m0.7 18.8h0m0.5 -8.8h0m0.8 0.2h0m0.6 10h0m0.7 -8.3h0m0.7 3.5h0m0.8 5.8h0m0.7 -12h0m0.7 14h0m0.7 4.3h0m0.6 -22.7h0m0.7 4.1h0m0.9 -5.3h0m0.5 29.6h0m0.7 -7.7h0m0.7 -17.1h0m0.8 26.5h0m0.8 -33.6h0m0.5 30.2h0m0.9 -31.8h0m0.6 17.3h0m0.7 -8.4h0m0.6 27.5h0m0.8 -28.9h0m0.7 20.6h0m0.8 -17.9h0m0.5 6.4h0m0.8 11.4h0m0.7 -19.2h0m0.7 10.3h0m0.6 6.9h0m0.7 -19h0m0.9 16.4h0m0.5 1.2h0m0.9 2.1h0m0.6 -30.1h0m0.6 37.5h0m0.7 -10.4h0m0.9 5.2h0m0.5 -9.1h0m0.8 -3.7h0m0.7 22.9h0m0.8 -18.1h0m0.6 -11h0m0.8 24h0m0.5 -22.2h0m0.8 4.6h0m0.7 4.7h0m0.8 6.6h0m0.7 9h0m0.6 -3.1h0m0.6 -24.4h0m0.9 29.4h0m0.6 -1.6h0m0.7 -17h0m0.7 -1.4h0m0.7 19.8h0m0.7 -29.3h0m0.8 21h0m0.5 -16h0m0.8 2.8h0m0.8 5.9h0m0.7 -16.7h0m0.5 35.9h0m0.8 -32.3h0m0.6 18.3h0m0.7 -9.2h0m0.7 3.8h0m0.9 -2.5h0m0.7 20.7h0m0.7 -3.3h0m0.7 -8.9h0m0.7 0.3h0m0.7 10.5h0m0.6 -5.5h0m0.8 6.6h0m0.5 -20.3h0m0.8 -1.1h0m0.8 0.5h0m0.5 18.3h0m0.9 -42.8h0m0.7 17.1h0m0.6 24.1h0m0.7 -30.5h0m0.7 15.1h0m0.8 -10.6h0m0.6 1.7h0m0.6 -3.5h0m0.7 3.4h0m0.9 17.5h0m0.6 -10.6h0m0.6 -3.3h0m0.7 19.5h0m0.8 -19.2h0m0.8 -6.3h0m0.7 -5.6h0m0.7 26.1h0m0.7 -28.6h0m0.5 28.6h0m0.8 -9.8h0m0.6 -12.1h0m0.9 6.2h0m0.7 -2.2h0m0.6 -14h0m0.8 2.6h0m0.5 4.7h0m0.7 -4.8h0m0.9 1.1h0m0.5 5.4h0m0.9 10h0m0.6 9.2h0m0.6 -8.6h0m0.9 12h0m0.6 -32.2h0m0.6 8.3h0m0.9 21h0m0.5 -6.5h0m0.8 -5.9h0m0.6 -10h0m0.9 19.6h0m0.7 -17.8h0m0.7 0.6h0m0.6 22.7h0m0.7 -20.5h0m0.8 31.2h0m0.5 -11h0m0.7 -35.1h0m0.9 0h0m0.5 -0.7h0m0.7 26.9h0m0.7 -27.6h0m0.7 0.1h0m0.7 -2.3h0m0.8 3.3h0m0.7 26.5h0m0.6 -9.5h0m0.9 4.9h0m0.6 6.9h0m0.8 -24.3h0m0.5 2.7h0m0.8 5.5h0m0.8 10.7h0m0.7 -1.7h0m0.6 4.3h0m0.7 -22.2h0m0.7 -0.9h0m0.6 13.2h0m0.9 -9.4h0m0.5 9.7h0m0.9 -17.7h0m0.6 16.9h0m0.6 -17.9h0m0.7 24.7h0m0.8 -23.5h0m0.8 -6.2h0m0.7 3.1h0m0.7 30.3h0m0.5 -2.4h0m0.9 -21.2h0m0.6 -9.2h0m0.6 30h0m0.8 -22.2h0m0.7 -0.9h0m0.7 -4.4h0m0.7 26.4h0m0.7 -10.8h0m0.7 -14.7h0m0.6 -1.8h0m0.7 1.4h0m0.7 2.1h0m0.7 24h0m0.7 15.7h0m0.9 -32.9h0m0.6 15.7h0m0.7 -20.9h0m0.6 -4.5h0m0.8 13.4h0m0.7 -10.7h0m0.8 23.4h0m0.6 -8.8h0m0.6 -5.6h0m0.9 23.3h0m0.7 -10.4h0m0.6 7.8h0m0.6 -12.3h0m0.7 -23.5h0m0.9 11.5h0m0.6 -1.5h0m0.7 17h0m0.7 2.2h0m0.8 -16h0m0.5 21.9h0m0.8 -26.3h0m0.8 18.6h0m0.6 -20h0m0.8 16.4h0m0.7 -7.7h0m0.6 -2.9h0m0.7 -3.3h0m0.8 29h0m0.6 -13.7h0m0.6 -22.7h0m0.7 6.9h0m0.8 9.8h0m0.8 1.2h0m0.7 20h0m0.6 -36.8h0m0.7 35.4h0m0.8 -3.8h0m0.5 -5.8h0m0.9 0.3h0m0.7 -16.2h0m0.6 10.2h0m0.8 -13.6h0m0.6 -3.1h0m0.7 22.1h0m0.8 -0.8h0m0.5 -8.9h0m0.9 5.7h0m0.7 4.1h0m0.7 5.5h0m0.6 -20.2h0m0.7 3.8h0m0.8 3.7h0m0.7 26.5h0m0.6 -8.1h0m0.7 -14.7h0m0.7 12.4h0m0.6 -39.4h0m0.9 38.3h0m0.7 8.5h0m0.7 -24h0m0.7 8.9h0m0.6 -8.9h0m0.7 26.2h0m0.8 -17.9h0m0.6 1.7h0m0.6 -7.1h0m0.7 -3.8h0m0.7 19.6h0m0.9 -5.3h0m0.7 7.9h0m0.6 -8.3h0m0.6 21.3h0m0.9 -15.9h0m0.6 -23h0m0.6 9.3h0m0.8 13.4h0m0.8 -4.1h0m0.6 -21.5h0m0.7 7.4h0m0.6 -4.4h0m0.7 12.8h0m0.8 -0.6h0m0.8 -0.2h0m0.5 16.3h0m0.9 -24.2h0m0.6 8.7h0m0.6 15.1h0m0.9 5.8h0m0.6 -40.6h0m0.7 13.5h0m0.8 -0.6h0m0.5 10.1h0m0.8 -7.7h0m0.7 -3.1h0m0.8 1.4h0m0.7 23.8h0m0.6 -27.8h0m0.8 11.1h0m0.5 18.2h0m0.9 -5.7h0m0.7 -14.4h0m0.5 17.8h0m0.7 -13.7h0m0.9 10.2h0m0.6 -0.4h0m0.8 -11.9h0m0.7 19.1h0m0.5 -19.1h0m0.9 -8.4h0m0.6 -3.2h0m0.8 0.9h0m0.7 15h0m0.6 -17.4h0m0.7 29.6h0m0.8 -22.6h0m0.6 15.2h0m0.8 11h0m0.5 -36.6h0m0.7 1.6h0m0.7 23.4h0m0.9 -16.5h0m0.7 21.2h0m0.5 -15.5h0m0.9 9.6h0m0.5 -17.3h0m0.7 -2.6h0m0.7 24.5h0m0.9 5.5h0m0.5 -11.4h0m0.9 -10.6h0m0.7 -0.3h0m0.7 6.8h0m0.5 13.7h0m0.9 -12.9h0m0.7 -10.2h0m0.6 27.1h0m0.8 -15.6h0m0.6 -8.8h0m0.6 16.9h0m0.9 -22.1h0m0.7 27.3h0m0.7 -23.4h0m0.5 18.3h0m0.8 4.2h0m0.6 -25.1h0m0.9 21.4h0m0.5 -29.4h0m0.8 10.1h0m0.8 -5.9h0m0.6 26.4h0m0.7 -31.4h0m0.8 24.3h0m0.6 11.7h0m0.6 -27.5h0m0.9 15.9h0m0.5 -13.3h0m0.8 25h0m0.7 -18.2h0m0.8 -11.6h0m0.6 23.8h0m0.6 -1.4h0m0.9 -17.4h0m0.7 -8.4h0m0.7 20.1h0m0.6 7.7h0m0.6 0.3h0m0.7 -5h0m0.9 -19.6h0m0.6 6.2h0m0.6 -0.1h0m0.7 0.3h0m0.8 11.1h0m0.8 -14.1h0m0.6 2.4h0m0.6 2.7h0m0.8 8.5h0m0.7 -9.6h0m0.8 -7.4h0m0.6 12.3h0m0.6 -17.9h0m0.7 32h0m0.8 -29.6h0m0.6 -4.1h0m0.9 46.7h0m0.6 -22.8h0m0.7 12.3h0m0.8 -28.7h0m0.6 29.2h0m0.8 -29.1h0m0.5 -6.7h0m0.8 16.7h0m0.7 10.5h0m0.7 -14h0m0.6 9.2h0m0.7 -18.8h0m0.7 11.2h0m0.8 -12.3h0m0.8 -0.4h0m0.7 -0.5h0m0.5 20.1h0m0.9 8.8h0m0.6 -24.8h0m0.6 -9h0m0.9 36h0m0.7 1.6h0m0.5 -44.1h0m0.7 30.5h0m0.9 6.6h0m0.7 -5.4h0m0.5 6.6h0m0.7 -8.3h0m0.9 -21.1h0m0.5 3.4h0m0.7 -0.7h0m0.8 25.3h0m0.6 -26.1h0m0.8 11h0m0.6 -9.3h0m0.7 31.7h0m0.9 -17.7h0m0.7 13.3h0m0.5 -7.4h0m0.8 4.9h0m0.8 -15.4h0m0.5 -7h0m0.9 20.6h0m0.7 -27.5h0m0.6 3.6h0m0.8 22.4h0m0.7 2.3h0m0.7 -7.7h0m0.5 14.9h0m0.9 -28.7h0m0.5 20.5h0m0.8 -12.6h0m0.8 12.1h0m0.5 -5.7h0m0.7 -3.8h0m0.7 1.4h0m0.9 -22.8h0m0.5 8.9h0m0.7 1.7h0m0.8 16.7h0m0.6 -20.7h0m0.7 34.2h0m0.7 -28.1h0m0.8 14.3h0m0.8 12.5h0m0.5 -6.7h0m0.8 -5.6h0m0.7 3.5h0m0.6 -12.5h0m0.7 8.5h0m0.9 11.2h0m0.6 -15h0m0.7 -10.4h0m0.8 6.7h0m0.6 -19.1h0m0.6 42.1h0m0.8 -17.4h0m0.7 -1.2h0m0.7 -2.5h0m0.8 19.1h0m0.5 -19.3h0m0.8 28.3h0m0.7 -20.6h0m0.8 12.8h0m0.7 6.8h0m0.7 -8.8h0m0.6 -8.3h0m0.7 5.9h0m0.7 15.3h0m0.7 -29.2h0m0.7 -7.5h0m0.7 19h0m0.6 -12h0m0.7 22.1h0m0.9 5h0m0.5 -10.2h0m0.8 16.6h0m0.8 -13.7h0m0.5 -14.1h0m0.8 26.3h0m0.7 -14.4h0m0.6 3.1h0m0.8 12.5h0m0.8 -31.9h0m0.5 15.7h0m0.7 -3.9h0m0.8 -13.9h0m0.6 22.2h0m0.7 12.7h0m0.8 -23.4h0m0.8 -2.6h0m0.5 10.5h0m0.7 -3.5h0m0.7 -11.4h0m0.7 2h0m0.8 33.4h0m0.7 -12.8h0m0.8 -6.1h0m0.7 -2.1h0m0.5 -10.7h0m0.8 26.2h0m0.7 -1.5h0m0.8 0h0m0.7 -30.6h0m0.5 30.7h0m0.7 -17h0m0.9 -11.4h0m0.5 3.4h0m0.8 22.9h0m0.7 -22.6h0m0.8 14.5h0m0.6 7h0m0.6 -2.7h0m0.9 -17.2h0m0.7 21.6h0m0.7 -8.1h0m0.6 -0.1h0m0.7 -13.1h0m0.8 -7.6h0m0.5 15.5h0m0.9 -9.5h0m0.6 28.8h0m0.7 2.2h0m0.8 -21.3h0m0.7 -12.4h0m0.7 12.9h0m0.7 21.7h0m0.6 -17.9h0m0.8 7.2h0m0.7 -4.7h0m0.7 0.9h0m0.5 -3.4h0m0.8 12.3h0m0.7 -12.5h0m0.8 18.3h0m0.7 -29.3h0m0.5 9.6h0m0.7 10.8h0m0.7 7.6h0m0.8 -1.9h0m0.6 -10.7h0m0.7 11.4h0m0.8 -35.4h0m0.7 26.7h0m0.7 4.5h0m0.6 4h0m0.7 -20.6h0m0.9 -4h0m0.5 -6.3h0m0.8 12.4h0m0.7 -15.9h0m0.7 23.8h0m0.6 -23.9h0m0.9 7.2h0m0.5 29.6h0m0.8 -20.7h0m0.7 20.5h0m0.7 -17.1h0m0.8 14.8h0m0.7 -29.6h0m0.7 -5.7h0m0.7 35.6h0m0.5 -25.4h0m0.7 -2.5h0m0.9 13.3h0m0.6 9.6h0m0.6 -14.1h0m0.7 -3.1h0m0.7 1.7h0m0.7 -9h0m0.7 9.9h0m0.7 17h0m0.9 -3.3h0m0.5 -29.6h0m0.8 35.9h0m0.7 -4.6h0m0.8 3.8h0m0.5 -15.4h0m0.9 -3.8h0m0.6 17.4h0m0.7 -32h0m0.6 11.5h0m0.7 18.3h0m0.7 -31.5h0m0.8 -0.9h0m0.7 8.9h0m0.7 20.9h0m0.8 -27.5h0m0.7 13.1h0m0.6 -10.5h0m0.6 -3h0m0.8 25.2h0m0.7 -5.7h0m0.7 -6.7h0m0.8 -9.8h0m0.5 13.5h0m0.8 6.9h0m0.7 -10.6h0m0.6 2.6h0m0.9 10.8h0m0.5 -17h0m0.9 18.9h0m0.5 -18.9h0m0.8 -9.7h0m0.8 0h0m0.7 2.1h0m0.5 25.8h0m0.8 -4.4h0m0.8 4.7h0m0.5 -5.1h0m0.7 12.7h0m0.7 -30.5h0m0.7 1.8h0m0.9 18.2h0m0.6 8.1h0m0.7 -23.4h0m0.7 -5h0m0.6 29.2h0m0.9 -11.2h0m0.6 -19.4h0m0.7 -15.5h0m0.6 37.7h0m0.7 -6.6h0m0.9 -9.2h0m0.6 -0.5h0m0.8 19.2h0m0.6 -31.9h0m0.8 34.7h0m0.6 -10.7h0m0.6 -4.7h0m0.9 19h0m0.6 -26h0m0.6 10.7h0m0.9 0.2h0m0.7 -19h0m0.5 2h0m0.9 30.5h0m0.5 -28.7h0m0.9 31.4h0m0.5 -29h0m0.7 1.2h0m0.8 -9.1h0m0.8 1.7h0m0.7 1.9h0m0.7 21.8h0m0.5 -17.5h0m0.7 9.1h0m0.8 -8.9h0m0.6 4.3h0m0.7 25.8h0m0.7 -7.8h0m0.7 -14.1h0m0.8 4.2h0m0.8 0.4h0m0.5 16.3h0m0.7 -25h0m0.8 11.8h0m0.8 -1.3h0m0.5 -6.3h0m0.9 -8.1h0m0.6 19.2h0m0.8 0.6h0m0.7 0.2h0m0.6 -5.9h0m0.6 -20.4h0m0.9 4.4h0m0.6 23h0m0.7 -16.4h0m0.7 -1.9h0m0.7 14.9h0m0.6 -9h0m0.8 -8.5h0m0.6 15.4h0m0.7 2.3h0m0.7 5.6h0m0.7 -21.8h0m0.8 -1.8h0m0.8 15h0m0.5 -16.6h0m0.7 30.4h0m0.7 2.7h0m0.9 -1.5h0m0.7 -11.4h0m0.5 -12.4h0m0.7 -2.7h0m0.8 -4.6h0m0.7 17.5h0m0.6 4.2h0m0.7 -0.7h0m0.9 -6.4h0m0.6 11.3h0m0.8 -17.6h0m0.6 18.6h0m0.7 -28.4h0m0.6 13.7h0m0.7 -0.3h0m0.8 7.4h0m0.6 6.5h0m0.8 -3.1h0m0.8 -12.5h0m0.5 -6.8h0m0.7 15.7h0m0.8 -23.4h0m0.7 9h0m0.6 -5.3h0m0.9 5.4h0m0.6 5.1h0m0.7 0.3h0m0.8 -6.2h0m0.5 9.4h0m0.8 15.3h0m0.7 1h0m0.6 -6.6h0m0.9 -19.6h0m0.7 10.9h0m0.5 4.6h0m0.7 -16.5h0m0.7 -2.5h0m0.8 -3h0m0.6 9.2h0m0.7 2.2h0m0.8 18.8h0m0.6 -28.2h0m0.9 29.5h0m0.7 8.6h0m0.5 -24.1h0m0.7 -10.4h0m0.8 -4.9h0m0.6 32.9h0m0.7 -0.1h0m0.9 2.7h0m0.5 -7.9h0m0.8 -20.3h0m0.6 -6.1h0m0.7 7.7h0m0.9 23.3h0m0.5 0.1h0m0.8 -0.1h0m0.7 -18.1h0m0.6 -14.5h0m0.9 31.2h0m0.6 -23.1h0m0.8 -5.3h0m0.5 16.5h0m0.8 -11h0m0.8 22.2h0m0.5 -13.1h0m0.7 -27.4h0m0.9 36.6h0m0.5 -20.9h0m0.7 14.3h0m0.9 4h0m0.5 1.7h0m0.7 7.3h0m0.9 -6.3h0m0.5 -21.9h0m0.9 -4.5h0m0.6 19h0m0.8 -2.5h0m0.7 3.9h0m0.7 0.2h0m0.7 -5.2h0m0.7 -6.4h0m0.5 14.7h0m0.8 -23.7h0m0.8 5.1h0m0.6 7.1h0m0.7 13.1h0m0.8 -23.3h0m0.7 40.2h0m0.6 -24h0m0.7 10.4h0m0.6 -7.9h0m0.8 -4.8h0m0.7 3.7h0m0.6 -12.6h0m0.7 12.3h0m0.8 -2h0m0.6 7.9h0m0.9 1.9h0m0.6 4.1h0m0.8 2h0m0.5 -14.9h0m0.7 -8.3h0m0.8 3.2h0m0.8 4.2h0m0.7 6.9h0m0.6 -8.8h0m0.7 18.5h0m0.8 -21.6h0m0.7 8.6h0m0.7 -0.7h0m0.6 -21h0m0.8 30.3h0m0.7 -17.7h0m0.5 -12.7h0m0.9 -0.2h0m0.5 10.4h0m0.8 -7h0m0.7 31h0m0.8 -29.7h0m0.7 5.4h0m0.6 11.6h0m0.7 -16.2h0m0.8 18.4h0m0.5 -12.2h0m0.7 17.9h0m0.8 -10h0m0.6 -7.6h0m0.7 2.7h0m0.7 -15.5h0m0.9 3.2h0m0.6 26.6h0m0.7 1.9h0m0.6 -24.6h0m0.8 15h0m0.8 -20.8h0m0.7 27.7h0m0.6 -12.9h0m0.7 -8.5h0m0.8 13.4h0m0.6 -3.9h0m0.8 0.3h0m0.7 7.8h0m0.6 -12.5h0m0.7 18.3h0m0.7 -7.1h0m0.8 2.7h0m0.6 0.7h0m0.6 -4.4h0m0.9 -17.1h0m0.6 -0.6h0m0.8 1.7h0m0.7 -0.8h0m0.7 20h0m0.7 0.3h0m0.7 -28.3h0m0.5 16.2h0m0.9 -11.7h0m0.5 16.7h0m0.9 -22.1h0m0.7 -0.9h0m0.6 1.9h0m0.7 19.2h0m0.6 13.9h0m0.7 -12.9h0m0.9 6.5h0m0.7 -0.5h0m0.6 -18.3h0m0.7 -0.5h0m0.8 7.5h0m0.5 -8.9h0m0.8 -3.7h0m0.8 3.1h0m0.5 12.9h0m0.9 -5.6h0m0.7 0.4h0m0.7 -20.4h0m0.7 16.6h0m0.5 -7h0m0.7 -2.5h0m0.8 2.5h0m0.8 -5.2h0m0.5 -8h0m0.9 18.5h0m0.5 -10.9h0m0.8 19.3h0m0.8 -18.8h0m0.5 -5.2h0m0.8 -6.7h0m0.8 2.7h0m0.5 14.7h0m0.7 -5.6h0m0.9 6.2h0m0.7 1.2h0m0.5 0.4h0m0.9 -23.1h0m0.6 14h0m0.6 1.7h0m0.9 -18.3h0m0.5 8.7h0m0.7 -4.9h0m0.7 -1h0m0.8 3.9h0m0.8 14.7h0m0.5 -8.8h0m0.8 -11.3h0m0.8 -6.6h0m0.7 11.2h0m0.5 -12.1h0m0.7 10.4h0m0.8 -0.8h0m0.7 8.1h0m0.8 -11.3h0m0.6 -12.3h0m0.7 11.5h0m0.8 -9.2h0m0.5 3.9h0m0.9 -13.1h0m0.7 17.9h0m0.6 -3.1h0m0.8 -2.4h0m0.5 -3.4h0m0.8 -13.7h0m0.8 9.1h0m0.5 -11.1h0m0.9 7.9h0m0.6 -1.7h0m0.8 2.7h0m0.7 -15.7h0m0.5 1.8h0m0.7 7.7h0m0.8 -12.8h0m0.6 -0.4h0m0.7 -0.1h0m0.8 -6.8h0m0.7 -0.2h0m0.8 -4.5h0m0.5 10.9h0m0.7 -1.4h0m0.8 -1.8h0m0.6 -2.3h0m0.9 -4.9h0m0.5 -7.4h0m0.7 2.7h0m0.7 -8.7h0m0.7 -11.7h0m0.9 17.2h0m0.7 -10.9h0m0.6 -6.5h0m0.6 6.7h0m0.9 -14.6h0m0.7 11.4h0m0.7 -6.4h0m0.7 0.7h0m0.5 -5.8h0m0.9 1.5h0m0.6 -14.4h0m0.6 -1.4h0m0.8 5.1h0m0.7 0.5h0m0.8 -5.9h0m0.7 -4.6h0m0.6 0.1h0m0.8 0.1h0m0.7 -8.9h0m0.7 1.7h0m0.6 -0.7h0m0.8 -7.2h0m0.7 -6.1h0m0.5 0.7h0m0.9 -4.8h0m0.7 0.1h0m0.7 4.7h0m0.5 -10.6h0m0.8 -2h0m0.7 1.2h0m0.8 -2h0m0.6 -7.7h0m0.6 6.3h0m0.9 -5.7h0m0.5 -1.5h0m0.7 -0.9h0m0.8 -1h0m0.7 -6.8h0m0.8 5.1h0m0.5 0.3h0m0.7 1.6h0m0.9 -3.6h0m0.6 0.5h0m0.6 4.5h0m0.9 -4.5h0m0.7 -6.4h0m0.7 10.7h0m0.6 -2.1h0m0.7 -2.7h0m0.7 8.7h0m0.6 2.9h0m0.7 -0.5h0m0.7 1.7h0m0.9 -1.4h0m0.6 -3.4h0m0.6 -2h0m0.8 13.3h0m0.8 0.5h0m0.6 -3.8h0m0.8 -3.1h0m0.5 0.6h0m0.8 6.3h0m0.8 -1.8h0m0.7 5.4h0m0.7 -2.1h0m0.5 4.4h0m0.9 12.6h0m0.7 -0.2h0m0.6 5.4h0m0.8 1.7h0m0.5 1.9h0m0.9 -0.8h0m0.7 -2.9h0m0.5 -2.9h0m0.9 3.6h0m0.6 9.2h0m0.6 3h0m0.9 3.2h0m0.7 8.9h0m0.7 -5.6h0m0.7 10.2h0m0.6 -6.6h0m0.7 8.2h0m0.7 3.9h0m0.7 -9.1h0m0.8 3.5h0m0.7 15h0m0.6 -8.7h0m0.7 5.9h0m0.8 -2.2h0m0.7 7.8h0m0.5 -5h0m0.7 9.3h0m0.9 5.2h0m0.6 4.6h0m0.6 -8.8h0m0.7 14.6h0m0.9 -10.6h0m0.6 8h0m0.7 7.9h0m0.7 0.4h0m0.7 -3.2h0m0.6 5.5h0m0.9 1.5h0m0.6 1.8h0m0.8 -5.5h0m0.5 7.4h0m0.7 -6.4h0m0.7 3.6h0m0.9 8.3h0m0.6 4.1h0m0.6 2.5h0m0.7 3.2h0m0.8 -11h0m0.6 15.6h0m0.9 -0.6h0m0.6 -15.9h0m0.7 9.8h0m0.6 -3h0m0.7 5.3h0m0.7 0.3h0m0.9 -2.8h0m0.5 13.8h0m0.7 -13.7h0m0.7 -1.7h0m0.7 3.1h0m0.7 14.3h0m0.9 -10.1h0m0.5 15.6h0m0.7 -5h0m0.8 0h0m0.6 -1h0m0.8 9.9h0m0.8 -10h0m0.6 3.2h0m0.7 -9.3h0m0.6 1.8h0m0.8 9.2h0m0.7 8.2h0m0.8 -2.5h0m0.7 -12.2h0m0.5 -0.2h0m0.9 -5.1h0m0.7 0.2h0m0.5 12.1h0m0.7 -8.2h0m0.8 3.1h0m0.7 17.4h0m0.8 -6.2h0m0.7 5h0m0.7 -16.1h0m0.6 -2.6h0m0.6 -3.1h0m0.8 12.9h0m0.7 12.9h0m0.8 -16.4h0m0.6 6.8h0m0.6 -3h0m0.7 12.2h0m0.7 -20.9h0m0.8 10.9h0m0.6 8.1h0m0.8 -0.2h0m0.7 -1.2h0m0.6 -1.6h0m0.7 -4.7h0m0.8 -9h0m0.7 9.7h0m0.7 13.8h0m0.6 -6h0m0.7 3.5h0m0.8 -13.5h0m0.7 0.7h0m0.8 10.6h0m0.5 9.4h0m0.9 5.2h0m0.5 -3.7h0m0.9 -3.3h0m0.7 -6.2h0m0.7 0.8h0m0.7 -5.7h0m0.6 3h0m0.8 0.3h0m0.7 16.2h0m0.6 -19.6h0m0.7 13.5h0m0.8 1.7h0m0.5 9.4h0m0.7 -16h0m0.9 0.2h0m0.6 -6.8h0m0.8 10.4h0m0.5 -3.3h0m0.9 8.9h0m0.6 10.3h0m0.8 -9.9h0m0.7 -1.9h0m0.6 11.3h0m0.6 -14.8h0m0.8 16.6h0m0.7 -22.6h0m0.8 21h0m0.7 -0.3h0m0.7 5.4h0m0.5 5.2h0m0.7 -4.1h0m0.9 -16.6h0m0.5 7.8h0m0.8 -6.1h0m0.8 10h0m0.6 1.5h0m0.8 6.8h0m0.5 -19h0m0.8 3.2h0m0.7 21.7h0m0.8 -18.2h0m0.6 -5.5h0m0.8 0.2h0m0.5 14.7h0m0.9 5h0m0.6 -5.1h0m0.6 5h0m0.7 -14.2h0m0.7 -8h0m0.9 26.7h0m0.5 -4.8h0m0.8 -8.4h0m0.6 -14.3h0m0.7 23.6h0m0.7 -26.1h0m0.8 4.1h0m0.7 28.9h0m0.8 -25.5h0m0.7 2.8h0m0.5 -6.7h0m0.8 31.8h0m0.6 -6.3h0m0.8 -8.3h0m0.8 2.4h0m0.6 -17.5h0m0.7 28.5h0m0.7 -2.6h0m0.6 -2.6h0m0.8 -9.9h0m0.6 0.6h0m0.9 -7.2h0m0.5 1.2h0m0.7 -10.5h0m0.7 15.5h0m0.8 -1.7h0m0.8 -11.9h0m0.5 -2h0m0.7 19.1h0m0.8 10.8h0m0.7 -25.9h0m0.7 14.4h0m0.7 8h0m0.6 -3.8h0m0.8 -26.6h0m0.8 20.7h0m0.5 -11h0m0.8 19.7h0m0.8 -5.7h0m0.5 -5.6h0m0.7 -16.7h0m0.7 15.4h0m0.7 6.4h0m0.7 -7.4h0m0.9 10.7h0m0.5 -27.9h0m0.8 5.4h0m0.6 20.9h0m0.8 -9.2h0m0.8 -17.2h0m0.7 20.5h0m0.6 -17.1h0m0.7 5.6h0m0.7 -3.7h0m0.8 18.4h0m0.6 3h0m0.8 -32.5h0m0.7 22.4h0m0.6 -20.5h0m0.7 14.5h0m0.7 2h0m0.6 -5.2h0m0.7 -5.7h0m0.8 19.3h0m0.8 -7.3h0m0.5 -23h0m0.8 -0.9h0m0.6 18.7h0m0.8 8h0m0.8 -13.8h0m0.5 12.7h0m0.8 -16h0m0.6 -6.2h0m0.7 27.1h0m0.9 -7.4h0m0.6 6.6h0m0.6 -14.5h0m0.7 9.8h0m0.8 -12.7h0m0.8 11.2h0m0.7 -13.2h0m0.7 6.9h0m0.7 -33.4h0m0.5 13.5h0m0.7 15.6h0m0.9 1.1h0m0.7 2.4h0m0.5 -12.8h0m0.7 20.2h0m0.7 -14.8h0m0.9 -15.9h0m0.6 18.2h0m0.7 -22.6h0m0.7 4.9h0m0.6 6.5h0m0.9 -6.7h0m0.6 20.9h0m0.6 -14.8h0m0.7 1.6h0m0.9 -5.4h0m0.5 10h0m0.7 -2.2h0m0.7 -11.9h0m0.7 18.5h0m0.8 -19.2h0m0.8 -4.2h0m0.7 -4.2h0m0.5 30.5h0m0.8 -31.4h0m0.6 15.5h0m0.9 -7.5h0m0.7 5.3h0m0.5 -0.8h0m0.8 12.7h0m0.7 -35h0m0.6 33.3h0m0.8 0.5h0m0.7 -16.7h0m0.6 17.5h0m0.8 -7.6h0m0.7 -23h0m0.7 0.8h0m0.8 11.9h0m0.5 20.5h0m0.8 -12.5h0m0.6 -23.1h0m0.7 17.8h0m0.7 8.9h0m0.9 -0.5h0m0.6 0.8h0m0.6 -4.5h0m0.9 4.2h0m0.6 -0.9h0m0.6 -19.5h0m0.8 -7.9h0m0.7 17.1h0m0.6 7h0m0.8 -21.2h0m0.7 2.8h0m0.6 -6.5h0m0.9 -4.6h0m0.7 18.8h0m0.6 -16.5h0m0.8 15.3h0m0.6 12.1h0m0.6 -16.5h0m0.8 4.3h0m0.8 -16.5h0m0.7 5.9h0m0.6 -12.5h0m0.7 24.9h0m0.8 -5h0m0.6 -2.2h0m0.7 -4.1h0m0.6 16.2h0m0.8 -31.3h0m0.6 34.5h0m0.9 -26.8h0m0.7 17.5h0m0.5 -7.1h0m0.8 8h0m0.7 2.3h0m0.6 -7.6h0m0.8 11.2h0m0.7 -21.8h0m0.8 14.9h0m0.7 -6.2h0m0.5 -22h0m0.7 35h0m0.7 -2h0m0.7 -29.4h0m0.7 14.7h0m0.8 -11.6h0m0.7 15.4h0m0.7 -0.7h0m0.8 -19.4h0m0.6 20.9h0m0.8 -12.7h0m0.7 -1.8h0m0.5 27.2h0m0.8 -36.3h0m0.7 24.7h0m0.6 6.8h0m0.8 0.4h0m0.7 -1.8h0m0.6 -19.3h0m0.8 22.1h0m0.8 -27.7h0m0.7 2.8h0m0.5 10.8h0m0.7 -0.1h0m0.8 8.4h0m0.7 -19.8h0m0.6 7.8h0m0.7 20.9h0m0.9 -3.2h0m0.6 -12.6h0m0.7 -8.4h0m0.6 12.4h0m0.8 13.3h0m0.6 -31.8h0m0.8 15.1h0m0.8 -13.4h0m0.5 3.7h0m0.9 2.5h0m0.7 23.4h0m0.5 -25.9h0m0.8 6.4h0m0.6 8.8h0m0.9 -6.3h0m0.6 -7.5h0m0.6 17.3h0m0.7 -0.6h0m0.8 -10.8h0m0.8 27.1h0m0.7 -19.5h0m0.6 18.1h0m0.6 4.3h0m0.9 -14.2h0m0.6 13.4h0m0.7 -22.3h0m0.6 -19.6h0m0.9 28.4h0m0.5 2.7h0m0.7 -9.8h0m0.9 8.5h0m0.7 20.7h0m0.7 -2.8h0m0.6 -10.8h0m0.7 -8h0m0.8 -12.1h0m0.5 15.6h0m0.7 18.6h0m0.7 -20.5h0m0.9 3.4h0m0.5 20h0m0.8 -5.1h0m0.6 -20h0m0.8 25.9h0m0.7 -6.3h0m0.8 -17.3h0m0.7 22.4h0m0.7 -12.4h0m0.7 7.8h0m0.7 6.2h0m0.7 2.3h0m0.6 -22.5h0m0.6 22.5h0m0.7 -16.7h0m0.7 19.3h0m0.9 -6.4h0m0.5 9.5h0m0.8 -32.5h0m0.7 32h0m0.7 -2h0m0.6 -5.6h0m0.9 -3.9h0m0.5 -16.9h0m0.9 22h0m0.7 -3.6h0m0.6 -2.2h0m0.7 8.9h0m0.8 -6h0m0.7 18.2h0m0.6 -0.3h0m0.7 -0.3h0m0.6 -32.2h0m0.8 21.8h0m0.7 8.6h0m0.6 -6.7h0m0.7 10.6h0m0.7 -30.8h0m0.7 21.4h0m0.9 -12.7h0m0.5 -1.8h0m-206.3 30.5h0m7.2 4.8h0m7.2 4.8h0m7.2 4.8h0m7.2 4.8h0m7.2 4.8h0" fill="none" stroke="#1c4e98" stroke-width="11" stroke-linecap="round"/>
<g fill="#111" font-size="79" text-anchor="middle">
<text x="196.0" y="1507">1000</text>
<text x="691.25" y="1507">1500</text>
<text x="1186.5" y="1507">2000</text>
<text x="1681.75" y="1507">2500</text>
<text x="2177.0" y="1507">3000</text>
</g>
<g fill="#111" font-size="80">
<text x="517" y="503">D</text>
<text x="749" y="417">G</text>
<text x="1806" y="149">2D</text>
<text x="2008" y="912" font-size="76">G+D</text>
<text x="1170" y="508">850°C</text>
<text x="1170" y="929">750°C</text>
<text x="1170" y="1295">650°C</text>
</g>
<g fill="#000" font-weight="bold" font-size="90">
<text x="845" y="1661">Raman shift <tspan x="1346">(cm</tspan><tspan font-size="60" x="1482" y="1617">-</tspan><tspan font-size="60" x="1502" y="1617">1</tspan><tspan x="1534" y="1661">)</tspan></text>
<text transform="translate(99 1158) rotate(-90)">Raman intensity (a.u.)</text>
</g>
</svg></div>
</body></html>
